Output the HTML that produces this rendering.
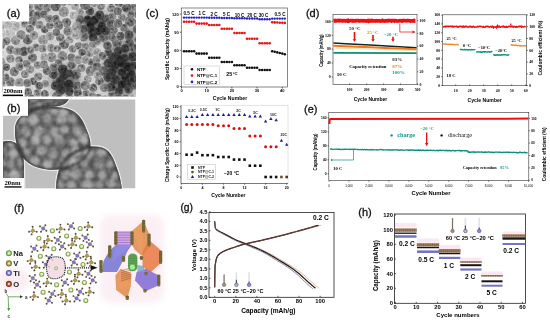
<!DOCTYPE html>
<html><head><meta charset="utf-8"><style>
html,body{margin:0;padding:0;background:#fff;width:550px;height:324px;overflow:hidden}
svg{display:block;will-change:transform}
</style></head><body>
<svg width="550" height="324" viewBox="0 0 550 324">
<defs>
<clipPath id="clipA"><rect x="2.5" y="4" width="133.5" height="92.5"/></clipPath>
<clipPath id="clipB"><rect x="3" y="99.3" width="132.5" height="89.3"/></clipPath>
<clipPath id="clipBp"><path d="M15,127 C17,116 28,109 42,107.5 C54,106.5 64,107 72,110.5 C80,115 84,122 87,131 C90,138 91,143 90,148 C88,156 82,162 72,166 C62,170 50,171 40,168 C32,166 26,162 22,156 C18,149 15,140 15,133 Z M28,98 L69,98 C68,103 62,106 55,106.5 C47,107 40,106.5 33,110 L28,114 Z M56,190 C56,180 58,170 62,163 C68,156 78,149 90,146.5 C98,146 104,147 108,151 C112,155 114,160 116,166 C119,173 121,181 122,190 Z M2,142 C8,140 15,141 19,146 C23,152 24,160 24,170 L24,190 L2,190 Z"/></clipPath>
<filter id="blur05" x="-5%" y="-5%" width="110%" height="110%"><feGaussianBlur stdDeviation="0.5"/></filter>
<filter id="blur4" x="-100%" y="-100%" width="300%" height="300%"><feGaussianBlur stdDeviation="4"/></filter>
<filter id="blur6" x="-100%" y="-100%" width="300%" height="300%"><feGaussianBlur stdDeviation="6"/></filter>
<filter id="noise" x="0" y="0" width="100%" height="100%" color-interpolation-filters="sRGB"><feTurbulence type="fractalNoise" baseFrequency="0.3" numOctaves="2" seed="4" result="n"/><feColorMatrix in="n" type="matrix" values="1 0 0 0 0  1 0 0 0 0  1 0 0 0 0  0 0 0 0 1"/><feComponentTransfer><feFuncR type="linear" slope="3" intercept="-1"/><feFuncG type="linear" slope="3" intercept="-1"/><feFuncB type="linear" slope="3" intercept="-1"/></feComponentTransfer></filter>
<filter id="noiseB" x="0" y="0" width="100%" height="100%" color-interpolation-filters="sRGB"><feTurbulence type="fractalNoise" baseFrequency="0.18" numOctaves="2" seed="9" result="n"/><feColorMatrix in="n" type="matrix" values="1 0 0 0 0  1 0 0 0 0  1 0 0 0 0  0 0 0 0 1"/><feComponentTransfer><feFuncR type="linear" slope="3" intercept="-1"/><feFuncG type="linear" slope="3" intercept="-1"/><feFuncB type="linear" slope="3" intercept="-1"/></feComponentTransfer></filter>
<filter id="blur06" x="-50%" y="-50%" width="200%" height="200%"><feGaussianBlur stdDeviation="0.6"/></filter>
<filter id="blur1" x="-50%" y="-50%" width="200%" height="200%"><feGaussianBlur stdDeviation="1"/></filter>
<filter id="blur15" x="-50%" y="-50%" width="200%" height="200%"><feGaussianBlur stdDeviation="1.5"/></filter>
<filter id="blur3" x="-50%" y="-50%" width="200%" height="200%"><feGaussianBlur stdDeviation="3"/></filter>
</defs>
<rect width="550" height="324" fill="#fff"/>
<g clip-path="url(#clipA)">
<rect x="2.5" y="4" width="133.5" height="92.5" fill="#d0d0d0" stroke="none" stroke-width="0.8" />
<g filter="url(#blur05)">
<circle cx="62.4" cy="56.4" r="5.7" fill="#dcdcdc" opacity="0.55"/>
<circle cx="62.4" cy="56.4" r="5.1" fill="rgb(138,138,138)"/>
<circle cx="63.7" cy="58.8" r="0.78" fill="rgb(91,91,91)" opacity="0.85"/>
<circle cx="61.7" cy="58.0" r="1.2" fill="rgb(99,99,99)" opacity="0.85"/>
<circle cx="63.0" cy="58.6" r="1.3" fill="rgb(93,93,93)" opacity="0.85"/>
<circle cx="60.5" cy="55.7" r="0.7" fill="rgb(168,168,168)" opacity="0.7"/>
<circle cx="64.5" cy="57.7" r="0.63" fill="rgb(179,179,179)" opacity="0.7"/>
<circle cx="24.0" cy="51.5" r="5.2" fill="#dcdcdc" opacity="0.06"/>
<circle cx="24.0" cy="51.5" r="4.6" fill="rgb(111,111,111)"/>
<circle cx="23.1" cy="52.8" r="1.1" fill="rgb(66,66,66)" opacity="0.85"/>
<circle cx="25.9" cy="52.5" r="0.93" fill="rgb(59,59,59)" opacity="0.85"/>
<circle cx="25.1" cy="51.6" r="1.2" fill="rgb(78,78,78)" opacity="0.85"/>
<circle cx="21.8" cy="53.1" r="0.97" fill="rgb(146,146,146)" opacity="0.7"/>
<circle cx="23.3" cy="51.9" r="0.61" fill="rgb(146,146,146)" opacity="0.7"/>
<circle cx="111.3" cy="8.6" r="4.8" fill="#dcdcdc" opacity="0.55"/>
<circle cx="111.3" cy="8.6" r="4.2" fill="rgb(140,140,140)"/>
<circle cx="112.7" cy="6.8" r="1" fill="rgb(89,89,89)" opacity="0.85"/>
<circle cx="110.6" cy="6.5" r="1.2" fill="rgb(80,80,80)" opacity="0.85"/>
<circle cx="112.5" cy="10.2" r="0.72" fill="rgb(88,88,88)" opacity="0.85"/>
<circle cx="111.8" cy="10.1" r="0.74" fill="rgb(107,107,107)" opacity="0.85"/>
<circle cx="109.7" cy="9.4" r="0.91" fill="rgb(184,184,184)" opacity="0.7"/>
<circle cx="10.5" cy="82.0" r="5.3" fill="#dcdcdc" opacity="0.55"/>
<circle cx="10.5" cy="82.0" r="4.7" fill="rgb(127,127,127)"/>
<circle cx="8.0" cy="81.8" r="1.3" fill="rgb(86,86,86)" opacity="0.85"/>
<circle cx="8.4" cy="82.0" r="1.1" fill="rgb(89,89,89)" opacity="0.85"/>
<circle cx="10.3" cy="84.1" r="0.81" fill="rgb(74,74,74)" opacity="0.85"/>
<circle cx="11.8" cy="83.4" r="0.8" fill="rgb(171,171,171)" opacity="0.7"/>
<circle cx="3.5" cy="99.7" r="5.7" fill="#dcdcdc" opacity="0.55"/>
<circle cx="3.5" cy="99.7" r="5.1" fill="rgb(122,122,122)"/>
<circle cx="5.5" cy="99.6" r="1.2" fill="rgb(84,84,84)" opacity="0.85"/>
<circle cx="2.4" cy="97.0" r="1" fill="rgb(65,65,65)" opacity="0.85"/>
<circle cx="3.7" cy="100.0" r="0.91" fill="rgb(85,85,85)" opacity="0.85"/>
<circle cx="5.5" cy="98.8" r="1.2" fill="rgb(64,64,64)" opacity="0.85"/>
<circle cx="2.7" cy="101.1" r="0.72" fill="rgb(72,72,72)" opacity="0.85"/>
<circle cx="6.5" cy="100.2" r="0.96" fill="rgb(156,156,156)" opacity="0.7"/>
<circle cx="4.5" cy="100.6" r="0.89" fill="rgb(166,166,166)" opacity="0.7"/>
<circle cx="91.3" cy="62.1" r="4.5" fill="#dcdcdc" opacity="0.55"/>
<circle cx="91.3" cy="62.1" r="3.9" fill="rgb(123,123,123)"/>
<circle cx="92.9" cy="60.6" r="0.93" fill="rgb(87,87,87)" opacity="0.85"/>
<circle cx="91.9" cy="62.0" r="1.1" fill="rgb(69,69,69)" opacity="0.85"/>
<circle cx="90.9" cy="62.7" r="0.77" fill="rgb(81,81,81)" opacity="0.85"/>
<circle cx="89.7" cy="62.5" r="1.2" fill="rgb(72,72,72)" opacity="0.85"/>
<circle cx="92.9" cy="61.0" r="0.8" fill="rgb(154,154,154)" opacity="0.7"/>
<circle cx="-0.3" cy="53.2" r="4.4" fill="#dcdcdc" opacity="0.55"/>
<circle cx="-0.3" cy="53.2" r="3.8" fill="rgb(163,163,163)"/>
<circle cx="0.3" cy="52.7" r="1.3" fill="rgb(104,104,104)" opacity="0.85"/>
<circle cx="-1.4" cy="54.2" r="0.78" fill="rgb(117,117,117)" opacity="0.85"/>
<circle cx="0.3" cy="51.8" r="0.78" fill="rgb(126,126,126)" opacity="0.85"/>
<circle cx="1.0" cy="53.5" r="0.93" fill="rgb(200,200,200)" opacity="0.7"/>
<circle cx="24.8" cy="23.8" r="4.3" fill="#dcdcdc" opacity="0.55"/>
<circle cx="24.8" cy="23.8" r="3.7" fill="rgb(144,144,144)"/>
<circle cx="24.2" cy="22.4" r="1.3" fill="rgb(106,106,106)" opacity="0.85"/>
<circle cx="26.1" cy="22.6" r="1.2" fill="rgb(85,85,85)" opacity="0.85"/>
<circle cx="22.9" cy="23.2" r="1.2" fill="rgb(89,89,89)" opacity="0.85"/>
<circle cx="24.3" cy="24.3" r="1" fill="rgb(97,97,97)" opacity="0.85"/>
<circle cx="25.4" cy="22.0" r="0.69" fill="rgb(177,177,177)" opacity="0.7"/>
<circle cx="64.1" cy="44.2" r="5.6" fill="#dcdcdc" opacity="0.55"/>
<circle cx="64.1" cy="44.2" r="5" fill="rgb(115,115,115)"/>
<circle cx="61.8" cy="43.7" r="1.1" fill="rgb(63,63,63)" opacity="0.85"/>
<circle cx="63.5" cy="46.2" r="0.97" fill="rgb(63,63,63)" opacity="0.85"/>
<circle cx="63.9" cy="41.6" r="1.1" fill="rgb(81,81,81)" opacity="0.85"/>
<circle cx="65.2" cy="44.8" r="0.89" fill="rgb(149,149,149)" opacity="0.7"/>
<circle cx="72.0" cy="64.6" r="5" fill="#dcdcdc" opacity="0.49"/>
<circle cx="72.0" cy="64.6" r="4.4" fill="rgb(135,135,135)"/>
<circle cx="72.8" cy="63.0" r="0.74" fill="rgb(89,89,89)" opacity="0.85"/>
<circle cx="73.4" cy="66.5" r="1.2" fill="rgb(78,78,78)" opacity="0.85"/>
<circle cx="69.9" cy="66.2" r="0.93" fill="rgb(95,95,95)" opacity="0.85"/>
<circle cx="73.6" cy="63.9" r="0.99" fill="rgb(79,79,79)" opacity="0.85"/>
<circle cx="70.0" cy="64.8" r="0.89" fill="rgb(160,160,160)" opacity="0.7"/>
<circle cx="72.5" cy="62.5" r="0.87" fill="rgb(171,171,171)" opacity="0.7"/>
<circle cx="92.6" cy="45.9" r="4.7" fill="#dcdcdc" opacity="0.54"/>
<circle cx="92.6" cy="45.9" r="4.1" fill="rgb(151,151,151)"/>
<circle cx="93.5" cy="44.5" r="0.9" fill="rgb(94,94,94)" opacity="0.85"/>
<circle cx="94.3" cy="44.9" r="0.84" fill="rgb(97,97,97)" opacity="0.85"/>
<circle cx="90.5" cy="46.1" r="1.1" fill="rgb(111,111,111)" opacity="0.85"/>
<circle cx="91.9" cy="46.3" r="1.2" fill="rgb(117,117,117)" opacity="0.85"/>
<circle cx="94.2" cy="46.0" r="1.1" fill="rgb(105,105,105)" opacity="0.85"/>
<circle cx="91.7" cy="43.6" r="0.61" fill="rgb(190,190,190)" opacity="0.7"/>
<circle cx="140.7" cy="101.1" r="5.6" fill="#dcdcdc" opacity="0.55"/>
<circle cx="140.7" cy="101.1" r="5" fill="rgb(122,122,122)"/>
<circle cx="142.6" cy="103.0" r="1.1" fill="rgb(63,63,63)" opacity="0.85"/>
<circle cx="139.3" cy="101.8" r="0.76" fill="rgb(77,77,77)" opacity="0.85"/>
<circle cx="143.1" cy="102.1" r="1.2" fill="rgb(89,89,89)" opacity="0.85"/>
<circle cx="139.6" cy="99.2" r="1.3" fill="rgb(90,90,90)" opacity="0.85"/>
<circle cx="141.3" cy="101.5" r="0.91" fill="rgb(153,153,153)" opacity="0.7"/>
<circle cx="99.1" cy="31.3" r="4.6" fill="#dcdcdc" opacity="0.04"/>
<circle cx="99.1" cy="31.3" r="4" fill="rgb(91,91,91)"/>
<circle cx="98.8" cy="31.2" r="0.87" fill="rgb(33,33,33)" opacity="0.85"/>
<circle cx="98.7" cy="30.8" r="0.86" fill="rgb(48,48,48)" opacity="0.85"/>
<circle cx="97.6" cy="29.5" r="1.1" fill="rgb(56,56,56)" opacity="0.85"/>
<circle cx="99.5" cy="32.1" r="0.94" fill="rgb(124,124,124)" opacity="0.7"/>
<circle cx="97.9" cy="32.5" r="0.88" fill="rgb(116,116,116)" opacity="0.7"/>
<circle cx="39.0" cy="6.2" r="5.4" fill="#dcdcdc" opacity="0.45"/>
<circle cx="39.0" cy="6.2" r="4.8" fill="rgb(140,140,140)"/>
<circle cx="40.7" cy="5.9" r="0.83" fill="rgb(107,107,107)" opacity="0.85"/>
<circle cx="37.1" cy="7.1" r="1" fill="rgb(84,84,84)" opacity="0.85"/>
<circle cx="38.4" cy="8.0" r="0.92" fill="rgb(90,90,90)" opacity="0.85"/>
<circle cx="39.3" cy="8.8" r="0.85" fill="rgb(105,105,105)" opacity="0.85"/>
<circle cx="38.5" cy="4.5" r="0.93" fill="rgb(173,173,173)" opacity="0.7"/>
<circle cx="41.7" cy="5.6" r="0.8" fill="rgb(175,175,175)" opacity="0.7"/>
<circle cx="55.0" cy="85.8" r="4.9" fill="#dcdcdc" opacity="0.24"/>
<circle cx="55.0" cy="85.8" r="4.3" fill="rgb(108,108,108)"/>
<circle cx="55.1" cy="85.8" r="1.3" fill="rgb(48,48,48)" opacity="0.85"/>
<circle cx="53.8" cy="84.6" r="1.1" fill="rgb(50,50,50)" opacity="0.85"/>
<circle cx="55.3" cy="85.3" r="0.83" fill="rgb(67,67,67)" opacity="0.85"/>
<circle cx="54.7" cy="83.7" r="0.8" fill="rgb(52,52,52)" opacity="0.85"/>
<circle cx="57.0" cy="87.1" r="0.65" fill="rgb(137,137,137)" opacity="0.7"/>
<circle cx="54.6" cy="84.1" r="0.97" fill="rgb(151,151,151)" opacity="0.7"/>
<circle cx="135.0" cy="85.8" r="4.3" fill="#dcdcdc" opacity="0.37"/>
<circle cx="135.0" cy="85.8" r="3.7" fill="rgb(121,121,121)"/>
<circle cx="134.2" cy="86.5" r="0.98" fill="rgb(63,63,63)" opacity="0.85"/>
<circle cx="136.4" cy="87.0" r="1" fill="rgb(68,68,68)" opacity="0.85"/>
<circle cx="133.8" cy="86.0" r="0.95" fill="rgb(71,71,71)" opacity="0.85"/>
<circle cx="134.6" cy="85.4" r="1.2" fill="rgb(88,88,88)" opacity="0.85"/>
<circle cx="134.3" cy="85.3" r="0.8" fill="rgb(157,157,157)" opacity="0.7"/>
<circle cx="133.3" cy="87.2" r="0.73" fill="rgb(160,160,160)" opacity="0.7"/>
<circle cx="27.6" cy="92.3" r="5" fill="#dcdcdc" opacity="0.55"/>
<circle cx="27.6" cy="92.3" r="4.4" fill="rgb(124,124,124)"/>
<circle cx="25.3" cy="93.5" r="0.96" fill="rgb(77,77,77)" opacity="0.85"/>
<circle cx="28.5" cy="93.4" r="0.97" fill="rgb(90,90,90)" opacity="0.85"/>
<circle cx="27.8" cy="90.3" r="0.98" fill="rgb(66,66,66)" opacity="0.85"/>
<circle cx="26.0" cy="91.4" r="0.64" fill="rgb(151,151,151)" opacity="0.7"/>
<circle cx="138.2" cy="39.7" r="4.4" fill="#dcdcdc" opacity="0.42"/>
<circle cx="138.2" cy="39.7" r="3.8" fill="rgb(140,140,140)"/>
<circle cx="139.2" cy="41.0" r="0.86" fill="rgb(106,106,106)" opacity="0.85"/>
<circle cx="137.6" cy="40.5" r="0.86" fill="rgb(100,100,100)" opacity="0.85"/>
<circle cx="136.5" cy="40.0" r="0.77" fill="rgb(107,107,107)" opacity="0.85"/>
<circle cx="138.0" cy="37.8" r="0.73" fill="rgb(100,100,100)" opacity="0.85"/>
<circle cx="137.2" cy="39.6" r="0.68" fill="rgb(168,168,168)" opacity="0.7"/>
<circle cx="87.8" cy="78.8" r="4.7" fill="#dcdcdc" opacity="0.55"/>
<circle cx="87.8" cy="78.8" r="4.1" fill="rgb(155,155,155)"/>
<circle cx="86.0" cy="79.6" r="0.8" fill="rgb(114,114,114)" opacity="0.85"/>
<circle cx="87.4" cy="79.1" r="0.72" fill="rgb(114,114,114)" opacity="0.85"/>
<circle cx="86.3" cy="80.7" r="1" fill="rgb(114,114,114)" opacity="0.85"/>
<circle cx="86.0" cy="78.8" r="1.1" fill="rgb(120,120,120)" opacity="0.85"/>
<circle cx="86.6" cy="78.8" r="0.87" fill="rgb(190,190,190)" opacity="0.7"/>
<circle cx="89.1" cy="79.9" r="0.94" fill="rgb(183,183,183)" opacity="0.7"/>
<circle cx="10.0" cy="33.1" r="5.7" fill="#dcdcdc" opacity="0.55"/>
<circle cx="10.0" cy="33.1" r="5.1" fill="rgb(170,170,170)"/>
<circle cx="7.9" cy="31.6" r="1.1" fill="rgb(129,129,129)" opacity="0.85"/>
<circle cx="7.6" cy="31.6" r="1.3" fill="rgb(138,138,138)" opacity="0.85"/>
<circle cx="8.9" cy="34.0" r="0.8" fill="rgb(116,116,116)" opacity="0.85"/>
<circle cx="9.5" cy="30.2" r="0.6" fill="rgb(207,207,207)" opacity="0.7"/>
<circle cx="12.0" cy="5.1" r="5.5" fill="#dcdcdc" opacity="0.55"/>
<circle cx="12.0" cy="5.1" r="4.9" fill="rgb(146,146,146)"/>
<circle cx="11.4" cy="3.2" r="0.88" fill="rgb(90,90,90)" opacity="0.85"/>
<circle cx="13.3" cy="4.9" r="0.78" fill="rgb(109,109,109)" opacity="0.85"/>
<circle cx="11.2" cy="5.6" r="0.83" fill="rgb(103,103,103)" opacity="0.85"/>
<circle cx="14.2" cy="6.8" r="0.83" fill="rgb(179,179,179)" opacity="0.7"/>
<circle cx="24.9" cy="74.0" r="4.5" fill="#dcdcdc" opacity="0.55"/>
<circle cx="24.9" cy="74.0" r="3.9" fill="rgb(137,137,137)"/>
<circle cx="26.5" cy="73.7" r="0.96" fill="rgb(81,81,81)" opacity="0.85"/>
<circle cx="26.2" cy="72.5" r="0.77" fill="rgb(85,85,85)" opacity="0.85"/>
<circle cx="25.1" cy="74.6" r="0.79" fill="rgb(89,89,89)" opacity="0.85"/>
<circle cx="26.0" cy="72.9" r="1" fill="rgb(93,93,93)" opacity="0.85"/>
<circle cx="26.7" cy="72.8" r="1.2" fill="rgb(101,101,101)" opacity="0.85"/>
<circle cx="23.1" cy="74.6" r="0.94" fill="rgb(168,168,168)" opacity="0.7"/>
<circle cx="89.9" cy="10.9" r="4.9" fill="#dcdcdc" opacity="0.43"/>
<circle cx="89.9" cy="10.9" r="4.3" fill="rgb(113,113,113)"/>
<circle cx="89.7" cy="9.7" r="1.2" fill="rgb(79,79,79)" opacity="0.85"/>
<circle cx="91.1" cy="9.8" r="1.2" fill="rgb(56,56,56)" opacity="0.85"/>
<circle cx="89.2" cy="9.5" r="1.1" fill="rgb(58,58,58)" opacity="0.85"/>
<circle cx="89.3" cy="10.8" r="1.1" fill="rgb(66,66,66)" opacity="0.85"/>
<circle cx="89.9" cy="11.9" r="0.89" fill="rgb(56,56,56)" opacity="0.85"/>
<circle cx="89.2" cy="11.1" r="0.62" fill="rgb(152,152,152)" opacity="0.7"/>
<circle cx="112.8" cy="30.2" r="5.6" fill="#dcdcdc" opacity="0.51"/>
<circle cx="112.8" cy="30.2" r="5" fill="rgb(135,135,135)"/>
<circle cx="115.4" cy="28.8" r="0.87" fill="rgb(89,89,89)" opacity="0.85"/>
<circle cx="112.7" cy="29.2" r="1" fill="rgb(81,81,81)" opacity="0.85"/>
<circle cx="111.5" cy="28.7" r="0.81" fill="rgb(78,78,78)" opacity="0.85"/>
<circle cx="111.7" cy="32.8" r="1.1" fill="rgb(85,85,85)" opacity="0.85"/>
<circle cx="112.1" cy="29.3" r="0.95" fill="rgb(103,103,103)" opacity="0.85"/>
<circle cx="114.2" cy="28.7" r="0.81" fill="rgb(161,161,161)" opacity="0.7"/>
<circle cx="111.1" cy="30.5" r="0.86" fill="rgb(166,166,166)" opacity="0.7"/>
<circle cx="27.7" cy="39.4" r="5.6" fill="#dcdcdc" opacity="0.55"/>
<circle cx="27.7" cy="39.4" r="5" fill="rgb(113,113,113)"/>
<circle cx="28.7" cy="40.8" r="1.2" fill="rgb(71,71,71)" opacity="0.85"/>
<circle cx="27.7" cy="41.1" r="0.88" fill="rgb(70,70,70)" opacity="0.85"/>
<circle cx="28.3" cy="38.9" r="0.91" fill="rgb(65,65,65)" opacity="0.85"/>
<circle cx="26.2" cy="38.7" r="0.68" fill="rgb(144,144,144)" opacity="0.7"/>
<circle cx="26.2" cy="37.4" r="0.64" fill="rgb(155,155,155)" opacity="0.7"/>
<circle cx="44.7" cy="29.4" r="4.4" fill="#dcdcdc" opacity="0.55"/>
<circle cx="44.7" cy="29.4" r="3.8" fill="rgb(123,123,123)"/>
<circle cx="44.8" cy="29.2" r="1.1" fill="rgb(75,75,75)" opacity="0.85"/>
<circle cx="42.8" cy="29.2" r="0.99" fill="rgb(69,69,69)" opacity="0.85"/>
<circle cx="44.2" cy="31.0" r="1" fill="rgb(73,73,73)" opacity="0.85"/>
<circle cx="45.1" cy="27.6" r="1.2" fill="rgb(88,88,88)" opacity="0.85"/>
<circle cx="43.3" cy="31.0" r="0.99" fill="rgb(74,74,74)" opacity="0.85"/>
<circle cx="43.8" cy="29.1" r="0.81" fill="rgb(163,163,163)" opacity="0.7"/>
<circle cx="46.0" cy="28.0" r="0.69" fill="rgb(152,152,152)" opacity="0.7"/>
<circle cx="10.4" cy="58.7" r="4.7" fill="#dcdcdc" opacity="0.55"/>
<circle cx="10.4" cy="58.7" r="4.1" fill="rgb(140,140,140)"/>
<circle cx="10.4" cy="59.2" r="0.99" fill="rgb(104,104,104)" opacity="0.85"/>
<circle cx="9.8" cy="58.0" r="0.88" fill="rgb(97,97,97)" opacity="0.85"/>
<circle cx="8.2" cy="59.2" r="1.1" fill="rgb(99,99,99)" opacity="0.85"/>
<circle cx="12.8" cy="59.1" r="0.78" fill="rgb(83,83,83)" opacity="0.85"/>
<circle cx="9.2" cy="60.4" r="0.94" fill="rgb(174,174,174)" opacity="0.7"/>
<circle cx="83.8" cy="37.1" r="5" fill="#dcdcdc" opacity="0.38"/>
<circle cx="83.8" cy="37.1" r="4.4" fill="rgb(134,134,134)"/>
<circle cx="82.9" cy="36.3" r="1.1" fill="rgb(77,77,77)" opacity="0.85"/>
<circle cx="84.2" cy="35.0" r="0.73" fill="rgb(91,91,91)" opacity="0.85"/>
<circle cx="82.1" cy="37.6" r="1.3" fill="rgb(79,79,79)" opacity="0.85"/>
<circle cx="81.9" cy="38.6" r="0.68" fill="rgb(173,173,173)" opacity="0.7"/>
<circle cx="135.1" cy="48.6" r="5.2" fill="#dcdcdc" opacity="0.47"/>
<circle cx="135.1" cy="48.6" r="4.6" fill="rgb(132,132,132)"/>
<circle cx="133.1" cy="50.2" r="1.3" fill="rgb(84,84,84)" opacity="0.85"/>
<circle cx="137.7" cy="48.8" r="1.1" fill="rgb(79,79,79)" opacity="0.85"/>
<circle cx="135.0" cy="46.2" r="1.1" fill="rgb(86,86,86)" opacity="0.85"/>
<circle cx="136.9" cy="49.8" r="0.77" fill="rgb(92,92,92)" opacity="0.85"/>
<circle cx="135.9" cy="47.4" r="1.1" fill="rgb(94,94,94)" opacity="0.85"/>
<circle cx="133.6" cy="49.7" r="0.65" fill="rgb(160,160,160)" opacity="0.7"/>
<circle cx="133.7" cy="50.3" r="0.74" fill="rgb(175,175,175)" opacity="0.7"/>
<circle cx="121.8" cy="17.7" r="4.5" fill="#dcdcdc" opacity="0.55"/>
<circle cx="121.8" cy="17.7" r="3.9" fill="rgb(146,146,146)"/>
<circle cx="120.7" cy="15.9" r="0.9" fill="rgb(113,113,113)" opacity="0.85"/>
<circle cx="120.5" cy="19.7" r="0.86" fill="rgb(111,111,111)" opacity="0.85"/>
<circle cx="122.0" cy="18.9" r="0.84" fill="rgb(112,112,112)" opacity="0.85"/>
<circle cx="120.7" cy="18.2" r="0.93" fill="rgb(111,111,111)" opacity="0.85"/>
<circle cx="120.1" cy="16.4" r="0.76" fill="rgb(183,183,183)" opacity="0.7"/>
<circle cx="127.9" cy="82.8" r="4.7" fill="#dcdcdc" opacity="0.08"/>
<circle cx="127.9" cy="82.8" r="4.1" fill="rgb(110,110,110)"/>
<circle cx="126.4" cy="83.5" r="1.2" fill="rgb(62,62,62)" opacity="0.85"/>
<circle cx="129.5" cy="84.1" r="1.3" fill="rgb(64,64,64)" opacity="0.85"/>
<circle cx="128.3" cy="80.7" r="1.1" fill="rgb(69,69,69)" opacity="0.85"/>
<circle cx="126.7" cy="84.4" r="0.88" fill="rgb(70,70,70)" opacity="0.85"/>
<circle cx="126.4" cy="83.0" r="0.95" fill="rgb(153,153,153)" opacity="0.7"/>
<circle cx="126.7" cy="83.5" r="0.92" fill="rgb(149,149,149)" opacity="0.7"/>
<circle cx="83.1" cy="29.1" r="4.6" fill="#dcdcdc" opacity="0.16"/>
<circle cx="83.1" cy="29.1" r="4" fill="rgb(112,112,112)"/>
<circle cx="81.0" cy="29.4" r="1" fill="rgb(78,78,78)" opacity="0.85"/>
<circle cx="81.2" cy="28.8" r="0.96" fill="rgb(57,57,57)" opacity="0.85"/>
<circle cx="80.9" cy="28.4" r="1.1" fill="rgb(81,81,81)" opacity="0.85"/>
<circle cx="82.2" cy="31.1" r="1.1" fill="rgb(69,69,69)" opacity="0.85"/>
<circle cx="83.1" cy="28.9" r="0.7" fill="rgb(139,139,139)" opacity="0.7"/>
<circle cx="84.1" cy="31.0" r="0.71" fill="rgb(154,154,154)" opacity="0.7"/>
<circle cx="100.9" cy="6.0" r="4.6" fill="#dcdcdc" opacity="0.55"/>
<circle cx="100.9" cy="6.0" r="4" fill="rgb(143,143,143)"/>
<circle cx="99.4" cy="5.2" r="1" fill="rgb(86,86,86)" opacity="0.85"/>
<circle cx="101.7" cy="8.0" r="1.2" fill="rgb(89,89,89)" opacity="0.85"/>
<circle cx="101.5" cy="3.8" r="0.71" fill="rgb(90,90,90)" opacity="0.85"/>
<circle cx="100.3" cy="8.3" r="1.1" fill="rgb(104,104,104)" opacity="0.85"/>
<circle cx="101.9" cy="4.2" r="1.2" fill="rgb(85,85,85)" opacity="0.85"/>
<circle cx="101.7" cy="7.3" r="0.91" fill="rgb(177,177,177)" opacity="0.7"/>
<circle cx="101.2" cy="5.8" r="0.96" fill="rgb(174,174,174)" opacity="0.7"/>
<circle cx="77.8" cy="86.4" r="5.2" fill="#dcdcdc" opacity="0.41"/>
<circle cx="77.8" cy="86.4" r="4.6" fill="rgb(129,129,129)"/>
<circle cx="76.4" cy="86.7" r="0.89" fill="rgb(94,94,94)" opacity="0.85"/>
<circle cx="79.9" cy="86.7" r="0.94" fill="rgb(92,92,92)" opacity="0.85"/>
<circle cx="75.9" cy="86.8" r="0.97" fill="rgb(84,84,84)" opacity="0.85"/>
<circle cx="80.2" cy="85.9" r="0.81" fill="rgb(157,157,157)" opacity="0.7"/>
<circle cx="78.0" cy="86.4" r="1" fill="rgb(156,156,156)" opacity="0.7"/>
<circle cx="37.7" cy="93.0" r="4.6" fill="#dcdcdc" opacity="0.55"/>
<circle cx="37.7" cy="93.0" r="4" fill="rgb(141,141,141)"/>
<circle cx="36.4" cy="91.4" r="1" fill="rgb(82,82,82)" opacity="0.85"/>
<circle cx="38.9" cy="93.9" r="0.76" fill="rgb(93,93,93)" opacity="0.85"/>
<circle cx="37.1" cy="91.3" r="1.3" fill="rgb(109,109,109)" opacity="0.85"/>
<circle cx="36.8" cy="94.2" r="0.82" fill="rgb(84,84,84)" opacity="0.85"/>
<circle cx="37.6" cy="91.1" r="1.3" fill="rgb(99,99,99)" opacity="0.85"/>
<circle cx="37.0" cy="92.1" r="0.87" fill="rgb(167,167,167)" opacity="0.7"/>
<circle cx="-0.1" cy="26.6" r="5" fill="#dcdcdc" opacity="0.55"/>
<circle cx="-0.1" cy="26.6" r="4.4" fill="rgb(136,136,136)"/>
<circle cx="-2.3" cy="26.6" r="1.1" fill="rgb(90,90,90)" opacity="0.85"/>
<circle cx="0.8" cy="28.5" r="0.73" fill="rgb(104,104,104)" opacity="0.85"/>
<circle cx="-1.1" cy="26.9" r="0.91" fill="rgb(103,103,103)" opacity="0.85"/>
<circle cx="-1.7" cy="25.8" r="1.1" fill="rgb(92,92,92)" opacity="0.85"/>
<circle cx="0.3" cy="28.6" r="0.94" fill="rgb(167,167,167)" opacity="0.7"/>
<circle cx="-1.1" cy="26.7" r="0.65" fill="rgb(164,164,164)" opacity="0.7"/>
<circle cx="6.2" cy="17.1" r="4.9" fill="#dcdcdc" opacity="0.55"/>
<circle cx="6.2" cy="17.1" r="4.3" fill="rgb(149,149,149)"/>
<circle cx="5.9" cy="18.5" r="1.3" fill="rgb(90,90,90)" opacity="0.85"/>
<circle cx="7.6" cy="19.2" r="0.9" fill="rgb(98,98,98)" opacity="0.85"/>
<circle cx="7.7" cy="18.5" r="0.93" fill="rgb(91,91,91)" opacity="0.85"/>
<circle cx="6.6" cy="16.8" r="1.2" fill="rgb(92,92,92)" opacity="0.85"/>
<circle cx="7.2" cy="19.1" r="0.75" fill="rgb(179,179,179)" opacity="0.7"/>
<circle cx="79.6" cy="12.5" r="4.8" fill="#dcdcdc" opacity="0.53"/>
<circle cx="79.6" cy="12.5" r="4.2" fill="rgb(151,151,151)"/>
<circle cx="80.0" cy="12.0" r="1.1" fill="rgb(107,107,107)" opacity="0.85"/>
<circle cx="78.3" cy="13.7" r="0.86" fill="rgb(98,98,98)" opacity="0.85"/>
<circle cx="79.1" cy="13.9" r="0.9" fill="rgb(120,120,120)" opacity="0.85"/>
<circle cx="81.5" cy="12.4" r="0.74" fill="rgb(179,179,179)" opacity="0.7"/>
<circle cx="80.8" cy="12.6" r="0.64" fill="rgb(188,188,188)" opacity="0.7"/>
<circle cx="125.3" cy="99.5" r="5.3" fill="#dcdcdc" opacity="0.46"/>
<circle cx="125.3" cy="99.5" r="4.7" fill="rgb(132,132,132)"/>
<circle cx="126.1" cy="98.2" r="0.73" fill="rgb(91,91,91)" opacity="0.85"/>
<circle cx="123.6" cy="98.7" r="1.1" fill="rgb(84,84,84)" opacity="0.85"/>
<circle cx="127.3" cy="99.5" r="1" fill="rgb(78,78,78)" opacity="0.85"/>
<circle cx="124.8" cy="98.4" r="1.2" fill="rgb(75,75,75)" opacity="0.85"/>
<circle cx="126.2" cy="98.0" r="0.75" fill="rgb(175,175,175)" opacity="0.7"/>
<circle cx="124.7" cy="99.8" r="0.73" fill="rgb(167,167,167)" opacity="0.7"/>
<circle cx="96.7" cy="58.9" r="4.5" fill="#dcdcdc" opacity="0.55"/>
<circle cx="96.7" cy="58.9" r="3.9" fill="rgb(136,136,136)"/>
<circle cx="96.2" cy="60.6" r="0.97" fill="rgb(78,78,78)" opacity="0.85"/>
<circle cx="95.2" cy="58.0" r="0.87" fill="rgb(105,105,105)" opacity="0.85"/>
<circle cx="97.1" cy="56.7" r="0.75" fill="rgb(98,98,98)" opacity="0.85"/>
<circle cx="96.1" cy="59.7" r="0.77" fill="rgb(176,176,176)" opacity="0.7"/>
<circle cx="97.0" cy="57.9" r="0.69" fill="rgb(172,172,172)" opacity="0.7"/>
<circle cx="2.5" cy="0.8" r="5.7" fill="#dcdcdc" opacity="0.55"/>
<circle cx="2.5" cy="0.8" r="5.1" fill="rgb(120,120,120)"/>
<circle cx="3.9" cy="3.1" r="1.2" fill="rgb(64,64,64)" opacity="0.85"/>
<circle cx="2.8" cy="0.1" r="1" fill="rgb(63,63,63)" opacity="0.85"/>
<circle cx="3.6" cy="-1.8" r="1.1" fill="rgb(86,86,86)" opacity="0.85"/>
<circle cx="0.6" cy="0.5" r="0.83" fill="rgb(70,70,70)" opacity="0.85"/>
<circle cx="3.7" cy="-1.6" r="0.63" fill="rgb(160,160,160)" opacity="0.7"/>
<circle cx="98.1" cy="97.7" r="4.3" fill="#dcdcdc" opacity="0.55"/>
<circle cx="98.1" cy="97.7" r="3.7" fill="rgb(120,120,120)"/>
<circle cx="97.9" cy="97.4" r="1.2" fill="rgb(75,75,75)" opacity="0.85"/>
<circle cx="97.4" cy="97.5" r="1.2" fill="rgb(77,77,77)" opacity="0.85"/>
<circle cx="98.4" cy="99.4" r="1.2" fill="rgb(88,88,88)" opacity="0.85"/>
<circle cx="96.1" cy="96.6" r="1.1" fill="rgb(87,87,87)" opacity="0.85"/>
<circle cx="98.8" cy="96.6" r="0.63" fill="rgb(157,157,157)" opacity="0.7"/>
<circle cx="43.3" cy="101.4" r="4.4" fill="#dcdcdc" opacity="0.55"/>
<circle cx="43.3" cy="101.4" r="3.8" fill="rgb(136,136,136)"/>
<circle cx="45.0" cy="100.7" r="1.1" fill="rgb(84,84,84)" opacity="0.85"/>
<circle cx="45.2" cy="101.8" r="0.85" fill="rgb(83,83,83)" opacity="0.85"/>
<circle cx="42.5" cy="100.9" r="1" fill="rgb(95,95,95)" opacity="0.85"/>
<circle cx="44.5" cy="102.6" r="0.74" fill="rgb(82,82,82)" opacity="0.85"/>
<circle cx="44.3" cy="101.3" r="0.82" fill="rgb(93,93,93)" opacity="0.85"/>
<circle cx="45.0" cy="101.7" r="0.71" fill="rgb(175,175,175)" opacity="0.7"/>
<circle cx="43.8" cy="100.9" r="0.75" fill="rgb(164,164,164)" opacity="0.7"/>
<circle cx="75.9" cy="74.5" r="5.7" fill="#dcdcdc" opacity="0.28"/>
<circle cx="75.9" cy="74.5" r="5.1" fill="rgb(139,139,139)"/>
<circle cx="73.7" cy="75.8" r="0.95" fill="rgb(80,80,80)" opacity="0.85"/>
<circle cx="76.0" cy="75.3" r="1.2" fill="rgb(90,90,90)" opacity="0.85"/>
<circle cx="77.4" cy="77.0" r="1.1" fill="rgb(85,85,85)" opacity="0.85"/>
<circle cx="75.9" cy="72.9" r="1" fill="rgb(80,80,80)" opacity="0.85"/>
<circle cx="76.0" cy="75.7" r="0.77" fill="rgb(87,87,87)" opacity="0.85"/>
<circle cx="75.2" cy="76.1" r="0.69" fill="rgb(171,171,171)" opacity="0.7"/>
<circle cx="76.0" cy="75.4" r="0.75" fill="rgb(180,180,180)" opacity="0.7"/>
<circle cx="103.3" cy="71.1" r="5.5" fill="#dcdcdc" opacity="0.38"/>
<circle cx="103.3" cy="71.1" r="4.9" fill="rgb(130,130,130)"/>
<circle cx="104.9" cy="71.9" r="1.2" fill="rgb(91,91,91)" opacity="0.85"/>
<circle cx="101.2" cy="72.9" r="1.2" fill="rgb(98,98,98)" opacity="0.85"/>
<circle cx="104.3" cy="73.7" r="0.7" fill="rgb(79,79,79)" opacity="0.85"/>
<circle cx="105.0" cy="72.2" r="0.96" fill="rgb(162,162,162)" opacity="0.7"/>
<circle cx="102.2" cy="71.8" r="0.97" fill="rgb(162,162,162)" opacity="0.7"/>
<circle cx="128.8" cy="35.1" r="5.3" fill="#dcdcdc" opacity="0.22"/>
<circle cx="128.8" cy="35.1" r="4.7" fill="rgb(121,121,121)"/>
<circle cx="128.4" cy="35.0" r="1.2" fill="rgb(73,73,73)" opacity="0.85"/>
<circle cx="128.0" cy="34.7" r="1.3" fill="rgb(77,77,77)" opacity="0.85"/>
<circle cx="129.1" cy="34.2" r="1" fill="rgb(70,70,70)" opacity="0.85"/>
<circle cx="126.7" cy="35.4" r="0.79" fill="rgb(155,155,155)" opacity="0.7"/>
<circle cx="110.9" cy="87.5" r="5.2" fill="#dcdcdc" opacity="0.26"/>
<circle cx="110.9" cy="87.5" r="4.6" fill="rgb(110,110,110)"/>
<circle cx="109.2" cy="88.1" r="0.78" fill="rgb(58,58,58)" opacity="0.85"/>
<circle cx="109.6" cy="86.9" r="1" fill="rgb(70,70,70)" opacity="0.85"/>
<circle cx="113.6" cy="87.5" r="0.9" fill="rgb(69,69,69)" opacity="0.85"/>
<circle cx="113.7" cy="87.4" r="1.2" fill="rgb(50,50,50)" opacity="0.85"/>
<circle cx="110.3" cy="87.9" r="0.86" fill="rgb(153,153,153)" opacity="0.7"/>
<circle cx="111.6" cy="86.7" r="0.72" fill="rgb(140,140,140)" opacity="0.7"/>
<circle cx="53.2" cy="74.3" r="5.2" fill="#dcdcdc" opacity="0.34"/>
<circle cx="53.2" cy="74.3" r="4.6" fill="rgb(116,116,116)"/>
<circle cx="53.9" cy="75.4" r="1.2" fill="rgb(67,67,67)" opacity="0.85"/>
<circle cx="52.5" cy="75.9" r="1.2" fill="rgb(71,71,71)" opacity="0.85"/>
<circle cx="54.5" cy="73.2" r="1.1" fill="rgb(57,57,57)" opacity="0.85"/>
<circle cx="51.9" cy="73.0" r="1.3" fill="rgb(81,81,81)" opacity="0.85"/>
<circle cx="54.3" cy="75.0" r="0.6" fill="rgb(160,160,160)" opacity="0.7"/>
<circle cx="54.2" cy="76.3" r="0.73" fill="rgb(147,147,147)" opacity="0.7"/>
<circle cx="66.5" cy="22.6" r="5.3" fill="#dcdcdc" opacity="0.55"/>
<circle cx="66.5" cy="22.6" r="4.7" fill="rgb(116,116,116)"/>
<circle cx="67.3" cy="21.4" r="0.82" fill="rgb(76,76,76)" opacity="0.85"/>
<circle cx="67.1" cy="22.6" r="0.87" fill="rgb(68,68,68)" opacity="0.85"/>
<circle cx="66.6" cy="21.3" r="0.89" fill="rgb(70,70,70)" opacity="0.85"/>
<circle cx="65.2" cy="25.1" r="0.92" fill="rgb(141,141,141)" opacity="0.7"/>
<circle cx="34.2" cy="0.2" r="4.8" fill="#dcdcdc" opacity="0.55"/>
<circle cx="34.2" cy="0.2" r="4.2" fill="rgb(135,135,135)"/>
<circle cx="33.8" cy="-0.4" r="1.2" fill="rgb(97,97,97)" opacity="0.85"/>
<circle cx="34.7" cy="2.6" r="1.2" fill="rgb(77,77,77)" opacity="0.85"/>
<circle cx="34.5" cy="1.3" r="1.2" fill="rgb(78,78,78)" opacity="0.85"/>
<circle cx="34.7" cy="1.1" r="0.94" fill="rgb(171,171,171)" opacity="0.7"/>
<circle cx="34.6" cy="0.0" r="0.65" fill="rgb(178,178,178)" opacity="0.7"/>
<circle cx="94.8" cy="19.8" r="4.6" fill="#dcdcdc" opacity="0.02"/>
<circle cx="94.8" cy="19.8" r="4" fill="rgb(91,91,91)"/>
<circle cx="95.5" cy="19.2" r="1.1" fill="rgb(52,52,52)" opacity="0.85"/>
<circle cx="94.7" cy="18.1" r="1.2" fill="rgb(56,56,56)" opacity="0.85"/>
<circle cx="96.2" cy="21.1" r="0.88" fill="rgb(54,54,54)" opacity="0.85"/>
<circle cx="94.3" cy="19.8" r="0.86" fill="rgb(122,122,122)" opacity="0.7"/>
<circle cx="94.2" cy="21.3" r="0.65" fill="rgb(133,133,133)" opacity="0.7"/>
<circle cx="127.5" cy="66.6" r="5" fill="#dcdcdc" opacity="0.01"/>
<circle cx="127.5" cy="66.6" r="4.4" fill="rgb(85,85,85)"/>
<circle cx="125.4" cy="67.6" r="0.95" fill="rgb(32,32,32)" opacity="0.85"/>
<circle cx="129.2" cy="65.8" r="1.3" fill="rgb(53,53,53)" opacity="0.85"/>
<circle cx="127.1" cy="66.0" r="1" fill="rgb(35,35,35)" opacity="0.85"/>
<circle cx="126.8" cy="67.6" r="0.99" fill="rgb(119,119,119)" opacity="0.7"/>
<circle cx="128.7" cy="89.2" r="4.9" fill="#dcdcdc" opacity="0.24"/>
<circle cx="128.7" cy="89.2" r="4.3" fill="rgb(118,118,118)"/>
<circle cx="128.5" cy="91.2" r="0.75" fill="rgb(80,80,80)" opacity="0.85"/>
<circle cx="128.2" cy="90.2" r="0.92" fill="rgb(62,62,62)" opacity="0.85"/>
<circle cx="128.2" cy="89.9" r="1.1" fill="rgb(82,82,82)" opacity="0.85"/>
<circle cx="129.7" cy="89.4" r="0.85" fill="rgb(77,77,77)" opacity="0.85"/>
<circle cx="130.7" cy="89.9" r="0.96" fill="rgb(158,158,158)" opacity="0.7"/>
<circle cx="68.7" cy="84.8" r="5.6" fill="#dcdcdc" opacity="0.02"/>
<circle cx="68.7" cy="84.8" r="5" fill="rgb(99,99,99)"/>
<circle cx="70.5" cy="86.3" r="1" fill="rgb(57,57,57)" opacity="0.85"/>
<circle cx="68.3" cy="85.5" r="0.88" fill="rgb(64,64,64)" opacity="0.85"/>
<circle cx="68.4" cy="83.7" r="0.94" fill="rgb(59,59,59)" opacity="0.85"/>
<circle cx="67.2" cy="85.9" r="0.7" fill="rgb(127,127,127)" opacity="0.7"/>
<circle cx="68.4" cy="31.3" r="5.6" fill="#dcdcdc" opacity="0.55"/>
<circle cx="68.4" cy="31.3" r="5" fill="rgb(140,140,140)"/>
<circle cx="67.4" cy="33.2" r="1.1" fill="rgb(108,108,108)" opacity="0.85"/>
<circle cx="66.6" cy="31.7" r="1.2" fill="rgb(104,104,104)" opacity="0.85"/>
<circle cx="69.4" cy="31.4" r="0.82" fill="rgb(83,83,83)" opacity="0.85"/>
<circle cx="68.9" cy="29.4" r="1.2" fill="rgb(86,86,86)" opacity="0.85"/>
<circle cx="67.1" cy="32.9" r="0.65" fill="rgb(167,167,167)" opacity="0.7"/>
<circle cx="70.7" cy="30.6" r="0.7" fill="rgb(178,178,178)" opacity="0.7"/>
<circle cx="2.0" cy="88.5" r="4.4" fill="#dcdcdc" opacity="0.55"/>
<circle cx="2.0" cy="88.5" r="3.8" fill="rgb(136,136,136)"/>
<circle cx="3.8" cy="89.6" r="1" fill="rgb(78,78,78)" opacity="0.85"/>
<circle cx="3.2" cy="89.8" r="0.76" fill="rgb(81,81,81)" opacity="0.85"/>
<circle cx="1.0" cy="88.9" r="0.94" fill="rgb(80,80,80)" opacity="0.85"/>
<circle cx="3.9" cy="87.5" r="1.1" fill="rgb(88,88,88)" opacity="0.85"/>
<circle cx="1.7" cy="90.2" r="0.84" fill="rgb(163,163,163)" opacity="0.7"/>
<circle cx="0.9" cy="87.0" r="0.9" fill="rgb(169,169,169)" opacity="0.7"/>
<circle cx="111.1" cy="1.0" r="4.5" fill="#dcdcdc" opacity="0.55"/>
<circle cx="111.1" cy="1.0" r="3.9" fill="rgb(113,113,113)"/>
<circle cx="109.5" cy="0.6" r="0.85" fill="rgb(81,81,81)" opacity="0.85"/>
<circle cx="111.6" cy="0.8" r="1.3" fill="rgb(77,77,77)" opacity="0.85"/>
<circle cx="111.3" cy="3.2" r="1.2" fill="rgb(77,77,77)" opacity="0.85"/>
<circle cx="112.2" cy="-0.7" r="0.86" fill="rgb(139,139,139)" opacity="0.7"/>
<circle cx="62.8" cy="1.5" r="5.5" fill="#dcdcdc" opacity="0.55"/>
<circle cx="62.8" cy="1.5" r="4.9" fill="rgb(146,146,146)"/>
<circle cx="61.3" cy="3.0" r="1.2" fill="rgb(100,100,100)" opacity="0.85"/>
<circle cx="63.2" cy="1.6" r="1" fill="rgb(88,88,88)" opacity="0.85"/>
<circle cx="61.4" cy="3.4" r="0.7" fill="rgb(89,89,89)" opacity="0.85"/>
<circle cx="62.3" cy="-1.3" r="0.84" fill="rgb(88,88,88)" opacity="0.85"/>
<circle cx="63.6" cy="1.9" r="0.67" fill="rgb(181,181,181)" opacity="0.7"/>
<circle cx="62.0" cy="2.6" r="0.65" fill="rgb(176,176,176)" opacity="0.7"/>
<circle cx="31.6" cy="13.4" r="4.4" fill="#dcdcdc" opacity="0.48"/>
<circle cx="31.6" cy="13.4" r="3.8" fill="rgb(143,143,143)"/>
<circle cx="30.6" cy="13.3" r="1.3" fill="rgb(104,104,104)" opacity="0.85"/>
<circle cx="31.2" cy="11.2" r="1.2" fill="rgb(100,100,100)" opacity="0.85"/>
<circle cx="30.7" cy="15.2" r="0.98" fill="rgb(87,87,87)" opacity="0.85"/>
<circle cx="33.0" cy="12.6" r="0.71" fill="rgb(174,174,174)" opacity="0.7"/>
<circle cx="29.6" cy="13.6" r="0.63" fill="rgb(181,181,181)" opacity="0.7"/>
<circle cx="23.1" cy="0.1" r="5" fill="#dcdcdc" opacity="0.55"/>
<circle cx="23.1" cy="0.1" r="4.4" fill="rgb(146,146,146)"/>
<circle cx="23.6" cy="0.8" r="0.88" fill="rgb(102,102,102)" opacity="0.85"/>
<circle cx="23.2" cy="-2.2" r="0.87" fill="rgb(91,91,91)" opacity="0.85"/>
<circle cx="21.6" cy="1.3" r="0.99" fill="rgb(87,87,87)" opacity="0.85"/>
<circle cx="23.3" cy="1.2" r="1" fill="rgb(102,102,102)" opacity="0.85"/>
<circle cx="24.0" cy="1.1" r="0.81" fill="rgb(96,96,96)" opacity="0.85"/>
<circle cx="21.5" cy="0.8" r="0.75" fill="rgb(183,183,183)" opacity="0.7"/>
<circle cx="24.8" cy="0.9" r="0.99" fill="rgb(181,181,181)" opacity="0.7"/>
<circle cx="47.1" cy="70.5" r="5.1" fill="#dcdcdc" opacity="0.55"/>
<circle cx="47.1" cy="70.5" r="4.5" fill="rgb(125,125,125)"/>
<circle cx="46.1" cy="68.1" r="0.84" fill="rgb(94,94,94)" opacity="0.85"/>
<circle cx="45.2" cy="72.2" r="0.85" fill="rgb(82,82,82)" opacity="0.85"/>
<circle cx="45.9" cy="71.7" r="1.3" fill="rgb(88,88,88)" opacity="0.85"/>
<circle cx="47.6" cy="69.1" r="1.2" fill="rgb(82,82,82)" opacity="0.85"/>
<circle cx="47.4" cy="72.8" r="0.86" fill="rgb(157,157,157)" opacity="0.7"/>
<circle cx="48.3" cy="72.1" r="0.69" fill="rgb(153,153,153)" opacity="0.7"/>
<circle cx="131.3" cy="73.0" r="4.5" fill="#dcdcdc" opacity="0.07"/>
<circle cx="131.3" cy="73.0" r="3.9" fill="rgb(106,106,106)"/>
<circle cx="132.0" cy="75.3" r="1.2" fill="rgb(68,68,68)" opacity="0.85"/>
<circle cx="129.9" cy="73.3" r="1.1" fill="rgb(48,48,48)" opacity="0.85"/>
<circle cx="131.3" cy="72.1" r="1.2" fill="rgb(48,48,48)" opacity="0.85"/>
<circle cx="130.8" cy="72.4" r="0.71" fill="rgb(139,139,139)" opacity="0.7"/>
<circle cx="51.6" cy="57.3" r="5.6" fill="#dcdcdc" opacity="0.55"/>
<circle cx="51.6" cy="57.3" r="5" fill="rgb(143,143,143)"/>
<circle cx="53.6" cy="56.0" r="0.93" fill="rgb(103,103,103)" opacity="0.85"/>
<circle cx="52.0" cy="55.0" r="1.1" fill="rgb(102,102,102)" opacity="0.85"/>
<circle cx="50.0" cy="57.9" r="0.9" fill="rgb(85,85,85)" opacity="0.85"/>
<circle cx="53.6" cy="55.5" r="0.99" fill="rgb(181,181,181)" opacity="0.7"/>
<circle cx="111.8" cy="95.8" r="5" fill="#dcdcdc" opacity="0.44"/>
<circle cx="111.8" cy="95.8" r="4.4" fill="rgb(146,146,146)"/>
<circle cx="111.5" cy="96.8" r="1.1" fill="rgb(92,92,92)" opacity="0.85"/>
<circle cx="109.7" cy="96.9" r="1.1" fill="rgb(88,88,88)" opacity="0.85"/>
<circle cx="110.3" cy="94.2" r="1.2" fill="rgb(109,109,109)" opacity="0.85"/>
<circle cx="113.8" cy="96.5" r="1.1" fill="rgb(102,102,102)" opacity="0.85"/>
<circle cx="111.9" cy="94.3" r="0.91" fill="rgb(88,88,88)" opacity="0.85"/>
<circle cx="114.0" cy="94.7" r="0.75" fill="rgb(187,187,187)" opacity="0.7"/>
<circle cx="114.9" cy="64.8" r="5.4" fill="#dcdcdc" opacity="0.02"/>
<circle cx="114.9" cy="64.8" r="4.8" fill="rgb(99,99,99)"/>
<circle cx="114.6" cy="63.2" r="0.77" fill="rgb(45,45,45)" opacity="0.85"/>
<circle cx="115.6" cy="62.1" r="0.75" fill="rgb(55,55,55)" opacity="0.85"/>
<circle cx="115.9" cy="62.8" r="1.1" fill="rgb(48,48,48)" opacity="0.85"/>
<circle cx="115.1" cy="64.6" r="0.71" fill="rgb(41,41,41)" opacity="0.85"/>
<circle cx="112.1" cy="65.2" r="0.94" fill="rgb(49,49,49)" opacity="0.85"/>
<circle cx="116.7" cy="62.9" r="0.93" fill="rgb(128,128,128)" opacity="0.7"/>
<circle cx="47.5" cy="7.5" r="5" fill="#dcdcdc" opacity="0.50"/>
<circle cx="47.5" cy="7.5" r="4.4" fill="rgb(146,146,146)"/>
<circle cx="46.3" cy="6.4" r="0.8" fill="rgb(111,111,111)" opacity="0.85"/>
<circle cx="50.0" cy="7.4" r="0.91" fill="rgb(101,101,101)" opacity="0.85"/>
<circle cx="48.8" cy="8.7" r="0.94" fill="rgb(91,91,91)" opacity="0.85"/>
<circle cx="47.0" cy="5.2" r="1.2" fill="rgb(96,96,96)" opacity="0.85"/>
<circle cx="49.8" cy="8.0" r="0.8" fill="rgb(171,171,171)" opacity="0.7"/>
<circle cx="49.4" cy="8.0" r="0.92" fill="rgb(182,182,182)" opacity="0.7"/>
<circle cx="1.6" cy="81.9" r="4.4" fill="#dcdcdc" opacity="0.55"/>
<circle cx="1.6" cy="81.9" r="3.8" fill="rgb(119,119,119)"/>
<circle cx="1.1" cy="79.9" r="0.84" fill="rgb(75,75,75)" opacity="0.85"/>
<circle cx="1.0" cy="84.1" r="0.78" fill="rgb(63,63,63)" opacity="0.85"/>
<circle cx="0.7" cy="82.9" r="1.1" fill="rgb(80,80,80)" opacity="0.85"/>
<circle cx="1.6" cy="82.7" r="0.66" fill="rgb(145,145,145)" opacity="0.7"/>
<circle cx="112.3" cy="16.7" r="4.8" fill="#dcdcdc" opacity="0.54"/>
<circle cx="112.3" cy="16.7" r="4.2" fill="rgb(139,139,139)"/>
<circle cx="112.8" cy="17.0" r="0.78" fill="rgb(86,86,86)" opacity="0.85"/>
<circle cx="112.5" cy="15.3" r="1.2" fill="rgb(89,89,89)" opacity="0.85"/>
<circle cx="111.1" cy="17.6" r="1.2" fill="rgb(98,98,98)" opacity="0.85"/>
<circle cx="113.0" cy="18.2" r="0.81" fill="rgb(88,88,88)" opacity="0.85"/>
<circle cx="112.8" cy="15.2" r="0.65" fill="rgb(169,169,169)" opacity="0.7"/>
<circle cx="133.7" cy="7.8" r="4.6" fill="#dcdcdc" opacity="0.52"/>
<circle cx="133.7" cy="7.8" r="4" fill="rgb(144,144,144)"/>
<circle cx="134.8" cy="6.5" r="1.2" fill="rgb(105,105,105)" opacity="0.85"/>
<circle cx="132.9" cy="7.2" r="0.95" fill="rgb(105,105,105)" opacity="0.85"/>
<circle cx="132.7" cy="7.3" r="1.2" fill="rgb(110,110,110)" opacity="0.85"/>
<circle cx="132.8" cy="6.7" r="1" fill="rgb(85,85,85)" opacity="0.85"/>
<circle cx="134.8" cy="7.4" r="0.83" fill="rgb(188,188,188)" opacity="0.7"/>
<circle cx="89.2" cy="52.6" r="5.6" fill="#dcdcdc" opacity="0.55"/>
<circle cx="89.2" cy="52.6" r="5" fill="rgb(145,145,145)"/>
<circle cx="89.5" cy="55.5" r="0.89" fill="rgb(85,85,85)" opacity="0.85"/>
<circle cx="89.9" cy="54.4" r="1.2" fill="rgb(86,86,86)" opacity="0.85"/>
<circle cx="89.1" cy="52.9" r="1.2" fill="rgb(109,109,109)" opacity="0.85"/>
<circle cx="87.9" cy="55.2" r="0.8" fill="rgb(92,92,92)" opacity="0.85"/>
<circle cx="88.8" cy="49.9" r="0.88" fill="rgb(170,170,170)" opacity="0.7"/>
<circle cx="92.1" cy="52.8" r="0.63" fill="rgb(179,179,179)" opacity="0.7"/>
<circle cx="118.8" cy="91.3" r="4.6" fill="#dcdcdc" opacity="0.21"/>
<circle cx="118.8" cy="91.3" r="4" fill="rgb(119,119,119)"/>
<circle cx="120.4" cy="90.5" r="1.1" fill="rgb(69,69,69)" opacity="0.85"/>
<circle cx="116.9" cy="92.3" r="0.81" fill="rgb(74,74,74)" opacity="0.85"/>
<circle cx="119.5" cy="91.6" r="0.87" fill="rgb(64,64,64)" opacity="0.85"/>
<circle cx="119.6" cy="93.5" r="0.79" fill="rgb(80,80,80)" opacity="0.85"/>
<circle cx="119.8" cy="91.7" r="0.83" fill="rgb(62,62,62)" opacity="0.85"/>
<circle cx="120.3" cy="91.7" r="0.77" fill="rgb(159,159,159)" opacity="0.7"/>
<circle cx="79.7" cy="19.6" r="5.1" fill="#dcdcdc" opacity="0.39"/>
<circle cx="79.7" cy="19.6" r="4.5" fill="rgb(115,115,115)"/>
<circle cx="80.1" cy="21.3" r="0.8" fill="rgb(72,72,72)" opacity="0.85"/>
<circle cx="79.3" cy="19.6" r="1.2" fill="rgb(62,62,62)" opacity="0.85"/>
<circle cx="79.6" cy="20.3" r="0.81" fill="rgb(59,59,59)" opacity="0.85"/>
<circle cx="81.9" cy="18.9" r="0.92" fill="rgb(146,146,146)" opacity="0.7"/>
<circle cx="112.5" cy="56.7" r="5" fill="#dcdcdc" opacity="0.13"/>
<circle cx="112.5" cy="56.7" r="4.4" fill="rgb(126,126,126)"/>
<circle cx="112.1" cy="54.3" r="0.97" fill="rgb(66,66,66)" opacity="0.85"/>
<circle cx="114.0" cy="56.0" r="1.1" fill="rgb(84,84,84)" opacity="0.85"/>
<circle cx="110.3" cy="58.1" r="0.99" fill="rgb(80,80,80)" opacity="0.85"/>
<circle cx="111.4" cy="57.2" r="0.89" fill="rgb(95,95,95)" opacity="0.85"/>
<circle cx="111.3" cy="57.6" r="0.81" fill="rgb(157,157,157)" opacity="0.7"/>
<circle cx="113.1" cy="55.9" r="0.66" fill="rgb(164,164,164)" opacity="0.7"/>
<circle cx="56.9" cy="97.1" r="5.7" fill="#dcdcdc" opacity="0.53"/>
<circle cx="56.9" cy="97.1" r="5.1" fill="rgb(122,122,122)"/>
<circle cx="55.8" cy="97.1" r="1" fill="rgb(75,75,75)" opacity="0.85"/>
<circle cx="59.0" cy="96.9" r="0.97" fill="rgb(71,71,71)" opacity="0.85"/>
<circle cx="58.7" cy="96.0" r="1.3" fill="rgb(73,73,73)" opacity="0.85"/>
<circle cx="55.5" cy="98.0" r="0.63" fill="rgb(149,149,149)" opacity="0.7"/>
<circle cx="55.3" cy="96.8" r="0.8" fill="rgb(152,152,152)" opacity="0.7"/>
<circle cx="36.1" cy="47.5" r="4.5" fill="#dcdcdc" opacity="0.55"/>
<circle cx="36.1" cy="47.5" r="3.9" fill="rgb(146,146,146)"/>
<circle cx="37.8" cy="48.3" r="1" fill="rgb(106,106,106)" opacity="0.85"/>
<circle cx="36.5" cy="45.4" r="1.1" fill="rgb(115,115,115)" opacity="0.85"/>
<circle cx="37.4" cy="45.8" r="1.2" fill="rgb(99,99,99)" opacity="0.85"/>
<circle cx="35.4" cy="47.2" r="1.2" fill="rgb(96,96,96)" opacity="0.85"/>
<circle cx="37.3" cy="45.9" r="0.76" fill="rgb(91,91,91)" opacity="0.85"/>
<circle cx="35.9" cy="48.8" r="0.62" fill="rgb(186,186,186)" opacity="0.7"/>
<circle cx="37.3" cy="48.0" r="0.88" fill="rgb(173,173,173)" opacity="0.7"/>
<circle cx="86.2" cy="93.8" r="4.5" fill="#dcdcdc" opacity="0.55"/>
<circle cx="86.2" cy="93.8" r="3.9" fill="rgb(127,127,127)"/>
<circle cx="86.4" cy="94.4" r="1.1" fill="rgb(68,68,68)" opacity="0.85"/>
<circle cx="86.5" cy="95.5" r="1" fill="rgb(76,76,76)" opacity="0.85"/>
<circle cx="87.1" cy="93.1" r="1.1" fill="rgb(91,91,91)" opacity="0.85"/>
<circle cx="88.0" cy="93.2" r="0.69" fill="rgb(171,171,171)" opacity="0.7"/>
<circle cx="30.1" cy="69.4" r="4.8" fill="#dcdcdc" opacity="0.55"/>
<circle cx="30.1" cy="69.4" r="4.2" fill="rgb(147,147,147)"/>
<circle cx="30.8" cy="68.6" r="0.76" fill="rgb(95,95,95)" opacity="0.85"/>
<circle cx="30.1" cy="68.0" r="0.94" fill="rgb(112,112,112)" opacity="0.85"/>
<circle cx="28.3" cy="68.3" r="0.79" fill="rgb(115,115,115)" opacity="0.85"/>
<circle cx="30.2" cy="68.2" r="0.98" fill="rgb(116,116,116)" opacity="0.85"/>
<circle cx="30.1" cy="71.6" r="0.77" fill="rgb(89,89,89)" opacity="0.85"/>
<circle cx="28.2" cy="68.2" r="1" fill="rgb(188,188,188)" opacity="0.7"/>
<circle cx="60.2" cy="37.5" r="4.9" fill="#dcdcdc" opacity="0.55"/>
<circle cx="60.2" cy="37.5" r="4.3" fill="rgb(131,131,131)"/>
<circle cx="62.6" cy="37.8" r="1" fill="rgb(88,88,88)" opacity="0.85"/>
<circle cx="60.2" cy="39.9" r="0.86" fill="rgb(95,95,95)" opacity="0.85"/>
<circle cx="59.9" cy="39.1" r="1.1" fill="rgb(78,78,78)" opacity="0.85"/>
<circle cx="60.6" cy="39.3" r="1.2" fill="rgb(97,97,97)" opacity="0.85"/>
<circle cx="61.3" cy="38.2" r="0.63" fill="rgb(168,168,168)" opacity="0.7"/>
<circle cx="73.5" cy="15.4" r="4.6" fill="#dcdcdc" opacity="0.55"/>
<circle cx="73.5" cy="15.4" r="4" fill="rgb(169,169,169)"/>
<circle cx="73.8" cy="13.8" r="1.2" fill="rgb(129,129,129)" opacity="0.85"/>
<circle cx="72.7" cy="14.4" r="0.98" fill="rgb(115,115,115)" opacity="0.85"/>
<circle cx="72.8" cy="13.3" r="0.87" fill="rgb(119,119,119)" opacity="0.85"/>
<circle cx="73.2" cy="14.9" r="0.79" fill="rgb(128,128,128)" opacity="0.85"/>
<circle cx="71.4" cy="14.4" r="0.65" fill="rgb(199,199,199)" opacity="0.7"/>
<circle cx="74.3" cy="14.6" r="0.74" fill="rgb(197,197,197)" opacity="0.7"/>
<circle cx="129.9" cy="21.4" r="5.8" fill="#dcdcdc" opacity="0.49"/>
<circle cx="129.9" cy="21.4" r="5.2" fill="rgb(133,133,133)"/>
<circle cx="131.3" cy="21.2" r="1.1" fill="rgb(82,82,82)" opacity="0.85"/>
<circle cx="131.5" cy="21.6" r="1.3" fill="rgb(73,73,73)" opacity="0.85"/>
<circle cx="127.7" cy="23.3" r="1.1" fill="rgb(88,88,88)" opacity="0.85"/>
<circle cx="129.7" cy="19.7" r="1.3" fill="rgb(96,96,96)" opacity="0.85"/>
<circle cx="131.8" cy="23.2" r="1" fill="rgb(100,100,100)" opacity="0.85"/>
<circle cx="131.6" cy="23.6" r="0.87" fill="rgb(163,163,163)" opacity="0.7"/>
<circle cx="101.8" cy="25.6" r="4.4" fill="#dcdcdc" opacity="0.04"/>
<circle cx="101.8" cy="25.6" r="3.8" fill="rgb(102,102,102)"/>
<circle cx="100.9" cy="25.9" r="0.8" fill="rgb(42,42,42)" opacity="0.85"/>
<circle cx="102.4" cy="26.2" r="0.97" fill="rgb(67,67,67)" opacity="0.85"/>
<circle cx="101.6" cy="27.4" r="0.82" fill="rgb(55,55,55)" opacity="0.85"/>
<circle cx="99.7" cy="25.9" r="0.85" fill="rgb(66,66,66)" opacity="0.85"/>
<circle cx="102.3" cy="23.4" r="1.2" fill="rgb(61,61,61)" opacity="0.85"/>
<circle cx="100.9" cy="27.5" r="0.68" fill="rgb(132,132,132)" opacity="0.7"/>
<circle cx="116.9" cy="42.2" r="5.5" fill="#dcdcdc" opacity="0.42"/>
<circle cx="116.9" cy="42.2" r="4.9" fill="rgb(146,146,146)"/>
<circle cx="116.4" cy="44.5" r="1.2" fill="rgb(102,102,102)" opacity="0.85"/>
<circle cx="114.5" cy="43.4" r="0.96" fill="rgb(87,87,87)" opacity="0.85"/>
<circle cx="119.0" cy="44.1" r="1.2" fill="rgb(94,94,94)" opacity="0.85"/>
<circle cx="117.5" cy="42.6" r="0.91" fill="rgb(108,108,108)" opacity="0.85"/>
<circle cx="119.5" cy="43.3" r="0.88" fill="rgb(88,88,88)" opacity="0.85"/>
<circle cx="118.6" cy="44.6" r="0.77" fill="rgb(174,174,174)" opacity="0.7"/>
<circle cx="15.6" cy="40.3" r="5.3" fill="#dcdcdc" opacity="0.55"/>
<circle cx="15.6" cy="40.3" r="4.7" fill="rgb(138,138,138)"/>
<circle cx="17.8" cy="41.4" r="0.72" fill="rgb(81,81,81)" opacity="0.85"/>
<circle cx="14.8" cy="41.6" r="1.1" fill="rgb(103,103,103)" opacity="0.85"/>
<circle cx="15.3" cy="41.8" r="1.2" fill="rgb(107,107,107)" opacity="0.85"/>
<circle cx="17.4" cy="41.5" r="0.64" fill="rgb(181,181,181)" opacity="0.7"/>
<circle cx="16.0" cy="39.7" r="0.87" fill="rgb(171,171,171)" opacity="0.7"/>
<circle cx="71.4" cy="57.3" r="4.5" fill="#dcdcdc" opacity="0.55"/>
<circle cx="71.4" cy="57.3" r="3.9" fill="rgb(121,121,121)"/>
<circle cx="72.2" cy="56.4" r="1.2" fill="rgb(76,76,76)" opacity="0.85"/>
<circle cx="70.2" cy="57.6" r="0.72" fill="rgb(61,61,61)" opacity="0.85"/>
<circle cx="70.3" cy="58.1" r="1.1" fill="rgb(62,62,62)" opacity="0.85"/>
<circle cx="70.0" cy="58.1" r="0.83" fill="rgb(154,154,154)" opacity="0.7"/>
<circle cx="72.2" cy="56.1" r="0.64" fill="rgb(159,159,159)" opacity="0.7"/>
<circle cx="139.6" cy="94.0" r="4.4" fill="#dcdcdc" opacity="0.54"/>
<circle cx="139.6" cy="94.0" r="3.8" fill="rgb(135,135,135)"/>
<circle cx="138.7" cy="93.1" r="1" fill="rgb(103,103,103)" opacity="0.85"/>
<circle cx="139.0" cy="93.4" r="1.1" fill="rgb(104,104,104)" opacity="0.85"/>
<circle cx="140.0" cy="95.7" r="1.2" fill="rgb(91,91,91)" opacity="0.85"/>
<circle cx="140.3" cy="94.2" r="0.82" fill="rgb(99,99,99)" opacity="0.85"/>
<circle cx="138.3" cy="95.1" r="0.82" fill="rgb(82,82,82)" opacity="0.85"/>
<circle cx="139.3" cy="92.2" r="0.94" fill="rgb(166,166,166)" opacity="0.7"/>
<circle cx="137.7" cy="93.8" r="0.87" fill="rgb(173,173,173)" opacity="0.7"/>
<circle cx="-0.6" cy="70.9" r="5.6" fill="#dcdcdc" opacity="0.55"/>
<circle cx="-0.6" cy="70.9" r="5" fill="rgb(114,114,114)"/>
<circle cx="1.5" cy="69.4" r="0.78" fill="rgb(79,79,79)" opacity="0.85"/>
<circle cx="-3.4" cy="70.3" r="1.3" fill="rgb(76,76,76)" opacity="0.85"/>
<circle cx="-1.8" cy="68.8" r="0.85" fill="rgb(60,60,60)" opacity="0.85"/>
<circle cx="1.7" cy="71.6" r="0.96" fill="rgb(148,148,148)" opacity="0.7"/>
<circle cx="-0.1" cy="70.3" r="0.82" fill="rgb(143,143,143)" opacity="0.7"/>
<circle cx="55.7" cy="19.0" r="4.5" fill="#dcdcdc" opacity="0.55"/>
<circle cx="55.7" cy="19.0" r="3.9" fill="rgb(115,115,115)"/>
<circle cx="54.7" cy="19.5" r="0.74" fill="rgb(76,76,76)" opacity="0.85"/>
<circle cx="56.5" cy="18.0" r="1.2" fill="rgb(77,77,77)" opacity="0.85"/>
<circle cx="57.1" cy="17.9" r="1.2" fill="rgb(73,73,73)" opacity="0.85"/>
<circle cx="56.0" cy="17.8" r="0.91" fill="rgb(75,75,75)" opacity="0.85"/>
<circle cx="57.9" cy="19.0" r="0.74" fill="rgb(151,151,151)" opacity="0.7"/>
<circle cx="55.0" cy="17.2" r="0.77" fill="rgb(142,142,142)" opacity="0.7"/>
<circle cx="71.1" cy="0.6" r="5.6" fill="#dcdcdc" opacity="0.55"/>
<circle cx="71.1" cy="0.6" r="5" fill="rgb(141,141,141)"/>
<circle cx="68.8" cy="-0.2" r="0.75" fill="rgb(97,97,97)" opacity="0.85"/>
<circle cx="73.1" cy="-0.9" r="0.8" fill="rgb(103,103,103)" opacity="0.85"/>
<circle cx="70.1" cy="2.2" r="1.1" fill="rgb(92,92,92)" opacity="0.85"/>
<circle cx="72.4" cy="1.1" r="0.99" fill="rgb(93,93,93)" opacity="0.85"/>
<circle cx="72.5" cy="1.8" r="1" fill="rgb(96,96,96)" opacity="0.85"/>
<circle cx="69.7" cy="-1.6" r="0.82" fill="rgb(168,168,168)" opacity="0.7"/>
<circle cx="72.9" cy="-0.9" r="0.68" fill="rgb(169,169,169)" opacity="0.7"/>
<circle cx="69.9" cy="99.7" r="5.5" fill="#dcdcdc" opacity="0.54"/>
<circle cx="69.9" cy="99.7" r="4.9" fill="rgb(117,117,117)"/>
<circle cx="70.1" cy="98.2" r="0.8" fill="rgb(84,84,84)" opacity="0.85"/>
<circle cx="71.1" cy="99.8" r="0.97" fill="rgb(60,60,60)" opacity="0.85"/>
<circle cx="70.3" cy="102.3" r="0.98" fill="rgb(57,57,57)" opacity="0.85"/>
<circle cx="71.0" cy="102.3" r="0.69" fill="rgb(149,149,149)" opacity="0.7"/>
<circle cx="67.8" cy="99.1" r="0.74" fill="rgb(146,146,146)" opacity="0.7"/>
<circle cx="107.6" cy="77.4" r="4.9" fill="#dcdcdc" opacity="0.21"/>
<circle cx="107.6" cy="77.4" r="4.3" fill="rgb(112,112,112)"/>
<circle cx="109.6" cy="78.1" r="0.94" fill="rgb(72,72,72)" opacity="0.85"/>
<circle cx="107.4" cy="75.8" r="0.87" fill="rgb(73,73,73)" opacity="0.85"/>
<circle cx="106.8" cy="77.5" r="1.2" fill="rgb(78,78,78)" opacity="0.85"/>
<circle cx="108.2" cy="77.6" r="0.77" fill="rgb(69,69,69)" opacity="0.85"/>
<circle cx="107.6" cy="76.6" r="1.1" fill="rgb(76,76,76)" opacity="0.85"/>
<circle cx="108.1" cy="76.7" r="0.67" fill="rgb(156,156,156)" opacity="0.7"/>
<circle cx="0.8" cy="62.1" r="5.4" fill="#dcdcdc" opacity="0.55"/>
<circle cx="0.8" cy="62.1" r="4.8" fill="rgb(148,148,148)"/>
<circle cx="-0.8" cy="59.8" r="0.85" fill="rgb(89,89,89)" opacity="0.85"/>
<circle cx="2.3" cy="60.1" r="1.2" fill="rgb(100,100,100)" opacity="0.85"/>
<circle cx="0.4" cy="63.6" r="1.2" fill="rgb(92,92,92)" opacity="0.85"/>
<circle cx="2.3" cy="62.8" r="1.1" fill="rgb(92,92,92)" opacity="0.85"/>
<circle cx="2.7" cy="60.9" r="0.8" fill="rgb(111,111,111)" opacity="0.85"/>
<circle cx="1.6" cy="61.2" r="0.7" fill="rgb(192,192,192)" opacity="0.7"/>
<circle cx="-0.4" cy="60.0" r="0.82" fill="rgb(184,184,184)" opacity="0.7"/>
<circle cx="140.3" cy="64.4" r="5.5" fill="#dcdcdc" opacity="0.46"/>
<circle cx="140.3" cy="64.4" r="4.9" fill="rgb(118,118,118)"/>
<circle cx="143.0" cy="64.1" r="1.3" fill="rgb(74,74,74)" opacity="0.85"/>
<circle cx="139.4" cy="66.2" r="1.2" fill="rgb(64,64,64)" opacity="0.85"/>
<circle cx="141.0" cy="62.6" r="0.82" fill="rgb(73,73,73)" opacity="0.85"/>
<circle cx="140.5" cy="64.5" r="1.2" fill="rgb(70,70,70)" opacity="0.85"/>
<circle cx="142.1" cy="64.8" r="0.94" fill="rgb(152,152,152)" opacity="0.7"/>
<circle cx="85.2" cy="5.0" r="5.7" fill="#dcdcdc" opacity="0.55"/>
<circle cx="85.2" cy="5.0" r="5.1" fill="rgb(117,117,117)"/>
<circle cx="84.6" cy="4.9" r="0.82" fill="rgb(73,73,73)" opacity="0.85"/>
<circle cx="86.1" cy="4.4" r="0.92" fill="rgb(84,84,84)" opacity="0.85"/>
<circle cx="82.7" cy="3.9" r="1.1" fill="rgb(75,75,75)" opacity="0.85"/>
<circle cx="85.6" cy="5.8" r="0.76" fill="rgb(155,155,155)" opacity="0.7"/>
<circle cx="8.0" cy="91.8" r="4.9" fill="#dcdcdc" opacity="0.55"/>
<circle cx="8.0" cy="91.8" r="4.3" fill="rgb(122,122,122)"/>
<circle cx="8.1" cy="93.1" r="0.77" fill="rgb(67,67,67)" opacity="0.85"/>
<circle cx="9.3" cy="91.7" r="0.77" fill="rgb(78,78,78)" opacity="0.85"/>
<circle cx="7.7" cy="93.2" r="1.3" fill="rgb(87,87,87)" opacity="0.85"/>
<circle cx="8.9" cy="90.2" r="0.89" fill="rgb(166,166,166)" opacity="0.7"/>
<circle cx="6.6" cy="92.5" r="0.75" fill="rgb(152,152,152)" opacity="0.7"/>
<circle cx="78.6" cy="59.6" r="5.2" fill="#dcdcdc" opacity="0.55"/>
<circle cx="78.6" cy="59.6" r="4.6" fill="rgb(154,154,154)"/>
<circle cx="77.7" cy="57.8" r="1.3" fill="rgb(94,94,94)" opacity="0.85"/>
<circle cx="80.2" cy="57.7" r="1.1" fill="rgb(107,107,107)" opacity="0.85"/>
<circle cx="79.8" cy="57.8" r="0.74" fill="rgb(120,120,120)" opacity="0.85"/>
<circle cx="78.0" cy="58.2" r="0.7" fill="rgb(180,180,180)" opacity="0.7"/>
<circle cx="80.6" cy="60.5" r="0.72" fill="rgb(191,191,191)" opacity="0.7"/>
<circle cx="105.6" cy="18.5" r="4.7" fill="#dcdcdc" opacity="0.30"/>
<circle cx="105.6" cy="18.5" r="4.1" fill="rgb(116,116,116)"/>
<circle cx="104.7" cy="17.2" r="1.1" fill="rgb(71,71,71)" opacity="0.85"/>
<circle cx="107.1" cy="20.0" r="0.78" fill="rgb(57,57,57)" opacity="0.85"/>
<circle cx="104.4" cy="17.3" r="0.89" fill="rgb(64,64,64)" opacity="0.85"/>
<circle cx="105.0" cy="19.2" r="0.82" fill="rgb(154,154,154)" opacity="0.7"/>
<circle cx="104.4" cy="17.2" r="0.92" fill="rgb(149,149,149)" opacity="0.7"/>
<circle cx="58.5" cy="62.9" r="4.5" fill="#dcdcdc" opacity="0.52"/>
<circle cx="58.5" cy="62.9" r="3.9" fill="rgb(141,141,141)"/>
<circle cx="58.0" cy="63.3" r="1" fill="rgb(106,106,106)" opacity="0.85"/>
<circle cx="59.8" cy="62.3" r="1.2" fill="rgb(105,105,105)" opacity="0.85"/>
<circle cx="59.6" cy="62.6" r="1.3" fill="rgb(108,108,108)" opacity="0.85"/>
<circle cx="59.6" cy="61.4" r="0.72" fill="rgb(94,94,94)" opacity="0.85"/>
<circle cx="57.7" cy="60.8" r="1.2" fill="rgb(93,93,93)" opacity="0.85"/>
<circle cx="57.7" cy="60.9" r="0.63" fill="rgb(170,170,170)" opacity="0.7"/>
<circle cx="75.2" cy="6.4" r="4.4" fill="#dcdcdc" opacity="0.55"/>
<circle cx="75.2" cy="6.4" r="3.8" fill="rgb(155,155,155)"/>
<circle cx="75.8" cy="5.3" r="0.78" fill="rgb(108,108,108)" opacity="0.85"/>
<circle cx="76.3" cy="4.5" r="1.1" fill="rgb(98,98,98)" opacity="0.85"/>
<circle cx="77.0" cy="5.0" r="0.85" fill="rgb(105,105,105)" opacity="0.85"/>
<circle cx="73.2" cy="6.2" r="0.98" fill="rgb(183,183,183)" opacity="0.7"/>
<circle cx="51.1" cy="48.1" r="4.6" fill="#dcdcdc" opacity="0.55"/>
<circle cx="51.1" cy="48.1" r="4" fill="rgb(149,149,149)"/>
<circle cx="50.6" cy="50.3" r="0.99" fill="rgb(116,116,116)" opacity="0.85"/>
<circle cx="50.8" cy="47.9" r="0.76" fill="rgb(95,95,95)" opacity="0.85"/>
<circle cx="52.6" cy="47.1" r="1.2" fill="rgb(117,117,117)" opacity="0.85"/>
<circle cx="49.4" cy="49.5" r="0.71" fill="rgb(175,175,175)" opacity="0.7"/>
<circle cx="58.4" cy="25.5" r="5.5" fill="#dcdcdc" opacity="0.55"/>
<circle cx="58.4" cy="25.5" r="4.9" fill="rgb(130,130,130)"/>
<circle cx="61.3" cy="25.5" r="0.91" fill="rgb(81,81,81)" opacity="0.85"/>
<circle cx="56.9" cy="23.4" r="1.2" fill="rgb(78,78,78)" opacity="0.85"/>
<circle cx="59.3" cy="26.7" r="1.1" fill="rgb(95,95,95)" opacity="0.85"/>
<circle cx="61.2" cy="25.1" r="0.75" fill="rgb(94,94,94)" opacity="0.85"/>
<circle cx="55.9" cy="24.4" r="0.63" fill="rgb(163,163,163)" opacity="0.7"/>
<circle cx="59.0" cy="23.0" r="0.64" fill="rgb(157,157,157)" opacity="0.7"/>
<circle cx="129.6" cy="42.8" r="4.9" fill="#dcdcdc" opacity="0.28"/>
<circle cx="129.6" cy="42.8" r="4.3" fill="rgb(127,127,127)"/>
<circle cx="130.7" cy="44.7" r="0.99" fill="rgb(80,80,80)" opacity="0.85"/>
<circle cx="129.3" cy="40.8" r="0.97" fill="rgb(93,93,93)" opacity="0.85"/>
<circle cx="127.5" cy="41.9" r="1.1" fill="rgb(67,67,67)" opacity="0.85"/>
<circle cx="131.8" cy="42.8" r="0.79" fill="rgb(156,156,156)" opacity="0.7"/>
<circle cx="14.3" cy="71.7" r="5.2" fill="#dcdcdc" opacity="0.55"/>
<circle cx="14.3" cy="71.7" r="4.6" fill="rgb(129,129,129)"/>
<circle cx="15.3" cy="71.3" r="1.2" fill="rgb(91,91,91)" opacity="0.85"/>
<circle cx="14.2" cy="69.2" r="1" fill="rgb(81,81,81)" opacity="0.85"/>
<circle cx="16.0" cy="71.9" r="1" fill="rgb(88,88,88)" opacity="0.85"/>
<circle cx="15.0" cy="69.4" r="1.3" fill="rgb(85,85,85)" opacity="0.85"/>
<circle cx="13.9" cy="71.7" r="0.97" fill="rgb(98,98,98)" opacity="0.85"/>
<circle cx="13.2" cy="69.3" r="0.98" fill="rgb(170,170,170)" opacity="0.7"/>
<circle cx="14.7" cy="73.0" r="0.96" fill="rgb(161,161,161)" opacity="0.7"/>
<circle cx="60.4" cy="81.3" r="4.8" fill="#dcdcdc" opacity="0.01"/>
<circle cx="60.4" cy="81.3" r="4.2" fill="rgb(119,119,119)"/>
<circle cx="60.1" cy="79.5" r="1.2" fill="rgb(84,84,84)" opacity="0.85"/>
<circle cx="58.6" cy="82.5" r="0.88" fill="rgb(78,78,78)" opacity="0.85"/>
<circle cx="59.3" cy="81.2" r="0.91" fill="rgb(65,65,65)" opacity="0.85"/>
<circle cx="61.2" cy="83.6" r="0.81" fill="rgb(157,157,157)" opacity="0.7"/>
<circle cx="60.8" cy="79.0" r="0.67" fill="rgb(160,160,160)" opacity="0.7"/>
<circle cx="43.1" cy="40.0" r="5.7" fill="#dcdcdc" opacity="0.55"/>
<circle cx="43.1" cy="40.0" r="5.1" fill="rgb(154,154,154)"/>
<circle cx="41.4" cy="41.2" r="0.78" fill="rgb(107,107,107)" opacity="0.85"/>
<circle cx="43.9" cy="38.0" r="0.7" fill="rgb(110,110,110)" opacity="0.85"/>
<circle cx="44.1" cy="41.6" r="1.1" fill="rgb(123,123,123)" opacity="0.85"/>
<circle cx="41.7" cy="40.8" r="0.69" fill="rgb(191,191,191)" opacity="0.7"/>
<circle cx="50.0" cy="36.2" r="4.9" fill="#dcdcdc" opacity="0.55"/>
<circle cx="50.0" cy="36.2" r="4.3" fill="rgb(154,154,154)"/>
<circle cx="49.2" cy="35.9" r="0.91" fill="rgb(114,114,114)" opacity="0.85"/>
<circle cx="50.3" cy="35.4" r="1.1" fill="rgb(104,104,104)" opacity="0.85"/>
<circle cx="49.4" cy="34.9" r="1.3" fill="rgb(119,119,119)" opacity="0.85"/>
<circle cx="50.6" cy="34.7" r="1" fill="rgb(98,98,98)" opacity="0.85"/>
<circle cx="50.2" cy="38.5" r="1.2" fill="rgb(119,119,119)" opacity="0.85"/>
<circle cx="51.9" cy="35.0" r="0.73" fill="rgb(194,194,194)" opacity="0.7"/>
<circle cx="50.0" cy="36.2" r="0.64" fill="rgb(181,181,181)" opacity="0.7"/>
<circle cx="123.9" cy="27.8" r="4.3" fill="#dcdcdc" opacity="0.46"/>
<circle cx="123.9" cy="27.8" r="3.7" fill="rgb(133,133,133)"/>
<circle cx="123.9" cy="25.6" r="1.2" fill="rgb(82,82,82)" opacity="0.85"/>
<circle cx="124.2" cy="28.7" r="0.97" fill="rgb(99,99,99)" opacity="0.85"/>
<circle cx="124.0" cy="27.2" r="0.82" fill="rgb(93,93,93)" opacity="0.85"/>
<circle cx="123.7" cy="27.2" r="0.86" fill="rgb(161,161,161)" opacity="0.7"/>
<circle cx="124.9" cy="29.1" r="0.84" fill="rgb(176,176,176)" opacity="0.7"/>
<circle cx="126.5" cy="7.7" r="5.3" fill="#dcdcdc" opacity="0.39"/>
<circle cx="126.5" cy="7.7" r="4.7" fill="rgb(105,105,105)"/>
<circle cx="127.3" cy="8.5" r="0.88" fill="rgb(50,50,50)" opacity="0.85"/>
<circle cx="124.8" cy="9.4" r="1.1" fill="rgb(58,58,58)" opacity="0.85"/>
<circle cx="125.3" cy="9.8" r="1.2" fill="rgb(61,61,61)" opacity="0.85"/>
<circle cx="125.9" cy="7.3" r="0.86" fill="rgb(139,139,139)" opacity="0.7"/>
<circle cx="127.5" cy="5.4" r="0.77" fill="rgb(148,148,148)" opacity="0.7"/>
<circle cx="32.7" cy="21.6" r="5.4" fill="#dcdcdc" opacity="0.55"/>
<circle cx="32.7" cy="21.6" r="4.8" fill="rgb(132,132,132)"/>
<circle cx="33.6" cy="22.5" r="1.2" fill="rgb(81,81,81)" opacity="0.85"/>
<circle cx="32.1" cy="19.4" r="1" fill="rgb(87,87,87)" opacity="0.85"/>
<circle cx="32.8" cy="24.0" r="1" fill="rgb(98,98,98)" opacity="0.85"/>
<circle cx="32.3" cy="19.0" r="0.93" fill="rgb(176,176,176)" opacity="0.7"/>
<circle cx="99.4" cy="81.2" r="4.9" fill="#dcdcdc" opacity="0.53"/>
<circle cx="99.4" cy="81.2" r="4.3" fill="rgb(124,124,124)"/>
<circle cx="98.8" cy="81.3" r="0.72" fill="rgb(76,76,76)" opacity="0.85"/>
<circle cx="99.1" cy="82.4" r="0.7" fill="rgb(90,90,90)" opacity="0.85"/>
<circle cx="99.9" cy="81.5" r="1" fill="rgb(66,66,66)" opacity="0.85"/>
<circle cx="99.3" cy="83.6" r="0.87" fill="rgb(74,74,74)" opacity="0.85"/>
<circle cx="99.4" cy="79.3" r="0.81" fill="rgb(165,165,165)" opacity="0.7"/>
<circle cx="13.1" cy="17.9" r="4.6" fill="#dcdcdc" opacity="0.55"/>
<circle cx="13.1" cy="17.9" r="4" fill="rgb(116,116,116)"/>
<circle cx="13.5" cy="16.6" r="0.77" fill="rgb(82,82,82)" opacity="0.85"/>
<circle cx="14.6" cy="16.8" r="1" fill="rgb(77,77,77)" opacity="0.85"/>
<circle cx="13.4" cy="15.6" r="1.2" fill="rgb(77,77,77)" opacity="0.85"/>
<circle cx="13.9" cy="18.2" r="0.73" fill="rgb(70,70,70)" opacity="0.85"/>
<circle cx="12.3" cy="19.9" r="0.93" fill="rgb(63,63,63)" opacity="0.85"/>
<circle cx="11.3" cy="18.8" r="0.73" fill="rgb(152,152,152)" opacity="0.7"/>
<circle cx="12.0" cy="19.0" r="0.8" fill="rgb(153,153,153)" opacity="0.7"/>
<circle cx="111.8" cy="72.1" r="5.2" fill="#dcdcdc" opacity="0.05"/>
<circle cx="111.8" cy="72.1" r="4.6" fill="rgb(118,118,118)"/>
<circle cx="112.9" cy="69.9" r="0.8" fill="rgb(62,62,62)" opacity="0.85"/>
<circle cx="112.3" cy="70.4" r="1.2" fill="rgb(75,75,75)" opacity="0.85"/>
<circle cx="111.5" cy="72.8" r="0.7" fill="rgb(80,80,80)" opacity="0.85"/>
<circle cx="111.7" cy="71.7" r="0.86" fill="rgb(147,147,147)" opacity="0.7"/>
<circle cx="20.1" cy="15.1" r="4.8" fill="#dcdcdc" opacity="0.55"/>
<circle cx="20.1" cy="15.1" r="4.2" fill="rgb(119,119,119)"/>
<circle cx="21.4" cy="14.6" r="1.2" fill="rgb(75,75,75)" opacity="0.85"/>
<circle cx="20.4" cy="15.6" r="1.2" fill="rgb(84,84,84)" opacity="0.85"/>
<circle cx="21.4" cy="14.7" r="1.2" fill="rgb(66,66,66)" opacity="0.85"/>
<circle cx="20.4" cy="16.7" r="0.98" fill="rgb(156,156,156)" opacity="0.7"/>
<circle cx="17.8" cy="15.4" r="0.93" fill="rgb(158,158,158)" opacity="0.7"/>
<circle cx="88.9" cy="100.8" r="4.7" fill="#dcdcdc" opacity="0.55"/>
<circle cx="88.9" cy="100.8" r="4.1" fill="rgb(128,128,128)"/>
<circle cx="88.7" cy="98.9" r="0.71" fill="rgb(73,73,73)" opacity="0.85"/>
<circle cx="88.6" cy="99.1" r="0.97" fill="rgb(70,70,70)" opacity="0.85"/>
<circle cx="88.8" cy="101.9" r="0.95" fill="rgb(77,77,77)" opacity="0.85"/>
<circle cx="89.0" cy="101.1" r="0.89" fill="rgb(95,95,95)" opacity="0.85"/>
<circle cx="90.6" cy="99.5" r="0.97" fill="rgb(91,91,91)" opacity="0.85"/>
<circle cx="89.0" cy="102.8" r="0.76" fill="rgb(171,171,171)" opacity="0.7"/>
<circle cx="88.1" cy="101.3" r="0.99" fill="rgb(170,170,170)" opacity="0.7"/>
<circle cx="78.5" cy="46.0" r="4.3" fill="#dcdcdc" opacity="0.55"/>
<circle cx="78.5" cy="46.0" r="3.7" fill="rgb(121,121,121)"/>
<circle cx="77.9" cy="47.9" r="1.2" fill="rgb(73,73,73)" opacity="0.85"/>
<circle cx="78.9" cy="47.5" r="0.78" fill="rgb(66,66,66)" opacity="0.85"/>
<circle cx="77.9" cy="47.0" r="1.2" fill="rgb(75,75,75)" opacity="0.85"/>
<circle cx="77.5" cy="47.3" r="0.96" fill="rgb(152,152,152)" opacity="0.7"/>
<circle cx="78.8" cy="46.4" r="0.85" fill="rgb(154,154,154)" opacity="0.7"/>
<circle cx="139.8" cy="80.9" r="4.6" fill="#dcdcdc" opacity="0.47"/>
<circle cx="139.8" cy="80.9" r="4" fill="rgb(114,114,114)"/>
<circle cx="141.7" cy="79.9" r="1" fill="rgb(74,74,74)" opacity="0.85"/>
<circle cx="140.4" cy="79.3" r="1.2" fill="rgb(62,62,62)" opacity="0.85"/>
<circle cx="140.5" cy="79.0" r="1.1" fill="rgb(60,60,60)" opacity="0.85"/>
<circle cx="139.8" cy="80.5" r="1.3" fill="rgb(56,56,56)" opacity="0.85"/>
<circle cx="140.5" cy="79.4" r="0.97" fill="rgb(67,67,67)" opacity="0.85"/>
<circle cx="141.0" cy="80.8" r="0.84" fill="rgb(154,154,154)" opacity="0.7"/>
<circle cx="141.4" cy="80.6" r="0.67" fill="rgb(146,146,146)" opacity="0.7"/>
<circle cx="53.8" cy="67.3" r="4.7" fill="#dcdcdc" opacity="0.50"/>
<circle cx="53.8" cy="67.3" r="4.1" fill="rgb(127,127,127)"/>
<circle cx="52.9" cy="65.8" r="1.1" fill="rgb(88,88,88)" opacity="0.85"/>
<circle cx="54.7" cy="67.1" r="1.2" fill="rgb(71,71,71)" opacity="0.85"/>
<circle cx="54.7" cy="66.3" r="0.93" fill="rgb(79,79,79)" opacity="0.85"/>
<circle cx="54.4" cy="67.5" r="0.69" fill="rgb(153,153,153)" opacity="0.7"/>
<circle cx="133.1" cy="56.7" r="5.4" fill="#dcdcdc" opacity="0.25"/>
<circle cx="133.1" cy="56.7" r="4.8" fill="rgb(106,106,106)"/>
<circle cx="132.6" cy="57.2" r="1.1" fill="rgb(48,48,48)" opacity="0.85"/>
<circle cx="131.3" cy="55.3" r="0.79" fill="rgb(62,62,62)" opacity="0.85"/>
<circle cx="134.5" cy="55.4" r="1.1" fill="rgb(72,72,72)" opacity="0.85"/>
<circle cx="133.6" cy="58.3" r="0.87" fill="rgb(148,148,148)" opacity="0.7"/>
<circle cx="134.1" cy="55.0" r="0.85" fill="rgb(143,143,143)" opacity="0.7"/>
<circle cx="45.1" cy="83.8" r="4.4" fill="#dcdcdc" opacity="0.55"/>
<circle cx="45.1" cy="83.8" r="3.8" fill="rgb(154,154,154)"/>
<circle cx="44.8" cy="83.3" r="1.2" fill="rgb(116,116,116)" opacity="0.85"/>
<circle cx="45.4" cy="83.1" r="0.76" fill="rgb(112,112,112)" opacity="0.85"/>
<circle cx="43.4" cy="82.3" r="0.89" fill="rgb(98,98,98)" opacity="0.85"/>
<circle cx="46.4" cy="82.2" r="1.2" fill="rgb(123,123,123)" opacity="0.85"/>
<circle cx="43.0" cy="83.2" r="0.97" fill="rgb(191,191,191)" opacity="0.7"/>
<circle cx="55.9" cy="6.4" r="5.7" fill="#dcdcdc" opacity="0.55"/>
<circle cx="55.9" cy="6.4" r="5.1" fill="rgb(114,114,114)"/>
<circle cx="56.3" cy="7.8" r="1.3" fill="rgb(76,76,76)" opacity="0.85"/>
<circle cx="56.8" cy="4.9" r="1.3" fill="rgb(80,80,80)" opacity="0.85"/>
<circle cx="55.8" cy="3.6" r="1.1" fill="rgb(81,81,81)" opacity="0.85"/>
<circle cx="56.6" cy="8.8" r="1.2" fill="rgb(71,71,71)" opacity="0.85"/>
<circle cx="58.0" cy="8.0" r="0.92" fill="rgb(70,70,70)" opacity="0.85"/>
<circle cx="56.4" cy="8.5" r="0.74" fill="rgb(145,145,145)" opacity="0.7"/>
<circle cx="55.6" cy="7.9" r="0.82" fill="rgb(141,141,141)" opacity="0.7"/>
<circle cx="87.5" cy="19.3" r="4.4" fill="#dcdcdc" opacity="0.09"/>
<circle cx="87.5" cy="19.3" r="3.8" fill="rgb(103,103,103)"/>
<circle cx="88.7" cy="17.9" r="1.2" fill="rgb(45,45,45)" opacity="0.85"/>
<circle cx="85.9" cy="17.7" r="1.1" fill="rgb(70,70,70)" opacity="0.85"/>
<circle cx="87.3" cy="18.2" r="1.1" fill="rgb(63,63,63)" opacity="0.85"/>
<circle cx="87.1" cy="18.9" r="0.79" fill="rgb(72,72,72)" opacity="0.85"/>
<circle cx="88.8" cy="20.7" r="0.97" fill="rgb(146,146,146)" opacity="0.7"/>
<circle cx="85.7" cy="19.7" r="0.73" fill="rgb(134,134,134)" opacity="0.7"/>
<circle cx="32.6" cy="58.1" r="5.3" fill="#dcdcdc" opacity="0.55"/>
<circle cx="32.6" cy="58.1" r="4.7" fill="rgb(129,129,129)"/>
<circle cx="31.6" cy="56.2" r="1" fill="rgb(95,95,95)" opacity="0.85"/>
<circle cx="33.5" cy="59.4" r="0.97" fill="rgb(74,74,74)" opacity="0.85"/>
<circle cx="31.9" cy="56.0" r="1.2" fill="rgb(80,80,80)" opacity="0.85"/>
<circle cx="29.9" cy="58.5" r="0.98" fill="rgb(72,72,72)" opacity="0.85"/>
<circle cx="32.7" cy="58.9" r="0.87" fill="rgb(154,154,154)" opacity="0.7"/>
<circle cx="44.7" cy="94.2" r="4.8" fill="#dcdcdc" opacity="0.55"/>
<circle cx="44.7" cy="94.2" r="4.2" fill="rgb(126,126,126)"/>
<circle cx="42.5" cy="93.8" r="1.2" fill="rgb(72,72,72)" opacity="0.85"/>
<circle cx="46.6" cy="92.5" r="1.2" fill="rgb(75,75,75)" opacity="0.85"/>
<circle cx="46.7" cy="94.8" r="0.95" fill="rgb(78,78,78)" opacity="0.85"/>
<circle cx="44.0" cy="93.2" r="0.83" fill="rgb(85,85,85)" opacity="0.85"/>
<circle cx="43.0" cy="92.6" r="0.86" fill="rgb(66,66,66)" opacity="0.85"/>
<circle cx="43.8" cy="92.9" r="0.99" fill="rgb(169,169,169)" opacity="0.7"/>
<circle cx="63.9" cy="11.7" r="5.8" fill="#dcdcdc" opacity="0.55"/>
<circle cx="63.9" cy="11.7" r="5.2" fill="rgb(148,148,148)"/>
<circle cx="63.3" cy="10.1" r="0.98" fill="rgb(108,108,108)" opacity="0.85"/>
<circle cx="66.2" cy="13.2" r="0.94" fill="rgb(91,91,91)" opacity="0.85"/>
<circle cx="63.9" cy="13.6" r="1" fill="rgb(109,109,109)" opacity="0.85"/>
<circle cx="61.1" cy="11.4" r="0.92" fill="rgb(111,111,111)" opacity="0.85"/>
<circle cx="61.0" cy="12.3" r="0.74" fill="rgb(187,187,187)" opacity="0.7"/>
<circle cx="17.0" cy="91.7" r="5.1" fill="#dcdcdc" opacity="0.55"/>
<circle cx="17.0" cy="91.7" r="4.5" fill="rgb(138,138,138)"/>
<circle cx="17.7" cy="93.9" r="0.88" fill="rgb(107,107,107)" opacity="0.85"/>
<circle cx="15.9" cy="90.3" r="0.77" fill="rgb(106,106,106)" opacity="0.85"/>
<circle cx="14.6" cy="92.9" r="0.98" fill="rgb(78,78,78)" opacity="0.85"/>
<circle cx="16.8" cy="89.5" r="0.99" fill="rgb(97,97,97)" opacity="0.85"/>
<circle cx="14.7" cy="91.9" r="0.98" fill="rgb(163,163,163)" opacity="0.7"/>
<circle cx="17.2" cy="93.2" r="0.64" fill="rgb(166,166,166)" opacity="0.7"/>
<circle cx="23.3" cy="100.2" r="5.7" fill="#dcdcdc" opacity="0.55"/>
<circle cx="23.3" cy="100.2" r="5.1" fill="rgb(125,125,125)"/>
<circle cx="25.1" cy="102.0" r="0.85" fill="rgb(88,88,88)" opacity="0.85"/>
<circle cx="25.7" cy="99.6" r="0.77" fill="rgb(88,88,88)" opacity="0.85"/>
<circle cx="23.5" cy="102.8" r="0.73" fill="rgb(78,78,78)" opacity="0.85"/>
<circle cx="22.3" cy="99.9" r="1" fill="rgb(88,88,88)" opacity="0.85"/>
<circle cx="22.8" cy="99.9" r="0.84" fill="rgb(169,169,169)" opacity="0.7"/>
<circle cx="25.1" cy="102.3" r="0.65" fill="rgb(163,163,163)" opacity="0.7"/>
<circle cx="92.0" cy="30.5" r="5.3" fill="#dcdcdc" opacity="0.01"/>
<circle cx="92.0" cy="30.5" r="4.7" fill="rgb(112,112,112)"/>
<circle cx="91.6" cy="29.8" r="1.2" fill="rgb(65,65,65)" opacity="0.85"/>
<circle cx="93.2" cy="30.2" r="1.1" fill="rgb(65,65,65)" opacity="0.85"/>
<circle cx="90.7" cy="30.9" r="1.2" fill="rgb(81,81,81)" opacity="0.85"/>
<circle cx="90.6" cy="32.2" r="1.1" fill="rgb(62,62,62)" opacity="0.85"/>
<circle cx="92.8" cy="29.1" r="0.7" fill="rgb(63,63,63)" opacity="0.85"/>
<circle cx="92.7" cy="32.9" r="0.96" fill="rgb(156,156,156)" opacity="0.7"/>
<circle cx="103.4" cy="38.1" r="5.2" fill="#dcdcdc" opacity="0.40"/>
<circle cx="103.4" cy="38.1" r="4.6" fill="rgb(145,145,145)"/>
<circle cx="102.5" cy="36.7" r="1.2" fill="rgb(111,111,111)" opacity="0.85"/>
<circle cx="103.5" cy="39.8" r="1.1" fill="rgb(93,93,93)" opacity="0.85"/>
<circle cx="104.1" cy="39.1" r="0.74" fill="rgb(88,88,88)" opacity="0.85"/>
<circle cx="105.0" cy="37.3" r="0.61" fill="rgb(179,179,179)" opacity="0.7"/>
<circle cx="69.6" cy="39.7" r="4.4" fill="#dcdcdc" opacity="0.55"/>
<circle cx="69.6" cy="39.7" r="3.8" fill="rgb(157,157,157)"/>
<circle cx="68.6" cy="37.8" r="1.1" fill="rgb(125,125,125)" opacity="0.85"/>
<circle cx="70.1" cy="38.9" r="1.1" fill="rgb(116,116,116)" opacity="0.85"/>
<circle cx="71.3" cy="39.2" r="0.72" fill="rgb(98,98,98)" opacity="0.85"/>
<circle cx="68.6" cy="37.7" r="0.76" fill="rgb(100,100,100)" opacity="0.85"/>
<circle cx="69.2" cy="41.8" r="0.83" fill="rgb(187,187,187)" opacity="0.7"/>
<circle cx="93.0" cy="87.8" r="4.9" fill="#dcdcdc" opacity="0.55"/>
<circle cx="93.0" cy="87.8" r="4.3" fill="rgb(120,120,120)"/>
<circle cx="93.2" cy="85.5" r="0.89" fill="rgb(89,89,89)" opacity="0.85"/>
<circle cx="94.1" cy="89.1" r="1.2" fill="rgb(75,75,75)" opacity="0.85"/>
<circle cx="93.4" cy="88.6" r="0.87" fill="rgb(80,80,80)" opacity="0.85"/>
<circle cx="94.3" cy="85.9" r="1.3" fill="rgb(67,67,67)" opacity="0.85"/>
<circle cx="91.8" cy="87.6" r="1.2" fill="rgb(72,72,72)" opacity="0.85"/>
<circle cx="93.7" cy="87.1" r="0.94" fill="rgb(164,164,164)" opacity="0.7"/>
<circle cx="95.1" cy="88.8" r="0.97" fill="rgb(160,160,160)" opacity="0.7"/>
<circle cx="134.0" cy="-0.9" r="4.7" fill="#dcdcdc" opacity="0.55"/>
<circle cx="134.0" cy="-0.9" r="4.1" fill="rgb(131,131,131)"/>
<circle cx="135.3" cy="-2.6" r="1.1" fill="rgb(87,87,87)" opacity="0.85"/>
<circle cx="133.3" cy="-1.2" r="0.78" fill="rgb(79,79,79)" opacity="0.85"/>
<circle cx="132.9" cy="0.2" r="0.81" fill="rgb(98,98,98)" opacity="0.85"/>
<circle cx="134.2" cy="-2.5" r="0.61" fill="rgb(166,166,166)" opacity="0.7"/>
<circle cx="26.5" cy="63.8" r="4.6" fill="#dcdcdc" opacity="0.55"/>
<circle cx="26.5" cy="63.8" r="4" fill="rgb(136,136,136)"/>
<circle cx="27.4" cy="61.6" r="0.73" fill="rgb(91,91,91)" opacity="0.85"/>
<circle cx="28.8" cy="63.2" r="1.3" fill="rgb(101,101,101)" opacity="0.85"/>
<circle cx="27.2" cy="62.0" r="0.83" fill="rgb(104,104,104)" opacity="0.85"/>
<circle cx="25.1" cy="65.3" r="1" fill="rgb(78,78,78)" opacity="0.85"/>
<circle cx="25.5" cy="64.7" r="0.98" fill="rgb(90,90,90)" opacity="0.85"/>
<circle cx="25.2" cy="64.4" r="0.74" fill="rgb(163,163,163)" opacity="0.7"/>
<circle cx="122.3" cy="72.1" r="4.5" fill="#dcdcdc" opacity="0.00"/>
<circle cx="122.3" cy="72.1" r="3.9" fill="rgb(96,96,96)"/>
<circle cx="121.7" cy="70.4" r="1.1" fill="rgb(48,48,48)" opacity="0.85"/>
<circle cx="123.0" cy="74.2" r="1.1" fill="rgb(57,57,57)" opacity="0.85"/>
<circle cx="124.5" cy="71.7" r="1.1" fill="rgb(46,46,46)" opacity="0.85"/>
<circle cx="121.1" cy="72.8" r="0.84" fill="rgb(133,133,133)" opacity="0.7"/>
<circle cx="33.5" cy="81.3" r="4.4" fill="#dcdcdc" opacity="0.55"/>
<circle cx="33.5" cy="81.3" r="3.8" fill="rgb(114,114,114)"/>
<circle cx="32.4" cy="83.1" r="0.76" fill="rgb(55,55,55)" opacity="0.85"/>
<circle cx="31.3" cy="81.3" r="1.2" fill="rgb(64,64,64)" opacity="0.85"/>
<circle cx="31.8" cy="81.9" r="0.94" fill="rgb(60,60,60)" opacity="0.85"/>
<circle cx="35.3" cy="82.0" r="1.1" fill="rgb(62,62,62)" opacity="0.85"/>
<circle cx="34.2" cy="80.3" r="0.61" fill="rgb(156,156,156)" opacity="0.7"/>
<circle cx="34.6" cy="81.5" r="0.65" fill="rgb(140,140,140)" opacity="0.7"/>
<circle cx="38.4" cy="76.5" r="4.7" fill="#dcdcdc" opacity="0.55"/>
<circle cx="38.4" cy="76.5" r="4.1" fill="rgb(141,141,141)"/>
<circle cx="38.8" cy="77.4" r="1.3" fill="rgb(86,86,86)" opacity="0.85"/>
<circle cx="40.1" cy="75.1" r="0.97" fill="rgb(106,106,106)" opacity="0.85"/>
<circle cx="37.1" cy="75.2" r="1.2" fill="rgb(97,97,97)" opacity="0.85"/>
<circle cx="40.0" cy="78.1" r="1.2" fill="rgb(106,106,106)" opacity="0.85"/>
<circle cx="38.4" cy="76.9" r="1.2" fill="rgb(107,107,107)" opacity="0.85"/>
<circle cx="40.2" cy="75.1" r="0.89" fill="rgb(168,168,168)" opacity="0.7"/>
<circle cx="39.6" cy="76.5" r="0.87" fill="rgb(183,183,183)" opacity="0.7"/>
<circle cx="63.7" cy="75.9" r="4.9" fill="#dcdcdc" opacity="0.00"/>
<circle cx="63.7" cy="75.9" r="4.3" fill="rgb(125,125,125)"/>
<circle cx="63.3" cy="75.7" r="1.1" fill="rgb(81,81,81)" opacity="0.85"/>
<circle cx="63.9" cy="77.8" r="0.77" fill="rgb(93,93,93)" opacity="0.85"/>
<circle cx="64.5" cy="74.3" r="1.1" fill="rgb(68,68,68)" opacity="0.85"/>
<circle cx="63.6" cy="75.7" r="0.86" fill="rgb(79,79,79)" opacity="0.85"/>
<circle cx="63.3" cy="77.6" r="1.1" fill="rgb(67,67,67)" opacity="0.85"/>
<circle cx="62.5" cy="77.4" r="0.99" fill="rgb(151,151,151)" opacity="0.7"/>
<circle cx="65.8" cy="76.1" r="0.62" fill="rgb(160,160,160)" opacity="0.7"/>
<circle cx="111.1" cy="23.4" r="4.5" fill="#dcdcdc" opacity="0.46"/>
<circle cx="111.1" cy="23.4" r="3.9" fill="rgb(115,115,115)"/>
<circle cx="113.2" cy="22.7" r="0.97" fill="rgb(72,72,72)" opacity="0.85"/>
<circle cx="110.2" cy="23.0" r="1.2" fill="rgb(62,62,62)" opacity="0.85"/>
<circle cx="111.9" cy="22.6" r="0.86" fill="rgb(73,73,73)" opacity="0.85"/>
<circle cx="110.8" cy="22.9" r="0.72" fill="rgb(145,145,145)" opacity="0.7"/>
<circle cx="6.3" cy="41.1" r="4.8" fill="#dcdcdc" opacity="0.55"/>
<circle cx="6.3" cy="41.1" r="4.2" fill="rgb(124,124,124)"/>
<circle cx="6.2" cy="42.4" r="0.97" fill="rgb(81,81,81)" opacity="0.85"/>
<circle cx="5.0" cy="40.1" r="1.2" fill="rgb(75,75,75)" opacity="0.85"/>
<circle cx="6.5" cy="42.2" r="0.94" fill="rgb(64,64,64)" opacity="0.85"/>
<circle cx="4.9" cy="41.3" r="0.77" fill="rgb(91,91,91)" opacity="0.85"/>
<circle cx="8.3" cy="42.4" r="0.89" fill="rgb(74,74,74)" opacity="0.85"/>
<circle cx="6.5" cy="39.5" r="0.71" fill="rgb(160,160,160)" opacity="0.7"/>
<circle cx="108.1" cy="52.2" r="4.4" fill="#dcdcdc" opacity="0.36"/>
<circle cx="108.1" cy="52.2" r="3.8" fill="rgb(115,115,115)"/>
<circle cx="109.5" cy="51.3" r="0.9" fill="rgb(62,62,62)" opacity="0.85"/>
<circle cx="106.9" cy="51.9" r="1" fill="rgb(62,62,62)" opacity="0.85"/>
<circle cx="109.2" cy="52.5" r="1.3" fill="rgb(82,82,82)" opacity="0.85"/>
<circle cx="109.7" cy="52.0" r="0.95" fill="rgb(81,81,81)" opacity="0.85"/>
<circle cx="110.0" cy="53.1" r="0.9" fill="rgb(142,142,142)" opacity="0.7"/>
<circle cx="109.7" cy="50.8" r="0.85" fill="rgb(146,146,146)" opacity="0.7"/>
<circle cx="19.1" cy="60.0" r="4.3" fill="#dcdcdc" opacity="0.55"/>
<circle cx="19.1" cy="60.0" r="3.7" fill="rgb(141,141,141)"/>
<circle cx="18.6" cy="58.8" r="1.3" fill="rgb(104,104,104)" opacity="0.85"/>
<circle cx="18.7" cy="60.1" r="0.83" fill="rgb(99,99,99)" opacity="0.85"/>
<circle cx="21.2" cy="60.2" r="1.2" fill="rgb(87,87,87)" opacity="0.85"/>
<circle cx="21.2" cy="60.6" r="0.7" fill="rgb(83,83,83)" opacity="0.85"/>
<circle cx="18.6" cy="59.5" r="0.89" fill="rgb(185,185,185)" opacity="0.7"/>
<circle cx="19.0" cy="58.3" r="0.69" fill="rgb(175,175,175)" opacity="0.7"/>
<circle cx="29.9" cy="28.9" r="4.8" fill="#dcdcdc" opacity="0.55"/>
<circle cx="29.9" cy="28.9" r="4.2" fill="rgb(128,128,128)"/>
<circle cx="28.0" cy="30.5" r="1" fill="rgb(94,94,94)" opacity="0.85"/>
<circle cx="31.0" cy="26.9" r="1.3" fill="rgb(95,95,95)" opacity="0.85"/>
<circle cx="28.3" cy="29.5" r="0.74" fill="rgb(93,93,93)" opacity="0.85"/>
<circle cx="29.5" cy="26.5" r="0.95" fill="rgb(88,88,88)" opacity="0.85"/>
<circle cx="29.5" cy="28.3" r="0.82" fill="rgb(97,97,97)" opacity="0.85"/>
<circle cx="29.8" cy="27.8" r="0.64" fill="rgb(163,163,163)" opacity="0.7"/>
<circle cx="27.8" cy="28.3" r="0.97" fill="rgb(164,164,164)" opacity="0.7"/>
<circle cx="137.5" cy="29.6" r="5.3" fill="#dcdcdc" opacity="0.39"/>
<circle cx="137.5" cy="29.6" r="4.7" fill="rgb(146,146,146)"/>
<circle cx="138.5" cy="30.8" r="0.78" fill="rgb(100,100,100)" opacity="0.85"/>
<circle cx="135.2" cy="28.5" r="0.99" fill="rgb(88,88,88)" opacity="0.85"/>
<circle cx="137.0" cy="29.1" r="0.94" fill="rgb(95,95,95)" opacity="0.85"/>
<circle cx="138.9" cy="32.0" r="1.2" fill="rgb(111,111,111)" opacity="0.85"/>
<circle cx="138.1" cy="27.6" r="0.93" fill="rgb(105,105,105)" opacity="0.85"/>
<circle cx="137.8" cy="26.9" r="0.62" fill="rgb(175,175,175)" opacity="0.7"/>
<circle cx="37.7" cy="15.3" r="4.9" fill="#dcdcdc" opacity="0.40"/>
<circle cx="37.7" cy="15.3" r="4.3" fill="rgb(141,141,141)"/>
<circle cx="39.3" cy="16.2" r="0.84" fill="rgb(88,88,88)" opacity="0.85"/>
<circle cx="36.5" cy="14.7" r="0.82" fill="rgb(84,84,84)" opacity="0.85"/>
<circle cx="36.0" cy="13.3" r="1.3" fill="rgb(86,86,86)" opacity="0.85"/>
<circle cx="39.0" cy="14.8" r="1.3" fill="rgb(85,85,85)" opacity="0.85"/>
<circle cx="40.0" cy="15.1" r="0.74" fill="rgb(168,168,168)" opacity="0.7"/>
<circle cx="108.2" cy="63.3" r="5.2" fill="#dcdcdc" opacity="0.18"/>
<circle cx="108.2" cy="63.3" r="4.6" fill="rgb(114,114,114)"/>
<circle cx="109.7" cy="62.5" r="1.2" fill="rgb(62,62,62)" opacity="0.85"/>
<circle cx="108.9" cy="65.6" r="1.2" fill="rgb(74,74,74)" opacity="0.85"/>
<circle cx="105.8" cy="62.8" r="1.2" fill="rgb(75,75,75)" opacity="0.85"/>
<circle cx="110.1" cy="62.0" r="0.82" fill="rgb(153,153,153)" opacity="0.7"/>
<circle cx="106.4" cy="63.5" r="0.95" fill="rgb(153,153,153)" opacity="0.7"/>
<circle cx="137.7" cy="14.4" r="4.6" fill="#dcdcdc" opacity="0.55"/>
<circle cx="137.7" cy="14.4" r="4" fill="rgb(122,122,122)"/>
<circle cx="139.3" cy="14.6" r="0.94" fill="rgb(74,74,74)" opacity="0.85"/>
<circle cx="136.2" cy="13.5" r="1.2" fill="rgb(71,71,71)" opacity="0.85"/>
<circle cx="139.3" cy="12.7" r="0.87" fill="rgb(72,72,72)" opacity="0.85"/>
<circle cx="138.7" cy="15.7" r="0.97" fill="rgb(159,159,159)" opacity="0.7"/>
<circle cx="137.1" cy="14.3" r="0.93" fill="rgb(165,165,165)" opacity="0.7"/>
<circle cx="50.0" cy="25.6" r="4.4" fill="#dcdcdc" opacity="0.55"/>
<circle cx="50.0" cy="25.6" r="3.8" fill="rgb(130,130,130)"/>
<circle cx="50.9" cy="25.0" r="1.1" fill="rgb(79,79,79)" opacity="0.85"/>
<circle cx="50.7" cy="25.3" r="0.96" fill="rgb(73,73,73)" opacity="0.85"/>
<circle cx="51.4" cy="27.4" r="0.74" fill="rgb(87,87,87)" opacity="0.85"/>
<circle cx="52.2" cy="25.2" r="0.96" fill="rgb(76,76,76)" opacity="0.85"/>
<circle cx="50.6" cy="26.6" r="0.98" fill="rgb(156,156,156)" opacity="0.7"/>
<circle cx="105.6" cy="30.8" r="5.1" fill="#dcdcdc" opacity="0.22"/>
<circle cx="105.6" cy="30.8" r="4.5" fill="rgb(102,102,102)"/>
<circle cx="104.5" cy="29.8" r="0.94" fill="rgb(46,46,46)" opacity="0.85"/>
<circle cx="103.8" cy="29.9" r="0.89" fill="rgb(58,58,58)" opacity="0.85"/>
<circle cx="103.9" cy="29.3" r="1.1" fill="rgb(52,52,52)" opacity="0.85"/>
<circle cx="103.6" cy="31.4" r="1.3" fill="rgb(59,59,59)" opacity="0.85"/>
<circle cx="104.3" cy="32.8" r="0.84" fill="rgb(131,131,131)" opacity="0.7"/>
<circle cx="103.0" cy="30.5" r="0.65" fill="rgb(135,135,135)" opacity="0.7"/>
<circle cx="13.0" cy="100.2" r="4.9" fill="#dcdcdc" opacity="0.55"/>
<circle cx="13.0" cy="100.2" r="4.3" fill="rgb(117,117,117)"/>
<circle cx="13.1" cy="98.4" r="1.2" fill="rgb(71,71,71)" opacity="0.85"/>
<circle cx="12.5" cy="102.2" r="0.94" fill="rgb(73,73,73)" opacity="0.85"/>
<circle cx="14.9" cy="100.7" r="0.94" fill="rgb(70,70,70)" opacity="0.85"/>
<circle cx="13.3" cy="102.0" r="1.3" fill="rgb(58,58,58)" opacity="0.85"/>
<circle cx="11.3" cy="101.6" r="0.67" fill="rgb(159,159,159)" opacity="0.7"/>
<circle cx="140.0" cy="74.6" r="4.8" fill="#dcdcdc" opacity="0.44"/>
<circle cx="140.0" cy="74.6" r="4.2" fill="rgb(116,116,116)"/>
<circle cx="138.7" cy="74.2" r="1" fill="rgb(73,73,73)" opacity="0.85"/>
<circle cx="140.9" cy="76.8" r="1.3" fill="rgb(69,69,69)" opacity="0.85"/>
<circle cx="139.8" cy="72.2" r="1.3" fill="rgb(69,69,69)" opacity="0.85"/>
<circle cx="137.9" cy="74.0" r="0.82" fill="rgb(67,67,67)" opacity="0.85"/>
<circle cx="140.0" cy="77.1" r="0.99" fill="rgb(158,158,158)" opacity="0.7"/>
<circle cx="37.6" cy="65.0" r="4.4" fill="#dcdcdc" opacity="0.55"/>
<circle cx="37.6" cy="65.0" r="3.8" fill="rgb(149,149,149)"/>
<circle cx="39.0" cy="65.8" r="1.2" fill="rgb(99,99,99)" opacity="0.85"/>
<circle cx="37.7" cy="66.1" r="1.2" fill="rgb(92,92,92)" opacity="0.85"/>
<circle cx="37.0" cy="65.1" r="0.95" fill="rgb(94,94,94)" opacity="0.85"/>
<circle cx="37.5" cy="62.8" r="1.2" fill="rgb(116,116,116)" opacity="0.85"/>
<circle cx="36.4" cy="64.8" r="0.82" fill="rgb(189,189,189)" opacity="0.7"/>
<circle cx="38.3" cy="66.7" r="0.86" fill="rgb(181,181,181)" opacity="0.7"/>
<circle cx="121.6" cy="84.5" r="4.5" fill="#dcdcdc" opacity="0.05"/>
<circle cx="121.6" cy="84.5" r="3.9" fill="rgb(95,95,95)"/>
<circle cx="123.0" cy="85.4" r="0.95" fill="rgb(38,38,38)" opacity="0.85"/>
<circle cx="121.8" cy="83.9" r="1.1" fill="rgb(38,38,38)" opacity="0.85"/>
<circle cx="121.9" cy="83.9" r="0.86" fill="rgb(59,59,59)" opacity="0.85"/>
<circle cx="122.0" cy="82.9" r="1.2" fill="rgb(53,53,53)" opacity="0.85"/>
<circle cx="122.5" cy="84.4" r="0.92" fill="rgb(46,46,46)" opacity="0.85"/>
<circle cx="120.8" cy="85.2" r="0.65" fill="rgb(133,133,133)" opacity="0.7"/>
<circle cx="90.8" cy="70.9" r="5.8" fill="#dcdcdc" opacity="0.55"/>
<circle cx="90.8" cy="70.9" r="5.2" fill="rgb(125,125,125)"/>
<circle cx="88.8" cy="70.3" r="1.2" fill="rgb(85,85,85)" opacity="0.85"/>
<circle cx="89.1" cy="69.3" r="0.73" fill="rgb(88,88,88)" opacity="0.85"/>
<circle cx="93.7" cy="70.0" r="0.72" fill="rgb(73,73,73)" opacity="0.85"/>
<circle cx="90.5" cy="69.6" r="0.87" fill="rgb(168,168,168)" opacity="0.7"/>
<circle cx="19.6" cy="82.9" r="5.4" fill="#dcdcdc" opacity="0.55"/>
<circle cx="19.6" cy="82.9" r="4.8" fill="rgb(149,149,149)"/>
<circle cx="20.8" cy="82.9" r="0.9" fill="rgb(112,112,112)" opacity="0.85"/>
<circle cx="18.8" cy="82.7" r="1" fill="rgb(91,91,91)" opacity="0.85"/>
<circle cx="20.2" cy="83.4" r="1.1" fill="rgb(106,106,106)" opacity="0.85"/>
<circle cx="19.9" cy="82.7" r="1.2" fill="rgb(114,114,114)" opacity="0.85"/>
<circle cx="18.6" cy="82.7" r="0.72" fill="rgb(89,89,89)" opacity="0.85"/>
<circle cx="21.2" cy="81.6" r="0.68" fill="rgb(174,174,174)" opacity="0.7"/>
<circle cx="99.8" cy="15.0" r="5.1" fill="#dcdcdc" opacity="0.24"/>
<circle cx="99.8" cy="15.0" r="4.5" fill="rgb(104,104,104)"/>
<circle cx="99.8" cy="15.2" r="1.2" fill="rgb(47,47,47)" opacity="0.85"/>
<circle cx="97.6" cy="15.1" r="1" fill="rgb(59,59,59)" opacity="0.85"/>
<circle cx="100.1" cy="15.2" r="0.83" fill="rgb(49,49,49)" opacity="0.85"/>
<circle cx="100.0" cy="17.2" r="0.81" fill="rgb(61,61,61)" opacity="0.85"/>
<circle cx="97.8" cy="13.6" r="1.2" fill="rgb(73,73,73)" opacity="0.85"/>
<circle cx="100.0" cy="17.1" r="0.6" fill="rgb(137,137,137)" opacity="0.7"/>
<circle cx="1.6" cy="10.3" r="4.8" fill="#dcdcdc" opacity="0.55"/>
<circle cx="1.6" cy="10.3" r="4.2" fill="rgb(151,151,151)"/>
<circle cx="0.7" cy="9.9" r="0.77" fill="rgb(109,109,109)" opacity="0.85"/>
<circle cx="3.1" cy="10.7" r="0.83" fill="rgb(113,113,113)" opacity="0.85"/>
<circle cx="-0.0" cy="9.4" r="1.2" fill="rgb(110,110,110)" opacity="0.85"/>
<circle cx="2.8" cy="8.7" r="1.2" fill="rgb(101,101,101)" opacity="0.85"/>
<circle cx="2.9" cy="11.2" r="0.99" fill="rgb(182,182,182)" opacity="0.7"/>
<circle cx="69.4" cy="91.6" r="4.9" fill="#dcdcdc" opacity="0.26"/>
<circle cx="69.4" cy="91.6" r="4.3" fill="rgb(105,105,105)"/>
<circle cx="71.7" cy="91.9" r="0.83" fill="rgb(47,47,47)" opacity="0.85"/>
<circle cx="71.6" cy="90.8" r="0.74" fill="rgb(50,50,50)" opacity="0.85"/>
<circle cx="68.9" cy="90.3" r="0.83" fill="rgb(63,63,63)" opacity="0.85"/>
<circle cx="71.6" cy="91.7" r="1.1" fill="rgb(59,59,59)" opacity="0.85"/>
<circle cx="70.3" cy="89.7" r="0.74" fill="rgb(59,59,59)" opacity="0.85"/>
<circle cx="71.1" cy="93.0" r="0.91" fill="rgb(139,139,139)" opacity="0.7"/>
<circle cx="70.2" cy="89.9" r="0.89" fill="rgb(144,144,144)" opacity="0.7"/>
<circle cx="42.6" cy="48.6" r="4.6" fill="#dcdcdc" opacity="0.55"/>
<circle cx="42.6" cy="48.6" r="4" fill="rgb(153,153,153)"/>
<circle cx="44.6" cy="49.6" r="1" fill="rgb(111,111,111)" opacity="0.85"/>
<circle cx="43.6" cy="47.0" r="0.93" fill="rgb(102,102,102)" opacity="0.85"/>
<circle cx="41.7" cy="48.1" r="1.1" fill="rgb(100,100,100)" opacity="0.85"/>
<circle cx="42.9" cy="50.9" r="0.77" fill="rgb(98,98,98)" opacity="0.85"/>
<circle cx="43.8" cy="49.0" r="1.2" fill="rgb(99,99,99)" opacity="0.85"/>
<circle cx="42.1" cy="47.9" r="0.7" fill="rgb(187,187,187)" opacity="0.7"/>
<circle cx="41.8" cy="48.9" r="0.61" fill="rgb(180,180,180)" opacity="0.7"/>
<circle cx="115.1" cy="79.8" r="5.3" fill="#dcdcdc" opacity="0.04"/>
<circle cx="115.1" cy="79.8" r="4.7" fill="rgb(127,127,127)"/>
<circle cx="113.0" cy="78.4" r="1.1" fill="rgb(72,72,72)" opacity="0.85"/>
<circle cx="114.0" cy="82.3" r="0.98" fill="rgb(80,80,80)" opacity="0.85"/>
<circle cx="114.7" cy="80.2" r="1.1" fill="rgb(93,93,93)" opacity="0.85"/>
<circle cx="113.4" cy="79.8" r="0.87" fill="rgb(160,160,160)" opacity="0.7"/>
<circle cx="115.3" cy="77.7" r="0.85" fill="rgb(171,171,171)" opacity="0.7"/>
<circle cx="5.6" cy="77.3" r="4.4" fill="#dcdcdc" opacity="0.55"/>
<circle cx="5.6" cy="77.3" r="3.8" fill="rgb(125,125,125)"/>
<circle cx="6.1" cy="76.0" r="0.96" fill="rgb(71,71,71)" opacity="0.85"/>
<circle cx="6.4" cy="78.0" r="1.1" fill="rgb(81,81,81)" opacity="0.85"/>
<circle cx="5.7" cy="77.5" r="0.8" fill="rgb(89,89,89)" opacity="0.85"/>
<circle cx="6.2" cy="77.2" r="0.65" fill="rgb(160,160,160)" opacity="0.7"/>
<circle cx="4.6" cy="76.4" r="0.87" fill="rgb(156,156,156)" opacity="0.7"/>
<circle cx="77.9" cy="93.5" r="4.6" fill="#dcdcdc" opacity="0.54"/>
<circle cx="77.9" cy="93.5" r="4" fill="rgb(112,112,112)"/>
<circle cx="77.3" cy="95.8" r="0.75" fill="rgb(58,58,58)" opacity="0.85"/>
<circle cx="76.7" cy="92.3" r="1.1" fill="rgb(68,68,68)" opacity="0.85"/>
<circle cx="77.7" cy="93.2" r="1.1" fill="rgb(76,76,76)" opacity="0.85"/>
<circle cx="79.5" cy="93.5" r="1.3" fill="rgb(66,66,66)" opacity="0.85"/>
<circle cx="77.9" cy="95.6" r="0.64" fill="rgb(151,151,151)" opacity="0.7"/>
<circle cx="78.3" cy="93.6" r="0.82" fill="rgb(147,147,147)" opacity="0.7"/>
<circle cx="21.0" cy="34.8" r="5.2" fill="#dcdcdc" opacity="0.55"/>
<circle cx="21.0" cy="34.8" r="4.6" fill="rgb(134,134,134)"/>
<circle cx="21.2" cy="37.5" r="0.99" fill="rgb(94,94,94)" opacity="0.85"/>
<circle cx="19.8" cy="36.8" r="1" fill="rgb(94,94,94)" opacity="0.85"/>
<circle cx="18.9" cy="36.2" r="1.1" fill="rgb(91,91,91)" opacity="0.85"/>
<circle cx="18.3" cy="34.4" r="0.72" fill="rgb(169,169,169)" opacity="0.7"/>
<circle cx="119.1" cy="2.6" r="5.3" fill="#dcdcdc" opacity="0.55"/>
<circle cx="119.1" cy="2.6" r="4.7" fill="rgb(127,127,127)"/>
<circle cx="121.1" cy="4.1" r="1" fill="rgb(85,85,85)" opacity="0.85"/>
<circle cx="120.5" cy="4.2" r="0.84" fill="rgb(79,79,79)" opacity="0.85"/>
<circle cx="119.0" cy="3.3" r="1" fill="rgb(80,80,80)" opacity="0.85"/>
<circle cx="118.5" cy="0.3" r="0.91" fill="rgb(170,170,170)" opacity="0.7"/>
<circle cx="39.6" cy="24.9" r="4.5" fill="#dcdcdc" opacity="0.55"/>
<circle cx="39.6" cy="24.9" r="3.9" fill="rgb(146,146,146)"/>
<circle cx="38.4" cy="23.0" r="1.1" fill="rgb(104,104,104)" opacity="0.85"/>
<circle cx="38.7" cy="26.4" r="1.3" fill="rgb(109,109,109)" opacity="0.85"/>
<circle cx="39.9" cy="27.0" r="0.7" fill="rgb(90,90,90)" opacity="0.85"/>
<circle cx="39.9" cy="26.4" r="1.1" fill="rgb(107,107,107)" opacity="0.85"/>
<circle cx="38.2" cy="23.4" r="0.72" fill="rgb(172,172,172)" opacity="0.7"/>
<circle cx="6.3" cy="67.3" r="4.4" fill="#dcdcdc" opacity="0.55"/>
<circle cx="6.3" cy="67.3" r="3.8" fill="rgb(114,114,114)"/>
<circle cx="7.1" cy="67.0" r="1.1" fill="rgb(63,63,63)" opacity="0.85"/>
<circle cx="6.9" cy="68.0" r="0.78" fill="rgb(55,55,55)" opacity="0.85"/>
<circle cx="4.7" cy="67.8" r="0.87" fill="rgb(79,79,79)" opacity="0.85"/>
<circle cx="5.0" cy="68.7" r="0.85" fill="rgb(69,69,69)" opacity="0.85"/>
<circle cx="6.6" cy="65.8" r="0.75" fill="rgb(149,149,149)" opacity="0.7"/>
<circle cx="7.2" cy="69.1" r="0.84" fill="rgb(155,155,155)" opacity="0.7"/>
<circle cx="57.4" cy="48.8" r="4.4" fill="#dcdcdc" opacity="0.55"/>
<circle cx="57.4" cy="48.8" r="3.8" fill="rgb(150,150,150)"/>
<circle cx="58.5" cy="47.3" r="0.84" fill="rgb(115,115,115)" opacity="0.85"/>
<circle cx="59.6" cy="48.4" r="0.79" fill="rgb(94,94,94)" opacity="0.85"/>
<circle cx="58.9" cy="49.9" r="0.75" fill="rgb(107,107,107)" opacity="0.85"/>
<circle cx="55.3" cy="48.2" r="1.2" fill="rgb(90,90,90)" opacity="0.85"/>
<circle cx="57.3" cy="48.7" r="0.77" fill="rgb(186,186,186)" opacity="0.7"/>
<circle cx="55.9" cy="50.1" r="0.63" fill="rgb(180,180,180)" opacity="0.7"/>
<circle cx="133.0" cy="99.2" r="4.3" fill="#dcdcdc" opacity="0.53"/>
<circle cx="133.0" cy="99.2" r="3.7" fill="rgb(118,118,118)"/>
<circle cx="132.0" cy="97.9" r="0.87" fill="rgb(60,60,60)" opacity="0.85"/>
<circle cx="132.1" cy="99.5" r="0.72" fill="rgb(60,60,60)" opacity="0.85"/>
<circle cx="131.8" cy="98.9" r="1.1" fill="rgb(73,73,73)" opacity="0.85"/>
<circle cx="131.6" cy="100.3" r="1.2" fill="rgb(67,67,67)" opacity="0.85"/>
<circle cx="132.0" cy="98.0" r="0.66" fill="rgb(147,147,147)" opacity="0.7"/>
<circle cx="124.3" cy="58.5" r="4.9" fill="#dcdcdc" opacity="0.03"/>
<circle cx="124.3" cy="58.5" r="4.3" fill="rgb(113,113,113)"/>
<circle cx="123.6" cy="60.5" r="0.81" fill="rgb(77,77,77)" opacity="0.85"/>
<circle cx="124.4" cy="60.5" r="0.92" fill="rgb(54,54,54)" opacity="0.85"/>
<circle cx="124.8" cy="56.5" r="0.9" fill="rgb(74,74,74)" opacity="0.85"/>
<circle cx="122.2" cy="58.4" r="1.1" fill="rgb(71,71,71)" opacity="0.85"/>
<circle cx="126.6" cy="59.5" r="1" fill="rgb(150,150,150)" opacity="0.7"/>
<circle cx="123.9" cy="57.4" r="0.78" fill="rgb(154,154,154)" opacity="0.7"/>
<circle cx="10.4" cy="50.0" r="5" fill="#dcdcdc" opacity="0.55"/>
<circle cx="10.4" cy="50.0" r="4.4" fill="rgb(127,127,127)"/>
<circle cx="10.9" cy="48.8" r="0.81" fill="rgb(80,80,80)" opacity="0.85"/>
<circle cx="8.6" cy="49.7" r="0.88" fill="rgb(74,74,74)" opacity="0.85"/>
<circle cx="10.9" cy="50.7" r="1.2" fill="rgb(68,68,68)" opacity="0.85"/>
<circle cx="9.2" cy="51.8" r="0.71" fill="rgb(95,95,95)" opacity="0.85"/>
<circle cx="12.6" cy="50.2" r="0.86" fill="rgb(171,171,171)" opacity="0.7"/>
<circle cx="118.2" cy="50.6" r="4.8" fill="#dcdcdc" opacity="0.16"/>
<circle cx="118.2" cy="50.6" r="4.2" fill="rgb(117,117,117)"/>
<circle cx="120.3" cy="51.6" r="1" fill="rgb(72,72,72)" opacity="0.85"/>
<circle cx="117.6" cy="48.6" r="1.3" fill="rgb(76,76,76)" opacity="0.85"/>
<circle cx="119.8" cy="52.3" r="0.93" fill="rgb(58,58,58)" opacity="0.85"/>
<circle cx="119.9" cy="51.9" r="1.2" fill="rgb(84,84,84)" opacity="0.85"/>
<circle cx="118.2" cy="48.0" r="0.61" fill="rgb(157,157,157)" opacity="0.7"/>
<circle cx="115.8" cy="50.9" r="0.93" fill="rgb(155,155,155)" opacity="0.7"/>
<circle cx="97.2" cy="51.9" r="4.8" fill="#dcdcdc" opacity="0.55"/>
<circle cx="97.2" cy="51.9" r="4.2" fill="rgb(157,157,157)"/>
<circle cx="97.2" cy="51.8" r="0.74" fill="rgb(117,117,117)" opacity="0.85"/>
<circle cx="98.1" cy="50.9" r="0.91" fill="rgb(104,104,104)" opacity="0.85"/>
<circle cx="95.1" cy="51.3" r="1" fill="rgb(111,111,111)" opacity="0.85"/>
<circle cx="95.3" cy="53.1" r="1.2" fill="rgb(103,103,103)" opacity="0.85"/>
<circle cx="97.2" cy="52.6" r="0.89" fill="rgb(111,111,111)" opacity="0.85"/>
<circle cx="97.0" cy="50.6" r="0.83" fill="rgb(200,200,200)" opacity="0.7"/>
<circle cx="72.5" cy="49.0" r="4.4" fill="#dcdcdc" opacity="0.55"/>
<circle cx="72.5" cy="49.0" r="3.8" fill="rgb(142,142,142)"/>
<circle cx="73.6" cy="49.8" r="0.74" fill="rgb(99,99,99)" opacity="0.85"/>
<circle cx="72.7" cy="50.5" r="1.1" fill="rgb(95,95,95)" opacity="0.85"/>
<circle cx="72.5" cy="49.2" r="1.1" fill="rgb(84,84,84)" opacity="0.85"/>
<circle cx="73.1" cy="48.0" r="0.81" fill="rgb(110,110,110)" opacity="0.85"/>
<circle cx="73.4" cy="49.6" r="0.88" fill="rgb(173,173,173)" opacity="0.7"/>
<circle cx="140.6" cy="53.1" r="4.6" fill="#dcdcdc" opacity="0.52"/>
<circle cx="140.6" cy="53.1" r="4" fill="rgb(129,129,129)"/>
<circle cx="141.8" cy="54.8" r="1.1" fill="rgb(74,74,74)" opacity="0.85"/>
<circle cx="138.4" cy="52.8" r="0.88" fill="rgb(92,92,92)" opacity="0.85"/>
<circle cx="142.6" cy="54.4" r="0.76" fill="rgb(79,79,79)" opacity="0.85"/>
<circle cx="140.9" cy="51.2" r="0.76" fill="rgb(73,73,73)" opacity="0.85"/>
<circle cx="141.9" cy="54.5" r="0.88" fill="rgb(88,88,88)" opacity="0.85"/>
<circle cx="140.4" cy="54.4" r="0.67" fill="rgb(173,173,173)" opacity="0.7"/>
<circle cx="140.1" cy="54.8" r="0.67" fill="rgb(164,164,164)" opacity="0.7"/>
<circle cx="76.6" cy="26.9" r="5.4" fill="#dcdcdc" opacity="0.46"/>
<circle cx="76.6" cy="26.9" r="4.8" fill="rgb(161,161,161)"/>
<circle cx="75.5" cy="28.9" r="1" fill="rgb(120,120,120)" opacity="0.85"/>
<circle cx="78.3" cy="26.7" r="0.88" fill="rgb(118,118,118)" opacity="0.85"/>
<circle cx="75.3" cy="29.4" r="1.2" fill="rgb(109,109,109)" opacity="0.85"/>
<circle cx="77.1" cy="26.9" r="1.2" fill="rgb(105,105,105)" opacity="0.85"/>
<circle cx="76.9" cy="25.6" r="0.63" fill="rgb(191,191,191)" opacity="0.7"/>
<circle cx="76.3" cy="25.7" r="0.94" fill="rgb(189,189,189)" opacity="0.7"/>
<circle cx="139.1" cy="21.9" r="4.6" fill="#dcdcdc" opacity="0.55"/>
<circle cx="139.1" cy="21.9" r="4" fill="rgb(128,128,128)"/>
<circle cx="138.2" cy="20.9" r="1.2" fill="rgb(71,71,71)" opacity="0.85"/>
<circle cx="138.9" cy="21.0" r="0.71" fill="rgb(83,83,83)" opacity="0.85"/>
<circle cx="140.9" cy="21.0" r="0.83" fill="rgb(87,87,87)" opacity="0.85"/>
<circle cx="140.8" cy="22.5" r="0.86" fill="rgb(166,166,166)" opacity="0.7"/>
<circle cx="140.3" cy="22.2" r="0.82" fill="rgb(171,171,171)" opacity="0.7"/>
<circle cx="28.3" cy="6.5" r="5.4" fill="#dcdcdc" opacity="0.55"/>
<circle cx="28.3" cy="6.5" r="4.8" fill="rgb(148,148,148)"/>
<circle cx="27.6" cy="5.2" r="1.1" fill="rgb(100,100,100)" opacity="0.85"/>
<circle cx="25.8" cy="8.0" r="0.88" fill="rgb(113,113,113)" opacity="0.85"/>
<circle cx="30.5" cy="6.8" r="1.2" fill="rgb(107,107,107)" opacity="0.85"/>
<circle cx="26.7" cy="7.2" r="1" fill="rgb(109,109,109)" opacity="0.85"/>
<circle cx="28.2" cy="8.3" r="0.87" fill="rgb(94,94,94)" opacity="0.85"/>
<circle cx="25.4" cy="5.9" r="0.7" fill="rgb(178,178,178)" opacity="0.7"/>
<circle cx="27.5" cy="6.5" r="0.67" fill="rgb(177,177,177)" opacity="0.7"/>
<circle cx="103.8" cy="87.8" r="4.8" fill="#dcdcdc" opacity="0.49"/>
<circle cx="103.8" cy="87.8" r="4.2" fill="rgb(142,142,142)"/>
<circle cx="106.0" cy="88.2" r="1.1" fill="rgb(91,91,91)" opacity="0.85"/>
<circle cx="102.1" cy="88.8" r="0.84" fill="rgb(104,104,104)" opacity="0.85"/>
<circle cx="101.6" cy="87.0" r="0.74" fill="rgb(100,100,100)" opacity="0.85"/>
<circle cx="105.0" cy="87.6" r="0.96" fill="rgb(99,99,99)" opacity="0.85"/>
<circle cx="103.5" cy="89.0" r="0.66" fill="rgb(175,175,175)" opacity="0.7"/>
<circle cx="46.2" cy="-0.9" r="4.3" fill="#dcdcdc" opacity="0.55"/>
<circle cx="46.2" cy="-0.9" r="3.7" fill="rgb(153,153,153)"/>
<circle cx="46.9" cy="-1.5" r="0.98" fill="rgb(118,118,118)" opacity="0.85"/>
<circle cx="45.1" cy="-2.7" r="1.3" fill="rgb(101,101,101)" opacity="0.85"/>
<circle cx="47.0" cy="-1.0" r="0.87" fill="rgb(120,120,120)" opacity="0.85"/>
<circle cx="46.2" cy="-1.8" r="1.2" fill="rgb(105,105,105)" opacity="0.85"/>
<circle cx="46.0" cy="-1.9" r="1.2" fill="rgb(121,121,121)" opacity="0.85"/>
<circle cx="46.4" cy="-1.2" r="0.94" fill="rgb(193,193,193)" opacity="0.7"/>
<circle cx="44.1" cy="-0.9" r="0.7" fill="rgb(197,197,197)" opacity="0.7"/>
<circle cx="62.8" cy="69.2" r="5.4" fill="#dcdcdc" opacity="0.18"/>
<circle cx="62.8" cy="69.2" r="4.8" fill="rgb(94,94,94)"/>
<circle cx="65.4" cy="69.0" r="1.2" fill="rgb(50,50,50)" opacity="0.85"/>
<circle cx="62.0" cy="69.3" r="1.1" fill="rgb(45,45,45)" opacity="0.85"/>
<circle cx="65.1" cy="70.6" r="1.1" fill="rgb(45,45,45)" opacity="0.85"/>
<circle cx="64.6" cy="69.8" r="0.64" fill="rgb(134,134,134)" opacity="0.7"/>
<circle cx="44.3" cy="57.1" r="4.5" fill="#dcdcdc" opacity="0.55"/>
<circle cx="44.3" cy="57.1" r="3.9" fill="rgb(161,161,161)"/>
<circle cx="42.7" cy="57.1" r="0.73" fill="rgb(111,111,111)" opacity="0.85"/>
<circle cx="45.6" cy="55.4" r="0.8" fill="rgb(125,125,125)" opacity="0.85"/>
<circle cx="42.5" cy="58.1" r="1" fill="rgb(125,125,125)" opacity="0.85"/>
<circle cx="44.6" cy="55.3" r="0.96" fill="rgb(187,187,187)" opacity="0.7"/>
<circle cx="44.0" cy="64.5" r="4.5" fill="#dcdcdc" opacity="0.55"/>
<circle cx="44.0" cy="64.5" r="3.9" fill="rgb(133,133,133)"/>
<circle cx="44.2" cy="64.1" r="1.2" fill="rgb(92,92,92)" opacity="0.85"/>
<circle cx="44.5" cy="62.2" r="0.96" fill="rgb(74,74,74)" opacity="0.85"/>
<circle cx="43.7" cy="62.4" r="0.82" fill="rgb(102,102,102)" opacity="0.85"/>
<circle cx="44.5" cy="62.7" r="0.87" fill="rgb(92,92,92)" opacity="0.85"/>
<circle cx="43.4" cy="63.0" r="0.76" fill="rgb(167,167,167)" opacity="0.7"/>
<circle cx="44.3" cy="66.5" r="0.81" fill="rgb(164,164,164)" opacity="0.7"/>
<circle cx="-2.0" cy="39.8" r="4.7" fill="#dcdcdc" opacity="0.55"/>
<circle cx="-2.0" cy="39.8" r="4.1" fill="rgb(154,154,154)"/>
<circle cx="-2.7" cy="39.6" r="0.73" fill="rgb(107,107,107)" opacity="0.85"/>
<circle cx="-2.3" cy="41.2" r="1.2" fill="rgb(123,123,123)" opacity="0.85"/>
<circle cx="-0.9" cy="41.3" r="0.76" fill="rgb(119,119,119)" opacity="0.85"/>
<circle cx="-1.4" cy="41.7" r="0.93" fill="rgb(95,95,95)" opacity="0.85"/>
<circle cx="-2.9" cy="37.9" r="0.9" fill="rgb(103,103,103)" opacity="0.85"/>
<circle cx="-0.4" cy="40.5" r="0.83" fill="rgb(194,194,194)" opacity="0.7"/>
<circle cx="-3.1" cy="37.6" r="0.91" fill="rgb(182,182,182)" opacity="0.7"/>
<circle cx="97.1" cy="41.7" r="4.4" fill="#dcdcdc" opacity="0.45"/>
<circle cx="97.1" cy="41.7" r="3.8" fill="rgb(146,146,146)"/>
<circle cx="97.8" cy="39.6" r="1.2" fill="rgb(115,115,115)" opacity="0.85"/>
<circle cx="98.2" cy="41.2" r="1" fill="rgb(86,86,86)" opacity="0.85"/>
<circle cx="97.2" cy="40.5" r="0.72" fill="rgb(105,105,105)" opacity="0.85"/>
<circle cx="96.5" cy="42.6" r="1.2" fill="rgb(102,102,102)" opacity="0.85"/>
<circle cx="96.6" cy="39.7" r="0.73" fill="rgb(92,92,92)" opacity="0.85"/>
<circle cx="98.4" cy="40.1" r="0.95" fill="rgb(184,184,184)" opacity="0.7"/>
<circle cx="60.6" cy="89.9" r="5.7" fill="#dcdcdc" opacity="0.17"/>
<circle cx="60.6" cy="89.9" r="5.1" fill="rgb(99,99,99)"/>
<circle cx="62.3" cy="88.0" r="1.1" fill="rgb(51,51,51)" opacity="0.85"/>
<circle cx="60.3" cy="87.9" r="0.95" fill="rgb(64,64,64)" opacity="0.85"/>
<circle cx="59.7" cy="90.4" r="1.2" fill="rgb(62,62,62)" opacity="0.85"/>
<circle cx="63.0" cy="91.4" r="0.9" fill="rgb(138,138,138)" opacity="0.7"/>
<circle cx="31.5" cy="99.1" r="5.1" fill="#dcdcdc" opacity="0.55"/>
<circle cx="31.5" cy="99.1" r="4.5" fill="rgb(117,117,117)"/>
<circle cx="31.8" cy="99.4" r="0.78" fill="rgb(58,58,58)" opacity="0.85"/>
<circle cx="30.6" cy="101.6" r="0.74" fill="rgb(68,68,68)" opacity="0.85"/>
<circle cx="32.8" cy="100.4" r="0.81" fill="rgb(63,63,63)" opacity="0.85"/>
<circle cx="30.3" cy="97.8" r="1" fill="rgb(80,80,80)" opacity="0.85"/>
<circle cx="30.4" cy="99.4" r="0.97" fill="rgb(159,159,159)" opacity="0.7"/>
<circle cx="53.8" cy="-0.8" r="4.4" fill="#dcdcdc" opacity="0.55"/>
<circle cx="53.8" cy="-0.8" r="3.8" fill="rgb(148,148,148)"/>
<circle cx="53.9" cy="-1.3" r="1.2" fill="rgb(91,91,91)" opacity="0.85"/>
<circle cx="54.7" cy="-0.0" r="1" fill="rgb(101,101,101)" opacity="0.85"/>
<circle cx="52.4" cy="0.5" r="1.2" fill="rgb(91,91,91)" opacity="0.85"/>
<circle cx="53.1" cy="0.9" r="0.74" fill="rgb(178,178,178)" opacity="0.7"/>
<circle cx="53.9" cy="0.3" r="0.65" fill="rgb(180,180,180)" opacity="0.7"/>
<circle cx="81.5" cy="68.1" r="4.7" fill="#dcdcdc" opacity="0.55"/>
<circle cx="81.5" cy="68.1" r="4.1" fill="rgb(146,146,146)"/>
<circle cx="81.3" cy="66.4" r="1.2" fill="rgb(100,100,100)" opacity="0.85"/>
<circle cx="81.6" cy="66.3" r="1.3" fill="rgb(99,99,99)" opacity="0.85"/>
<circle cx="80.4" cy="66.1" r="1.2" fill="rgb(107,107,107)" opacity="0.85"/>
<circle cx="82.9" cy="66.1" r="1.1" fill="rgb(94,94,94)" opacity="0.85"/>
<circle cx="79.9" cy="67.6" r="0.82" fill="rgb(179,179,179)" opacity="0.7"/>
<circle cx="140.7" cy="6.3" r="4.6" fill="#dcdcdc" opacity="0.55"/>
<circle cx="140.7" cy="6.3" r="4" fill="rgb(146,146,146)"/>
<circle cx="139.2" cy="5.6" r="0.96" fill="rgb(91,91,91)" opacity="0.85"/>
<circle cx="140.8" cy="4.6" r="0.77" fill="rgb(92,92,92)" opacity="0.85"/>
<circle cx="142.2" cy="5.9" r="0.76" fill="rgb(108,108,108)" opacity="0.85"/>
<circle cx="141.0" cy="5.8" r="0.9" fill="rgb(177,177,177)" opacity="0.7"/>
<circle cx="43.8" cy="14.2" r="4.4" fill="#dcdcdc" opacity="0.40"/>
<circle cx="43.8" cy="14.2" r="3.8" fill="rgb(126,126,126)"/>
<circle cx="42.8" cy="14.2" r="1.1" fill="rgb(77,77,77)" opacity="0.85"/>
<circle cx="43.4" cy="14.7" r="1.1" fill="rgb(82,82,82)" opacity="0.85"/>
<circle cx="44.5" cy="15.5" r="0.78" fill="rgb(81,81,81)" opacity="0.85"/>
<circle cx="45.2" cy="14.3" r="0.91" fill="rgb(91,91,91)" opacity="0.85"/>
<circle cx="42.7" cy="13.9" r="0.87" fill="rgb(151,151,151)" opacity="0.7"/>
<circle cx="44.2" cy="15.8" r="0.97" fill="rgb(167,167,167)" opacity="0.7"/>
<circle cx="15.6" cy="26.5" r="5.1" fill="#dcdcdc" opacity="0.55"/>
<circle cx="15.6" cy="26.5" r="4.5" fill="rgb(171,171,171)"/>
<circle cx="15.8" cy="26.9" r="0.78" fill="rgb(119,119,119)" opacity="0.85"/>
<circle cx="17.5" cy="25.5" r="1.3" fill="rgb(121,121,121)" opacity="0.85"/>
<circle cx="14.9" cy="28.8" r="0.75" fill="rgb(136,136,136)" opacity="0.85"/>
<circle cx="17.5" cy="27.3" r="1.1" fill="rgb(114,114,114)" opacity="0.85"/>
<circle cx="15.1" cy="24.8" r="0.74" fill="rgb(118,118,118)" opacity="0.85"/>
<circle cx="17.4" cy="25.1" r="0.76" fill="rgb(214,214,214)" opacity="0.7"/>
<circle cx="16.0" cy="27.3" r="0.72" fill="rgb(199,199,199)" opacity="0.7"/>
<circle cx="1.4" cy="33.5" r="4.9" fill="#dcdcdc" opacity="0.55"/>
<circle cx="1.4" cy="33.5" r="4.3" fill="rgb(162,162,162)"/>
<circle cx="1.3" cy="31.5" r="0.73" fill="rgb(129,129,129)" opacity="0.85"/>
<circle cx="2.3" cy="34.1" r="0.81" fill="rgb(124,124,124)" opacity="0.85"/>
<circle cx="-0.7" cy="32.8" r="0.89" fill="rgb(115,115,115)" opacity="0.85"/>
<circle cx="2.9" cy="32.5" r="0.94" fill="rgb(190,190,190)" opacity="0.7"/>
<circle cx="3.2" cy="32.1" r="0.91" fill="rgb(201,201,201)" opacity="0.7"/>
<circle cx="85.2" cy="46.5" r="4.4" fill="#dcdcdc" opacity="0.55"/>
<circle cx="85.2" cy="46.5" r="3.8" fill="rgb(143,143,143)"/>
<circle cx="84.8" cy="44.6" r="1.2" fill="rgb(104,104,104)" opacity="0.85"/>
<circle cx="84.2" cy="47.1" r="1.2" fill="rgb(109,109,109)" opacity="0.85"/>
<circle cx="86.1" cy="48.2" r="1.2" fill="rgb(98,98,98)" opacity="0.85"/>
<circle cx="86.6" cy="45.2" r="0.68" fill="rgb(170,170,170)" opacity="0.7"/>
<circle cx="125.3" cy="48.2" r="4.9" fill="#dcdcdc" opacity="0.24"/>
<circle cx="125.3" cy="48.2" r="4.3" fill="rgb(106,106,106)"/>
<circle cx="126.0" cy="46.1" r="0.98" fill="rgb(74,74,74)" opacity="0.85"/>
<circle cx="124.9" cy="47.0" r="1.1" fill="rgb(48,48,48)" opacity="0.85"/>
<circle cx="127.4" cy="47.3" r="0.76" fill="rgb(57,57,57)" opacity="0.85"/>
<circle cx="127.0" cy="47.2" r="1" fill="rgb(47,47,47)" opacity="0.85"/>
<circle cx="126.0" cy="47.6" r="0.71" fill="rgb(138,138,138)" opacity="0.7"/>
<circle cx="126.7" cy="48.0" r="0.82" fill="rgb(148,148,148)" opacity="0.7"/>
<circle cx="96.7" cy="66.3" r="4.7" fill="#dcdcdc" opacity="0.54"/>
<circle cx="96.7" cy="66.3" r="4.1" fill="rgb(114,114,114)"/>
<circle cx="94.9" cy="64.7" r="0.74" fill="rgb(55,55,55)" opacity="0.85"/>
<circle cx="96.0" cy="64.8" r="1.2" fill="rgb(66,66,66)" opacity="0.85"/>
<circle cx="98.0" cy="64.5" r="0.72" fill="rgb(83,83,83)" opacity="0.85"/>
<circle cx="97.2" cy="64.3" r="0.77" fill="rgb(157,157,157)" opacity="0.7"/>
<circle cx="97.6" cy="68.0" r="0.66" fill="rgb(143,143,143)" opacity="0.7"/>
<circle cx="94.4" cy="2.0" r="5.7" fill="#dcdcdc" opacity="0.55"/>
<circle cx="94.4" cy="2.0" r="5.1" fill="rgb(148,148,148)"/>
<circle cx="95.0" cy="2.9" r="1.3" fill="rgb(102,102,102)" opacity="0.85"/>
<circle cx="95.2" cy="-0.5" r="1.1" fill="rgb(91,91,91)" opacity="0.85"/>
<circle cx="94.7" cy="3.1" r="0.89" fill="rgb(92,92,92)" opacity="0.85"/>
<circle cx="92.0" cy="1.8" r="1.2" fill="rgb(113,113,113)" opacity="0.85"/>
<circle cx="96.6" cy="3.6" r="0.82" fill="rgb(184,184,184)" opacity="0.7"/>
<circle cx="16.4" cy="-0.6" r="4.8" fill="#dcdcdc" opacity="0.55"/>
<circle cx="16.4" cy="-0.6" r="4.2" fill="rgb(138,138,138)"/>
<circle cx="16.3" cy="1.3" r="1.3" fill="rgb(95,95,95)" opacity="0.85"/>
<circle cx="14.2" cy="0.1" r="1" fill="rgb(85,85,85)" opacity="0.85"/>
<circle cx="16.5" cy="-1.0" r="0.98" fill="rgb(91,91,91)" opacity="0.85"/>
<circle cx="15.6" cy="-1.8" r="0.9" fill="rgb(182,182,182)" opacity="0.7"/>
<circle cx="34.0" cy="35.4" r="5" fill="#dcdcdc" opacity="0.55"/>
<circle cx="34.0" cy="35.4" r="4.4" fill="rgb(153,153,153)"/>
<circle cx="33.6" cy="34.3" r="1.2" fill="rgb(93,93,93)" opacity="0.85"/>
<circle cx="33.5" cy="34.2" r="0.99" fill="rgb(100,100,100)" opacity="0.85"/>
<circle cx="32.5" cy="36.2" r="0.73" fill="rgb(100,100,100)" opacity="0.85"/>
<circle cx="33.9" cy="37.7" r="0.84" fill="rgb(186,186,186)" opacity="0.7"/>
<circle cx="107.5" cy="45.7" r="4.9" fill="#dcdcdc" opacity="0.49"/>
<circle cx="107.5" cy="45.7" r="4.3" fill="rgb(112,112,112)"/>
<circle cx="107.9" cy="48.1" r="1" fill="rgb(64,64,64)" opacity="0.85"/>
<circle cx="107.6" cy="43.8" r="0.88" fill="rgb(73,73,73)" opacity="0.85"/>
<circle cx="108.1" cy="46.1" r="1" fill="rgb(81,81,81)" opacity="0.85"/>
<circle cx="108.0" cy="44.2" r="1.2" fill="rgb(59,59,59)" opacity="0.85"/>
<circle cx="106.7" cy="47.1" r="1" fill="rgb(148,148,148)" opacity="0.7"/>
<circle cx="108.5" cy="46.2" r="0.72" fill="rgb(156,156,156)" opacity="0.7"/>
<circle cx="27.3" cy="82.9" r="4.5" fill="#dcdcdc" opacity="0.55"/>
<circle cx="27.3" cy="82.9" r="3.9" fill="rgb(120,120,120)"/>
<circle cx="26.5" cy="83.1" r="1.1" fill="rgb(65,65,65)" opacity="0.85"/>
<circle cx="28.2" cy="82.6" r="0.99" fill="rgb(84,84,84)" opacity="0.85"/>
<circle cx="28.4" cy="85.0" r="0.71" fill="rgb(65,65,65)" opacity="0.85"/>
<circle cx="26.0" cy="83.1" r="0.76" fill="rgb(154,154,154)" opacity="0.7"/>
<circle cx="39.2" cy="85.9" r="4.4" fill="#dcdcdc" opacity="0.55"/>
<circle cx="39.2" cy="85.9" r="3.8" fill="rgb(112,112,112)"/>
<circle cx="37.5" cy="87.0" r="0.72" fill="rgb(52,52,52)" opacity="0.85"/>
<circle cx="39.0" cy="85.2" r="1" fill="rgb(61,61,61)" opacity="0.85"/>
<circle cx="37.8" cy="84.4" r="1.1" fill="rgb(59,59,59)" opacity="0.85"/>
<circle cx="38.5" cy="85.1" r="0.78" fill="rgb(144,144,144)" opacity="0.7"/>
<circle cx="117.8" cy="11.2" r="4.7" fill="#dcdcdc" opacity="0.55"/>
<circle cx="117.8" cy="11.2" r="4.1" fill="rgb(121,121,121)"/>
<circle cx="118.0" cy="12.1" r="0.89" fill="rgb(74,74,74)" opacity="0.85"/>
<circle cx="118.1" cy="11.2" r="0.9" fill="rgb(89,89,89)" opacity="0.85"/>
<circle cx="118.9" cy="9.1" r="0.89" fill="rgb(62,62,62)" opacity="0.85"/>
<circle cx="116.0" cy="11.7" r="0.87" fill="rgb(151,151,151)" opacity="0.7"/>
<circle cx="120.4" cy="36.0" r="4.8" fill="#dcdcdc" opacity="0.52"/>
<circle cx="120.4" cy="36.0" r="4.2" fill="rgb(111,111,111)"/>
<circle cx="122.5" cy="36.9" r="1.1" fill="rgb(77,77,77)" opacity="0.85"/>
<circle cx="121.2" cy="33.9" r="0.92" fill="rgb(66,66,66)" opacity="0.85"/>
<circle cx="118.8" cy="36.6" r="0.97" fill="rgb(54,54,54)" opacity="0.85"/>
<circle cx="118.9" cy="35.6" r="0.72" fill="rgb(143,143,143)" opacity="0.7"/>
<circle cx="140.6" cy="-0.2" r="4.7" fill="#dcdcdc" opacity="0.55"/>
<circle cx="140.6" cy="-0.2" r="4.1" fill="rgb(138,138,138)"/>
<circle cx="142.3" cy="1.0" r="1.1" fill="rgb(102,102,102)" opacity="0.85"/>
<circle cx="141.8" cy="1.8" r="0.92" fill="rgb(78,78,78)" opacity="0.85"/>
<circle cx="142.5" cy="-1.7" r="0.94" fill="rgb(105,105,105)" opacity="0.85"/>
<circle cx="138.7" cy="1.3" r="0.8" fill="rgb(95,95,95)" opacity="0.85"/>
<circle cx="142.3" cy="1.2" r="1" fill="rgb(82,82,82)" opacity="0.85"/>
<circle cx="141.5" cy="1.8" r="0.82" fill="rgb(169,169,169)" opacity="0.7"/>
<circle cx="142.3" cy="1.2" r="0.64" fill="rgb(165,165,165)" opacity="0.7"/>
<circle cx="81.5" cy="99.9" r="4.8" fill="#dcdcdc" opacity="0.55"/>
<circle cx="81.5" cy="99.9" r="4.2" fill="rgb(138,138,138)"/>
<circle cx="80.7" cy="99.0" r="1.2" fill="rgb(86,86,86)" opacity="0.85"/>
<circle cx="81.4" cy="100.0" r="0.98" fill="rgb(103,103,103)" opacity="0.85"/>
<circle cx="82.3" cy="100.9" r="1.1" fill="rgb(106,106,106)" opacity="0.85"/>
<circle cx="81.0" cy="100.7" r="1.1" fill="rgb(101,101,101)" opacity="0.85"/>
<circle cx="81.5" cy="99.1" r="0.62" fill="rgb(174,174,174)" opacity="0.7"/>
<circle cx="117.9" cy="23.4" r="4.9" fill="#dcdcdc" opacity="0.55"/>
<circle cx="117.9" cy="23.4" r="4.3" fill="rgb(116,116,116)"/>
<circle cx="118.6" cy="24.0" r="1" fill="rgb(79,79,79)" opacity="0.85"/>
<circle cx="118.0" cy="23.4" r="0.71" fill="rgb(69,69,69)" opacity="0.85"/>
<circle cx="118.6" cy="21.3" r="0.82" fill="rgb(72,72,72)" opacity="0.85"/>
<circle cx="117.9" cy="24.6" r="0.66" fill="rgb(156,156,156)" opacity="0.7"/>
<circle cx="117.5" cy="23.7" r="0.83" fill="rgb(149,149,149)" opacity="0.7"/>
<circle cx="82.1" cy="52.2" r="4.4" fill="#dcdcdc" opacity="0.55"/>
<circle cx="82.1" cy="52.2" r="3.8" fill="rgb(120,120,120)"/>
<circle cx="81.4" cy="53.5" r="0.75" fill="rgb(60,60,60)" opacity="0.85"/>
<circle cx="83.1" cy="53.9" r="1.2" fill="rgb(65,65,65)" opacity="0.85"/>
<circle cx="81.9" cy="52.3" r="0.89" fill="rgb(77,77,77)" opacity="0.85"/>
<circle cx="80.0" cy="52.8" r="0.69" fill="rgb(164,164,164)" opacity="0.7"/>
<circle cx="80.3" cy="52.7" r="0.72" fill="rgb(145,145,145)" opacity="0.7"/>
<circle cx="0.3" cy="19.5" r="4.3" fill="#dcdcdc" opacity="0.55"/>
<circle cx="0.3" cy="19.5" r="3.7" fill="rgb(128,128,128)"/>
<circle cx="1.2" cy="20.8" r="1" fill="rgb(68,68,68)" opacity="0.85"/>
<circle cx="2.5" cy="19.4" r="0.81" fill="rgb(77,77,77)" opacity="0.85"/>
<circle cx="0.5" cy="19.5" r="0.92" fill="rgb(94,94,94)" opacity="0.85"/>
<circle cx="-1.1" cy="18.7" r="0.88" fill="rgb(91,91,91)" opacity="0.85"/>
<circle cx="0.5" cy="19.4" r="1.1" fill="rgb(76,76,76)" opacity="0.85"/>
<circle cx="-0.6" cy="20.1" r="0.71" fill="rgb(157,157,157)" opacity="0.7"/>
<circle cx="0.0" cy="20.4" r="0.78" fill="rgb(157,157,157)" opacity="0.7"/>
<circle cx="76.4" cy="34.9" r="5.5" fill="#dcdcdc" opacity="0.53"/>
<circle cx="76.4" cy="34.9" r="4.9" fill="rgb(165,165,165)"/>
<circle cx="76.4" cy="33.7" r="0.72" fill="rgb(123,123,123)" opacity="0.85"/>
<circle cx="76.2" cy="35.7" r="1.2" fill="rgb(106,106,106)" opacity="0.85"/>
<circle cx="74.1" cy="35.2" r="1.2" fill="rgb(109,109,109)" opacity="0.85"/>
<circle cx="76.8" cy="36.7" r="0.63" fill="rgb(204,204,204)" opacity="0.7"/>
<circle cx="75.8" cy="33.9" r="0.63" fill="rgb(208,208,208)" opacity="0.7"/>
<circle cx="125.3" cy="77.0" r="4.7" fill="#dcdcdc" opacity="0.01"/>
<circle cx="125.3" cy="77.0" r="4.1" fill="rgb(101,101,101)"/>
<circle cx="125.6" cy="78.4" r="1.2" fill="rgb(50,50,50)" opacity="0.85"/>
<circle cx="127.5" cy="77.4" r="1.1" fill="rgb(51,51,51)" opacity="0.85"/>
<circle cx="123.2" cy="77.7" r="0.94" fill="rgb(42,42,42)" opacity="0.85"/>
<circle cx="124.6" cy="76.1" r="0.61" fill="rgb(135,135,135)" opacity="0.7"/>
<circle cx="133.9" cy="65.8" r="4.4" fill="#dcdcdc" opacity="0.17"/>
<circle cx="133.9" cy="65.8" r="3.8" fill="rgb(109,109,109)"/>
<circle cx="132.2" cy="64.7" r="0.95" fill="rgb(60,60,60)" opacity="0.85"/>
<circle cx="135.1" cy="65.6" r="0.72" fill="rgb(75,75,75)" opacity="0.85"/>
<circle cx="132.8" cy="64.7" r="0.95" fill="rgb(59,59,59)" opacity="0.85"/>
<circle cx="135.3" cy="66.2" r="1.3" fill="rgb(68,68,68)" opacity="0.85"/>
<circle cx="132.6" cy="65.6" r="0.97" fill="rgb(134,134,134)" opacity="0.7"/>
<circle cx="133.9" cy="65.7" r="0.65" fill="rgb(140,140,140)" opacity="0.7"/>
<circle cx="92.9" cy="37.2" r="4.9" fill="#dcdcdc" opacity="0.19"/>
<circle cx="92.9" cy="37.2" r="4.3" fill="rgb(101,101,101)"/>
<circle cx="91.4" cy="35.2" r="1.2" fill="rgb(56,56,56)" opacity="0.85"/>
<circle cx="91.1" cy="36.2" r="0.98" fill="rgb(46,46,46)" opacity="0.85"/>
<circle cx="94.8" cy="37.9" r="0.79" fill="rgb(62,62,62)" opacity="0.85"/>
<circle cx="94.3" cy="37.5" r="0.75" fill="rgb(141,141,141)" opacity="0.7"/>
<circle cx="95.3" cy="36.2" r="0.65" fill="rgb(145,145,145)" opacity="0.7"/>
<circle cx="97.4" cy="75.1" r="4.3" fill="#dcdcdc" opacity="0.54"/>
<circle cx="97.4" cy="75.1" r="3.7" fill="rgb(152,152,152)"/>
<circle cx="97.4" cy="74.9" r="1.2" fill="rgb(99,99,99)" opacity="0.85"/>
<circle cx="99.0" cy="74.2" r="1.1" fill="rgb(98,98,98)" opacity="0.85"/>
<circle cx="96.8" cy="74.0" r="0.86" fill="rgb(104,104,104)" opacity="0.85"/>
<circle cx="95.8" cy="74.1" r="0.7" fill="rgb(93,93,93)" opacity="0.85"/>
<circle cx="96.8" cy="74.9" r="0.75" fill="rgb(99,99,99)" opacity="0.85"/>
<circle cx="95.5" cy="75.0" r="1" fill="rgb(185,185,185)" opacity="0.7"/>
<circle cx="99.4" cy="76.0" r="0.76" fill="rgb(186,186,186)" opacity="0.7"/>
<circle cx="1.4" cy="45.2" r="4.3" fill="#dcdcdc" opacity="0.55"/>
<circle cx="1.4" cy="45.2" r="3.7" fill="rgb(118,118,118)"/>
<circle cx="0.1" cy="43.7" r="0.79" fill="rgb(75,75,75)" opacity="0.85"/>
<circle cx="2.3" cy="46.3" r="0.97" fill="rgb(84,84,84)" opacity="0.85"/>
<circle cx="0.5" cy="46.8" r="0.8" fill="rgb(64,64,64)" opacity="0.85"/>
<circle cx="0.6" cy="44.2" r="0.76" fill="rgb(60,60,60)" opacity="0.85"/>
<circle cx="0.2" cy="45.9" r="1.2" fill="rgb(78,78,78)" opacity="0.85"/>
<circle cx="2.2" cy="44.0" r="0.65" fill="rgb(150,150,150)" opacity="0.7"/>
<circle cx="131.1" cy="14.0" r="4.4" fill="#dcdcdc" opacity="0.36"/>
<circle cx="131.1" cy="14.0" r="3.8" fill="rgb(140,140,140)"/>
<circle cx="129.7" cy="12.8" r="1" fill="rgb(81,81,81)" opacity="0.85"/>
<circle cx="131.6" cy="13.6" r="1.2" fill="rgb(103,103,103)" opacity="0.85"/>
<circle cx="132.8" cy="15.0" r="1.1" fill="rgb(92,92,92)" opacity="0.85"/>
<circle cx="132.6" cy="13.9" r="0.75" fill="rgb(87,87,87)" opacity="0.85"/>
<circle cx="132.8" cy="12.8" r="0.89" fill="rgb(106,106,106)" opacity="0.85"/>
<circle cx="132.0" cy="15.7" r="0.88" fill="rgb(180,180,180)" opacity="0.7"/>
<circle cx="49.2" cy="18.7" r="4.5" fill="#dcdcdc" opacity="0.55"/>
<circle cx="49.2" cy="18.7" r="3.9" fill="rgb(145,145,145)"/>
<circle cx="50.6" cy="19.0" r="0.74" fill="rgb(111,111,111)" opacity="0.85"/>
<circle cx="49.4" cy="20.2" r="1.1" fill="rgb(93,93,93)" opacity="0.85"/>
<circle cx="49.2" cy="18.5" r="1.2" fill="rgb(105,105,105)" opacity="0.85"/>
<circle cx="49.8" cy="20.7" r="1.3" fill="rgb(101,101,101)" opacity="0.85"/>
<circle cx="48.1" cy="19.6" r="0.66" fill="rgb(172,172,172)" opacity="0.7"/>
<circle cx="50.2" cy="20.6" r="0.65" fill="rgb(187,187,187)" opacity="0.7"/>
<circle cx="17.0" cy="51.6" r="4.6" fill="#dcdcdc" opacity="0.55"/>
<circle cx="17.0" cy="51.6" r="4" fill="rgb(145,145,145)"/>
<circle cx="17.4" cy="50.6" r="1.2" fill="rgb(86,86,86)" opacity="0.85"/>
<circle cx="19.1" cy="51.7" r="0.73" fill="rgb(101,101,101)" opacity="0.85"/>
<circle cx="17.5" cy="49.9" r="0.71" fill="rgb(108,108,108)" opacity="0.85"/>
<circle cx="17.3" cy="52.7" r="0.93" fill="rgb(103,103,103)" opacity="0.85"/>
<circle cx="16.2" cy="51.8" r="0.6" fill="rgb(180,180,180)" opacity="0.7"/>
<circle cx="85.4" cy="59.8" r="4.5" fill="#dcdcdc" opacity="0.55"/>
<circle cx="85.4" cy="59.8" r="3.9" fill="rgb(155,155,155)"/>
<circle cx="85.9" cy="60.2" r="0.84" fill="rgb(101,101,101)" opacity="0.85"/>
<circle cx="84.0" cy="58.9" r="0.85" fill="rgb(101,101,101)" opacity="0.85"/>
<circle cx="87.2" cy="58.9" r="1.1" fill="rgb(100,100,100)" opacity="0.85"/>
<circle cx="84.1" cy="59.4" r="0.87" fill="rgb(198,198,198)" opacity="0.7"/>
<circle cx="102.3" cy="55.9" r="4.4" fill="#dcdcdc" opacity="0.49"/>
<circle cx="102.3" cy="55.9" r="3.8" fill="rgb(121,121,121)"/>
<circle cx="100.4" cy="55.1" r="1.3" fill="rgb(89,89,89)" opacity="0.85"/>
<circle cx="100.6" cy="55.6" r="0.74" fill="rgb(74,74,74)" opacity="0.85"/>
<circle cx="104.0" cy="56.0" r="1.1" fill="rgb(66,66,66)" opacity="0.85"/>
<circle cx="103.6" cy="55.1" r="0.81" fill="rgb(164,164,164)" opacity="0.7"/>
<circle cx="101.9" cy="58.1" r="0.94" fill="rgb(146,146,146)" opacity="0.7"/>
<circle cx="133.4" cy="78.8" r="4.6" fill="#dcdcdc" opacity="0.19"/>
<circle cx="133.4" cy="78.8" r="4" fill="rgb(105,105,105)"/>
<circle cx="133.5" cy="79.0" r="0.76" fill="rgb(57,57,57)" opacity="0.85"/>
<circle cx="133.7" cy="80.7" r="1.3" fill="rgb(66,66,66)" opacity="0.85"/>
<circle cx="131.9" cy="79.4" r="0.92" fill="rgb(50,50,50)" opacity="0.85"/>
<circle cx="131.5" cy="78.4" r="0.78" fill="rgb(57,57,57)" opacity="0.85"/>
<circle cx="132.7" cy="78.1" r="0.74" fill="rgb(67,67,67)" opacity="0.85"/>
<circle cx="134.2" cy="80.7" r="0.89" fill="rgb(143,143,143)" opacity="0.7"/>
<circle cx="134.7" cy="79.2" r="0.89" fill="rgb(145,145,145)" opacity="0.7"/>
<circle cx="8.1" cy="25.0" r="4.8" fill="#dcdcdc" opacity="0.55"/>
<circle cx="8.1" cy="25.0" r="4.2" fill="rgb(174,174,174)"/>
<circle cx="7.8" cy="23.4" r="1.2" fill="rgb(127,127,127)" opacity="0.85"/>
<circle cx="7.6" cy="25.5" r="0.97" fill="rgb(131,131,131)" opacity="0.85"/>
<circle cx="8.9" cy="25.7" r="1.3" fill="rgb(126,126,126)" opacity="0.85"/>
<circle cx="8.9" cy="25.5" r="0.85" fill="rgb(216,216,216)" opacity="0.7"/>
<circle cx="118.4" cy="98.2" r="4.6" fill="#dcdcdc" opacity="0.42"/>
<circle cx="118.4" cy="98.2" r="4" fill="rgb(121,121,121)"/>
<circle cx="120.3" cy="97.0" r="0.72" fill="rgb(85,85,85)" opacity="0.85"/>
<circle cx="119.6" cy="100.3" r="0.93" fill="rgb(90,90,90)" opacity="0.85"/>
<circle cx="117.1" cy="97.7" r="0.79" fill="rgb(65,65,65)" opacity="0.85"/>
<circle cx="119.7" cy="97.8" r="0.71" fill="rgb(152,152,152)" opacity="0.7"/>
<circle cx="120.0" cy="96.7" r="0.78" fill="rgb(150,150,150)" opacity="0.7"/>
<circle cx="92.4" cy="95.6" r="4.3" fill="#dcdcdc" opacity="0.55"/>
<circle cx="92.4" cy="95.6" r="3.7" fill="rgb(152,152,152)"/>
<circle cx="91.3" cy="96.2" r="1.3" fill="rgb(117,117,117)" opacity="0.85"/>
<circle cx="90.4" cy="94.8" r="0.91" fill="rgb(108,108,108)" opacity="0.85"/>
<circle cx="93.1" cy="94.3" r="0.79" fill="rgb(100,100,100)" opacity="0.85"/>
<circle cx="91.3" cy="96.4" r="1" fill="rgb(112,112,112)" opacity="0.85"/>
<circle cx="91.3" cy="94.0" r="0.9" fill="rgb(98,98,98)" opacity="0.85"/>
<circle cx="93.5" cy="95.6" r="0.68" fill="rgb(187,187,187)" opacity="0.7"/>
<circle cx="-2.2" cy="93.8" r="5" fill="#dcdcdc" opacity="0.55"/>
<circle cx="-2.2" cy="93.8" r="4.4" fill="rgb(122,122,122)"/>
<circle cx="0.4" cy="93.6" r="1.1" fill="rgb(73,73,73)" opacity="0.85"/>
<circle cx="-0.9" cy="95.3" r="0.85" fill="rgb(84,84,84)" opacity="0.85"/>
<circle cx="-2.3" cy="93.3" r="1.2" fill="rgb(75,75,75)" opacity="0.85"/>
<circle cx="-2.1" cy="93.4" r="0.99" fill="rgb(150,150,150)" opacity="0.7"/>
<circle cx="-2.7" cy="92.6" r="0.7" fill="rgb(150,150,150)" opacity="0.7"/>
<circle cx="104.5" cy="100.2" r="5.4" fill="#dcdcdc" opacity="0.55"/>
<circle cx="104.5" cy="100.2" r="4.8" fill="rgb(122,122,122)"/>
<circle cx="102.6" cy="100.8" r="1.2" fill="rgb(83,83,83)" opacity="0.85"/>
<circle cx="104.2" cy="101.1" r="0.78" fill="rgb(86,86,86)" opacity="0.85"/>
<circle cx="103.6" cy="99.5" r="0.78" fill="rgb(89,89,89)" opacity="0.85"/>
<circle cx="105.0" cy="102.6" r="0.95" fill="rgb(162,162,162)" opacity="0.7"/>
<circle cx="104.5" cy="98.8" r="0.7" fill="rgb(166,166,166)" opacity="0.7"/>
<circle cx="69.3" cy="73.2" r="4.4" fill="#dcdcdc" opacity="0.06"/>
<circle cx="69.3" cy="73.2" r="3.8" fill="rgb(129,129,129)"/>
<circle cx="70.6" cy="75.1" r="0.72" fill="rgb(82,82,82)" opacity="0.85"/>
<circle cx="71.6" cy="72.9" r="0.9" fill="rgb(80,80,80)" opacity="0.85"/>
<circle cx="70.3" cy="71.5" r="0.91" fill="rgb(87,87,87)" opacity="0.85"/>
<circle cx="69.3" cy="71.1" r="0.76" fill="rgb(154,154,154)" opacity="0.7"/>
<circle cx="68.5" cy="73.2" r="0.95" fill="rgb(169,169,169)" opacity="0.7"/>
<circle cx="112.1" cy="37.1" r="4.4" fill="#dcdcdc" opacity="0.38"/>
<circle cx="112.1" cy="37.1" r="3.8" fill="rgb(142,142,142)"/>
<circle cx="114.2" cy="36.5" r="0.86" fill="rgb(101,101,101)" opacity="0.85"/>
<circle cx="112.9" cy="38.2" r="1.1" fill="rgb(90,90,90)" opacity="0.85"/>
<circle cx="113.1" cy="35.6" r="1" fill="rgb(93,93,93)" opacity="0.85"/>
<circle cx="112.5" cy="35.1" r="0.84" fill="rgb(107,107,107)" opacity="0.85"/>
<circle cx="113.6" cy="35.9" r="0.91" fill="rgb(106,106,106)" opacity="0.85"/>
<circle cx="111.9" cy="35.5" r="0.72" fill="rgb(178,178,178)" opacity="0.7"/>
<circle cx="19.4" cy="66.7" r="4.6" fill="#dcdcdc" opacity="0.55"/>
<circle cx="19.4" cy="66.7" r="4" fill="rgb(133,133,133)"/>
<circle cx="21.5" cy="66.8" r="1.2" fill="rgb(89,89,89)" opacity="0.85"/>
<circle cx="18.1" cy="67.8" r="1.2" fill="rgb(95,95,95)" opacity="0.85"/>
<circle cx="20.3" cy="66.5" r="1.3" fill="rgb(81,81,81)" opacity="0.85"/>
<circle cx="21.7" cy="66.4" r="0.89" fill="rgb(73,73,73)" opacity="0.85"/>
<circle cx="19.3" cy="65.2" r="1" fill="rgb(82,82,82)" opacity="0.85"/>
<circle cx="17.8" cy="65.5" r="0.72" fill="rgb(174,174,174)" opacity="0.7"/>
<circle cx="17.1" cy="67.4" r="0.91" fill="rgb(163,163,163)" opacity="0.7"/>
<circle cx="126.2" cy="1.0" r="4.4" fill="#dcdcdc" opacity="0.55"/>
<circle cx="126.2" cy="1.0" r="3.8" fill="rgb(128,128,128)"/>
<circle cx="124.1" cy="1.8" r="1.3" fill="rgb(91,91,91)" opacity="0.85"/>
<circle cx="124.9" cy="1.1" r="0.78" fill="rgb(83,83,83)" opacity="0.85"/>
<circle cx="125.1" cy="-0.5" r="0.96" fill="rgb(90,90,90)" opacity="0.85"/>
<circle cx="127.4" cy="0.8" r="0.97" fill="rgb(95,95,95)" opacity="0.85"/>
<circle cx="124.2" cy="2.0" r="0.99" fill="rgb(95,95,95)" opacity="0.85"/>
<circle cx="125.9" cy="-1.0" r="0.6" fill="rgb(172,172,172)" opacity="0.7"/>
<circle cx="85.2" cy="85.4" r="5.3" fill="#dcdcdc" opacity="0.55"/>
<circle cx="85.2" cy="85.4" r="4.7" fill="rgb(135,135,135)"/>
<circle cx="82.5" cy="84.8" r="1.3" fill="rgb(93,93,93)" opacity="0.85"/>
<circle cx="86.3" cy="83.2" r="0.79" fill="rgb(95,95,95)" opacity="0.85"/>
<circle cx="83.5" cy="83.7" r="1.1" fill="rgb(103,103,103)" opacity="0.85"/>
<circle cx="84.4" cy="84.5" r="1.3" fill="rgb(91,91,91)" opacity="0.85"/>
<circle cx="85.9" cy="86.3" r="0.67" fill="rgb(178,178,178)" opacity="0.7"/>
<circle cx="87.0" cy="84.3" r="0.92" fill="rgb(173,173,173)" opacity="0.7"/>
<circle cx="102.6" cy="-0.3" r="4.8" fill="#dcdcdc" opacity="0.55"/>
<circle cx="102.6" cy="-0.3" r="4.2" fill="rgb(117,117,117)"/>
<circle cx="103.9" cy="-0.3" r="0.79" fill="rgb(70,70,70)" opacity="0.85"/>
<circle cx="101.9" cy="0.5" r="0.93" fill="rgb(69,69,69)" opacity="0.85"/>
<circle cx="103.5" cy="-1.8" r="1.1" fill="rgb(73,73,73)" opacity="0.85"/>
<circle cx="102.7" cy="-2.4" r="0.85" fill="rgb(80,80,80)" opacity="0.85"/>
<circle cx="101.6" cy="1.3" r="0.88" fill="rgb(152,152,152)" opacity="0.7"/>
<circle cx="118.5" cy="58.0" r="4.3" fill="#dcdcdc" opacity="0.03"/>
<circle cx="118.5" cy="58.0" r="3.7" fill="rgb(107,107,107)"/>
<circle cx="119.6" cy="59.1" r="0.89" fill="rgb(47,47,47)" opacity="0.85"/>
<circle cx="118.1" cy="57.6" r="0.87" fill="rgb(59,59,59)" opacity="0.85"/>
<circle cx="119.8" cy="57.3" r="1.3" fill="rgb(74,74,74)" opacity="0.85"/>
<circle cx="118.3" cy="56.6" r="1.2" fill="rgb(70,70,70)" opacity="0.85"/>
<circle cx="117.6" cy="56.8" r="0.85" fill="rgb(74,74,74)" opacity="0.85"/>
<circle cx="119.6" cy="59.0" r="0.8" fill="rgb(150,150,150)" opacity="0.7"/>
<circle cx="116.9" cy="56.6" r="0.76" fill="rgb(145,145,145)" opacity="0.7"/>
<circle cx="19.7" cy="8.0" r="4.7" fill="#dcdcdc" opacity="0.55"/>
<circle cx="19.7" cy="8.0" r="4.1" fill="rgb(147,147,147)"/>
<circle cx="20.8" cy="8.4" r="0.75" fill="rgb(98,98,98)" opacity="0.85"/>
<circle cx="20.2" cy="6.9" r="1.1" fill="rgb(100,100,100)" opacity="0.85"/>
<circle cx="19.8" cy="7.4" r="1.1" fill="rgb(95,95,95)" opacity="0.85"/>
<circle cx="19.4" cy="6.6" r="0.62" fill="rgb(179,179,179)" opacity="0.7"/>
<circle cx="121.4" cy="63.7" r="4.4" fill="#dcdcdc" opacity="0.00"/>
<circle cx="121.4" cy="63.7" r="3.8" fill="rgb(96,96,96)"/>
<circle cx="119.4" cy="64.2" r="1.2" fill="rgb(61,61,61)" opacity="0.85"/>
<circle cx="121.8" cy="62.7" r="1.1" fill="rgb(38,38,38)" opacity="0.85"/>
<circle cx="121.3" cy="64.0" r="1.3" fill="rgb(62,62,62)" opacity="0.85"/>
<circle cx="121.0" cy="63.9" r="1" fill="rgb(61,61,61)" opacity="0.85"/>
<circle cx="120.8" cy="62.7" r="0.73" fill="rgb(123,123,123)" opacity="0.7"/>
<circle cx="80.2" cy="-0.9" r="4.7" fill="#dcdcdc" opacity="0.55"/>
<circle cx="80.2" cy="-0.9" r="4.1" fill="rgb(115,115,115)"/>
<circle cx="81.3" cy="-0.4" r="0.88" fill="rgb(66,66,66)" opacity="0.85"/>
<circle cx="78.4" cy="0.1" r="0.8" fill="rgb(74,74,74)" opacity="0.85"/>
<circle cx="78.6" cy="0.9" r="1.2" fill="rgb(68,68,68)" opacity="0.85"/>
<circle cx="79.2" cy="0.1" r="0.78" fill="rgb(75,75,75)" opacity="0.85"/>
<circle cx="80.6" cy="-3.1" r="0.86" fill="rgb(83,83,83)" opacity="0.85"/>
<circle cx="80.5" cy="-1.4" r="0.61" fill="rgb(140,140,140)" opacity="0.7"/>
<circle cx="81.1" cy="-2.6" r="0.67" fill="rgb(152,152,152)" opacity="0.7"/>
<circle cx="90.5" cy="24.3" r="4.6" fill="#dcdcdc" opacity="0.00"/>
<circle cx="90.5" cy="24.3" r="4" fill="rgb(97,97,97)"/>
<circle cx="88.2" cy="24.8" r="1.2" fill="rgb(40,40,40)" opacity="0.85"/>
<circle cx="90.7" cy="26.1" r="1.2" fill="rgb(59,59,59)" opacity="0.85"/>
<circle cx="91.3" cy="24.5" r="1.1" fill="rgb(58,58,58)" opacity="0.85"/>
<circle cx="89.5" cy="22.6" r="0.94" fill="rgb(37,37,37)" opacity="0.85"/>
<circle cx="89.3" cy="24.3" r="1" fill="rgb(52,52,52)" opacity="0.85"/>
<circle cx="91.2" cy="25.8" r="0.96" fill="rgb(126,126,126)" opacity="0.7"/>
<circle cx="56.4" cy="32.2" r="4.3" fill="#dcdcdc" opacity="0.55"/>
<circle cx="56.4" cy="32.2" r="3.7" fill="rgb(116,116,116)"/>
<circle cx="58.4" cy="31.7" r="1.1" fill="rgb(79,79,79)" opacity="0.85"/>
<circle cx="56.7" cy="34.4" r="1" fill="rgb(82,82,82)" opacity="0.85"/>
<circle cx="58.2" cy="32.1" r="0.79" fill="rgb(80,80,80)" opacity="0.85"/>
<circle cx="57.8" cy="32.2" r="0.88" fill="rgb(159,159,159)" opacity="0.7"/>
<circle cx="14.3" cy="11.8" r="4.4" fill="#dcdcdc" opacity="0.55"/>
<circle cx="14.3" cy="11.8" r="3.8" fill="rgb(131,131,131)"/>
<circle cx="13.1" cy="12.2" r="1.2" fill="rgb(90,90,90)" opacity="0.85"/>
<circle cx="14.4" cy="12.3" r="0.94" fill="rgb(81,81,81)" opacity="0.85"/>
<circle cx="14.4" cy="11.1" r="1.3" fill="rgb(85,85,85)" opacity="0.85"/>
<circle cx="13.4" cy="10.7" r="1.1" fill="rgb(100,100,100)" opacity="0.85"/>
<circle cx="13.4" cy="13.5" r="0.98" fill="rgb(164,164,164)" opacity="0.7"/>
<circle cx="30.6" cy="50.0" r="4.4" fill="#dcdcdc" opacity="0.55"/>
<circle cx="30.6" cy="50.0" r="3.8" fill="rgb(141,141,141)"/>
<circle cx="28.5" cy="49.5" r="0.88" fill="rgb(107,107,107)" opacity="0.85"/>
<circle cx="28.6" cy="50.9" r="0.79" fill="rgb(97,97,97)" opacity="0.85"/>
<circle cx="31.6" cy="50.7" r="0.89" fill="rgb(81,81,81)" opacity="0.85"/>
<circle cx="29.2" cy="48.8" r="0.82" fill="rgb(89,89,89)" opacity="0.85"/>
<circle cx="32.3" cy="49.6" r="0.82" fill="rgb(109,109,109)" opacity="0.85"/>
<circle cx="30.5" cy="49.2" r="0.93" fill="rgb(185,185,185)" opacity="0.7"/>
</g>
<ellipse cx="94" cy="26" rx="15" ry="14" fill="#000" opacity="0.52" filter="url(#blur4)"/>
<ellipse cx="121" cy="70" rx="17" ry="26" fill="#000" opacity="0.52" filter="url(#blur4)"/>
<ellipse cx="65" cy="80" rx="13" ry="14" fill="#000" opacity="0.52" filter="url(#blur4)"/>
<ellipse cx="24" cy="51" rx="4" ry="4" fill="#000" opacity="0.47" filter="url(#blur4)"/>
<ellipse cx="131" cy="35" rx="8" ry="12" fill="#000" opacity="0.31" filter="url(#blur4)"/>
<ellipse cx="108" cy="38" rx="6" ry="6" fill="#000" opacity="0.21" filter="url(#blur4)"/>
<ellipse cx="40" cy="12" rx="9" ry="7" fill="#000" opacity="0.16" filter="url(#blur4)"/>
<ellipse cx="128" cy="12" rx="6" ry="6" fill="#000" opacity="0.21" filter="url(#blur4)"/>
<circle cx="74.0" cy="14.0" r="7" fill="#fff" opacity="0.28" filter="url(#blur4)"/>
<circle cx="78.0" cy="32.0" r="7" fill="#fff" opacity="0.28" filter="url(#blur4)"/>
<circle cx="97.0" cy="50.0" r="7" fill="#fff" opacity="0.24" filter="url(#blur4)"/>
<circle cx="10.0" cy="32.0" r="9" fill="#fff" opacity="0.32" filter="url(#blur4)"/>
<circle cx="6.0" cy="55.0" r="6" fill="#fff" opacity="0.28" filter="url(#blur4)"/>
<circle cx="45.0" cy="60.0" r="6" fill="#fff" opacity="0.10" filter="url(#blur4)"/>
<circle cx="20.0" cy="80.0" r="6" fill="#fff" opacity="0.10" filter="url(#blur4)"/>
<circle cx="92.0" cy="75.0" r="6" fill="#fff" opacity="0.14" filter="url(#blur4)"/>
<circle cx="40.0" cy="35.0" r="5" fill="#fff" opacity="0.14" filter="url(#blur4)"/>
<rect x="2.5" y="4" width="133.5" height="92.5" filter="url(#noise)" opacity="0.14" style="mix-blend-mode:overlay"/>
</g>
<rect x="0" y="0" width="29" height="21.5" fill="#fff" stroke="none" stroke-width="0.8" />
<text x="6.8" y="17.3" font-size="11" fill="#111" stroke="#111" stroke-width="0.3" font-family='"Liberation Sans", sans-serif'>(a)</text>
<rect x="2.7" y="86.4" width="22" height="10.4" fill="#fff" stroke="none" stroke-width="0.8" />
<text x="3.5" y="92.6" font-size="7" font-weight="bold" fill="#000" text-anchor="start" font-family='"Liberation Serif", serif' textLength="19" lengthAdjust="spacingAndGlyphs">200nm</text>
<rect x="3" y="94.6" width="20" height="1.5" fill="#000" stroke="none" stroke-width="0.8" />
<g clip-path="url(#clipB)">
<rect x="3" y="99.3" width="132.5" height="89.3" fill="#bfbfbf" stroke="none" stroke-width="0.8" />
<path d="M15,127 C17,116 28,109 42,107.5 C54,106.5 64,107 72,110.5 C80,115 84,122 87,131 C90,138 91,143 90,148 C88,156 82,162 72,166 C62,170 50,171 40,168 C32,166 26,162 22,156 C18,149 15,140 15,133 Z" fill="#ececec" stroke="#e8e8e8" stroke-width="2.6" filter="url(#blur05)"/>
<path d="M28,98 L69,98 C68,103 62,106 55,106.5 C47,107 40,106.5 33,110 L28,114 Z" fill="#ececec" stroke="#e8e8e8" stroke-width="2.6" filter="url(#blur05)"/>
<path d="M56,190 C56,180 58,170 62,163 C68,156 78,149 90,146.5 C98,146 104,147 108,151 C112,155 114,160 116,166 C119,173 121,181 122,190 Z" fill="#ececec" stroke="#e8e8e8" stroke-width="2.6" filter="url(#blur05)"/>
<path d="M2,142 C8,140 15,141 19,146 C23,152 24,160 24,170 L24,190 L2,190 Z" fill="#ececec" stroke="#e8e8e8" stroke-width="2.6" filter="url(#blur05)"/>
<path d="M15,127 C17,116 28,109 42,107.5 C54,106.5 64,107 72,110.5 C80,115 84,122 87,131 C90,138 91,143 90,148 C88,156 82,162 72,166 C62,170 50,171 40,168 C32,166 26,162 22,156 C18,149 15,140 15,133 Z" fill="#5c5c5c" stroke="none" stroke-width="0.8" filter="url(#blur05)"/>
<path d="M28,98 L69,98 C68,103 62,106 55,106.5 C47,107 40,106.5 33,110 L28,114 Z" fill="#5c5c5c" stroke="none" stroke-width="0.8" filter="url(#blur05)"/>
<path d="M56,190 C56,180 58,170 62,163 C68,156 78,149 90,146.5 C98,146 104,147 108,151 C112,155 114,160 116,166 C119,173 121,181 122,190 Z" fill="#5c5c5c" stroke="none" stroke-width="0.8" filter="url(#blur05)"/>
<path d="M2,142 C8,140 15,141 19,146 C23,152 24,160 24,170 L24,190 L2,190 Z" fill="#5c5c5c" stroke="none" stroke-width="0.8" filter="url(#blur05)"/>
<g clip-path="url(#clipBp)">
<g filter="url(#blur15)">
<circle cx="-1.5" cy="98.0" r="4.6" fill="rgb(166,166,166)"/>
<circle cx="11.7" cy="98.8" r="5.1" fill="rgb(157,157,157)"/>
<circle cx="24.0" cy="98.7" r="4.4" fill="rgb(141,141,141)"/>
<circle cx="33.6" cy="96.9" r="4.9" fill="rgb(168,168,168)"/>
<circle cx="49.8" cy="97.6" r="4.5" fill="rgb(151,151,151)"/>
<circle cx="62.1" cy="95.5" r="5" fill="rgb(151,151,151)"/>
<circle cx="72.9" cy="96.0" r="5.4" fill="rgb(142,142,142)"/>
<circle cx="85.7" cy="97.3" r="4.4" fill="rgb(154,154,154)"/>
<circle cx="96.1" cy="95.9" r="4.3" fill="rgb(148,148,148)"/>
<circle cx="109.6" cy="98.7" r="4.8" fill="rgb(151,151,151)"/>
<circle cx="124.1" cy="95.6" r="4.7" fill="rgb(142,142,142)"/>
<circle cx="3.7" cy="106.6" r="4.7" fill="rgb(162,162,162)"/>
<circle cx="15.5" cy="106.5" r="4.9" fill="rgb(144,144,144)"/>
<circle cx="25.5" cy="109.5" r="5.1" fill="rgb(155,155,155)"/>
<circle cx="38.8" cy="106.9" r="4.2" fill="rgb(163,163,163)"/>
<circle cx="54.4" cy="109.5" r="5.3" fill="rgb(165,165,165)"/>
<circle cx="64.2" cy="109.8" r="5.2" fill="rgb(166,166,166)"/>
<circle cx="77.7" cy="108.7" r="5.4" fill="rgb(163,163,163)"/>
<circle cx="88.8" cy="109.8" r="4.3" fill="rgb(159,159,159)"/>
<circle cx="103.3" cy="109.9" r="4.6" fill="rgb(172,172,172)"/>
<circle cx="116.6" cy="107.2" r="5.3" fill="rgb(158,158,158)"/>
<circle cx="-2.6" cy="117.7" r="4.7" fill="rgb(148,148,148)"/>
<circle cx="9.1" cy="117.3" r="4.8" fill="rgb(163,163,163)"/>
<circle cx="22.2" cy="119.4" r="4.9" fill="rgb(150,150,150)"/>
<circle cx="33.5" cy="119.7" r="5.3" fill="rgb(170,170,170)"/>
<circle cx="47.4" cy="118.2" r="4.9" fill="rgb(148,148,148)"/>
<circle cx="61.8" cy="118.9" r="5.2" fill="rgb(162,162,162)"/>
<circle cx="72.3" cy="118.9" r="4.7" fill="rgb(140,140,140)"/>
<circle cx="86.3" cy="117.2" r="4.9" fill="rgb(160,160,160)"/>
<circle cx="99.9" cy="117.1" r="4.6" fill="rgb(149,149,149)"/>
<circle cx="111.5" cy="120.4" r="4.7" fill="rgb(164,164,164)"/>
<circle cx="121.1" cy="120.2" r="4.8" fill="rgb(154,154,154)"/>
<circle cx="2.0" cy="130.3" r="5.4" fill="rgb(170,170,170)"/>
<circle cx="13.0" cy="128.2" r="4.7" fill="rgb(164,164,164)"/>
<circle cx="26.2" cy="131.8" r="4.9" fill="rgb(150,150,150)"/>
<circle cx="38.8" cy="131.0" r="5.1" fill="rgb(156,156,156)"/>
<circle cx="54.2" cy="131.8" r="4.8" fill="rgb(159,159,159)"/>
<circle cx="64.4" cy="129.4" r="4.2" fill="rgb(166,166,166)"/>
<circle cx="77.6" cy="131.1" r="4.8" fill="rgb(159,159,159)"/>
<circle cx="88.4" cy="131.0" r="4.4" fill="rgb(158,158,158)"/>
<circle cx="103.7" cy="131.4" r="4.3" fill="rgb(141,141,141)"/>
<circle cx="113.1" cy="131.8" r="4.5" fill="rgb(168,168,168)"/>
<circle cx="-3.6" cy="140.4" r="5.1" fill="rgb(142,142,142)"/>
<circle cx="10.9" cy="142.7" r="4.2" fill="rgb(165,165,165)"/>
<circle cx="22.4" cy="142.7" r="4.5" fill="rgb(157,157,157)"/>
<circle cx="35.7" cy="140.2" r="5.1" fill="rgb(170,170,170)"/>
<circle cx="47.3" cy="139.7" r="4.8" fill="rgb(155,155,155)"/>
<circle cx="58.8" cy="139.6" r="5.1" fill="rgb(149,149,149)"/>
<circle cx="73.8" cy="143.0" r="4.6" fill="rgb(158,158,158)"/>
<circle cx="84.1" cy="139.2" r="4.8" fill="rgb(170,170,170)"/>
<circle cx="99.9" cy="141.1" r="4.2" fill="rgb(147,147,147)"/>
<circle cx="110.1" cy="139.9" r="4.6" fill="rgb(148,148,148)"/>
<circle cx="123.4" cy="142.3" r="4.9" fill="rgb(161,161,161)"/>
<circle cx="2.3" cy="151.7" r="4.8" fill="rgb(141,141,141)"/>
<circle cx="13.2" cy="153.7" r="5" fill="rgb(163,163,163)"/>
<circle cx="25.6" cy="152.0" r="4.2" fill="rgb(148,148,148)"/>
<circle cx="41.4" cy="150.5" r="4.9" fill="rgb(156,156,156)"/>
<circle cx="53.4" cy="153.8" r="5.3" fill="rgb(146,146,146)"/>
<circle cx="65.5" cy="153.2" r="4.2" fill="rgb(152,152,152)"/>
<circle cx="75.9" cy="151.7" r="4.9" fill="rgb(167,167,167)"/>
<circle cx="88.6" cy="153.4" r="5.2" fill="rgb(170,170,170)"/>
<circle cx="101.7" cy="151.8" r="4.8" fill="rgb(164,164,164)"/>
<circle cx="117.0" cy="153.4" r="5.3" fill="rgb(152,152,152)"/>
<circle cx="-0.1" cy="162.8" r="5.2" fill="rgb(169,169,169)"/>
<circle cx="10.5" cy="163.9" r="4.6" fill="rgb(144,144,144)"/>
<circle cx="22.9" cy="162.2" r="5" fill="rgb(140,140,140)"/>
<circle cx="35.1" cy="161.6" r="4.9" fill="rgb(167,167,167)"/>
<circle cx="47.5" cy="165.0" r="5.3" fill="rgb(170,170,170)"/>
<circle cx="62.3" cy="163.5" r="4.4" fill="rgb(149,149,149)"/>
<circle cx="73.0" cy="162.4" r="5.4" fill="rgb(171,171,171)"/>
<circle cx="83.9" cy="162.1" r="4.7" fill="rgb(149,149,149)"/>
<circle cx="99.1" cy="164.5" r="4.3" fill="rgb(143,143,143)"/>
<circle cx="109.9" cy="164.1" r="4.5" fill="rgb(154,154,154)"/>
<circle cx="124.1" cy="163.8" r="5.2" fill="rgb(145,145,145)"/>
<circle cx="3.2" cy="175.0" r="4.6" fill="rgb(141,141,141)"/>
<circle cx="14.5" cy="174.8" r="5.4" fill="rgb(167,167,167)"/>
<circle cx="26.6" cy="173.9" r="5" fill="rgb(165,165,165)"/>
<circle cx="41.1" cy="174.8" r="4.3" fill="rgb(143,143,143)"/>
<circle cx="51.7" cy="175.8" r="4.5" fill="rgb(147,147,147)"/>
<circle cx="65.6" cy="174.3" r="5.1" fill="rgb(147,147,147)"/>
<circle cx="75.5" cy="174.2" r="5.4" fill="rgb(148,148,148)"/>
<circle cx="89.0" cy="174.7" r="4.4" fill="rgb(168,168,168)"/>
<circle cx="102.4" cy="175.3" r="4.7" fill="rgb(151,151,151)"/>
<circle cx="115.6" cy="175.2" r="4.3" fill="rgb(150,150,150)"/>
<circle cx="-2.6" cy="185.6" r="4.3" fill="rgb(153,153,153)"/>
<circle cx="11.5" cy="186.3" r="5" fill="rgb(146,146,146)"/>
<circle cx="22.4" cy="186.4" r="4.5" fill="rgb(144,144,144)"/>
<circle cx="37.0" cy="185.8" r="5.1" fill="rgb(147,147,147)"/>
<circle cx="49.9" cy="186.8" r="4.2" fill="rgb(148,148,148)"/>
<circle cx="60.6" cy="185.1" r="4.6" fill="rgb(145,145,145)"/>
<circle cx="71.7" cy="186.3" r="4.8" fill="rgb(171,171,171)"/>
<circle cx="87.2" cy="184.9" r="5.3" fill="rgb(163,163,163)"/>
<circle cx="98.8" cy="185.9" r="5" fill="rgb(148,148,148)"/>
<circle cx="111.4" cy="183.7" r="4.9" fill="rgb(149,149,149)"/>
<circle cx="124.1" cy="185.3" r="4.5" fill="rgb(172,172,172)"/>
</g>
<path d="M15,127 C17,116 28,109 42,107.5 C54,106.5 64,107 72,110.5 C80,115 84,122 87,131 C90,138 91,143 90,148 C88,156 82,162 72,166 C62,170 50,171 40,168 C32,166 26,162 22,156 C18,149 15,140 15,133 Z" fill="none" stroke="#3a3a3a" stroke-width="3" filter="url(#blur1)" opacity="0.8"/>
<path d="M28,98 L69,98 C68,103 62,106 55,106.5 C47,107 40,106.5 33,110 L28,114 Z" fill="none" stroke="#3a3a3a" stroke-width="3" filter="url(#blur1)" opacity="0.8"/>
<path d="M56,190 C56,180 58,170 62,163 C68,156 78,149 90,146.5 C98,146 104,147 108,151 C112,155 114,160 116,166 C119,173 121,181 122,190 Z" fill="none" stroke="#3a3a3a" stroke-width="3" filter="url(#blur1)" opacity="0.8"/>
<path d="M2,142 C8,140 15,141 19,146 C23,152 24,160 24,170 L24,190 L2,190 Z" fill="none" stroke="#3a3a3a" stroke-width="3" filter="url(#blur1)" opacity="0.8"/>
<rect x="3" y="99" width="133" height="90" filter="url(#noiseB)" opacity="0.1" style="mix-blend-mode:overlay"/>
</g>
</g>
<rect x="0" y="98" width="28" height="17.8" fill="#fff" stroke="none" stroke-width="0.8" />
<text x="6.9" y="112" font-size="11" fill="#111" stroke="#111" stroke-width="0.3" font-family='"Liberation Sans", sans-serif'>(b)</text>
<rect x="3" y="178" width="21" height="11" fill="#fff" stroke="none" stroke-width="0.8" />
<text x="4.5" y="184.6" font-size="6.2" font-weight="bold" fill="#000" text-anchor="start" font-family='"Liberation Serif", serif' textLength="16" lengthAdjust="spacingAndGlyphs">20nm</text>
<rect x="4.5" y="186.3" width="17" height="1.3" fill="#000" stroke="none" stroke-width="0.8" />
<text x="145.8" y="17.1" font-size="11" fill="#111" stroke="#111" stroke-width="0.3" font-family='"Liberation Sans", sans-serif'>(c)</text>
<rect x="181.3" y="8" width="106.19999999999999" height="79" fill="none" stroke="#555" stroke-width="0.7" />
<line x1="181.3" y1="86.5" x2="179.8" y2="86.5" stroke="#000" stroke-width="0.6" />
<text x="178.8" y="88.0" font-size="4" font-weight="bold" fill="#000" text-anchor="end" font-family='"Liberation Sans", sans-serif' >0</text>
<line x1="181.3" y1="68.4" x2="179.8" y2="68.4" stroke="#000" stroke-width="0.6" />
<text x="178.8" y="69.9" font-size="4" font-weight="bold" fill="#000" text-anchor="end" font-family='"Liberation Sans", sans-serif' >30</text>
<line x1="181.3" y1="50.3" x2="179.8" y2="50.3" stroke="#000" stroke-width="0.6" />
<text x="178.8" y="51.8" font-size="4" font-weight="bold" fill="#000" text-anchor="end" font-family='"Liberation Sans", sans-serif' >60</text>
<line x1="181.3" y1="32.199999999999996" x2="179.8" y2="32.199999999999996" stroke="#000" stroke-width="0.6" />
<text x="178.8" y="33.699999999999996" font-size="4" font-weight="bold" fill="#000" text-anchor="end" font-family='"Liberation Sans", sans-serif' >90</text>
<line x1="181.3" y1="14.099999999999994" x2="179.8" y2="14.099999999999994" stroke="#000" stroke-width="0.6" />
<text x="178.8" y="15.599999999999994" font-size="4" font-weight="bold" fill="#000" text-anchor="end" font-family='"Liberation Sans", sans-serif' >120</text>
<line x1="181.5" y1="87" x2="181.5" y2="88.5" stroke="#000" stroke-width="0.6" />
<text x="181.5" y="92" font-size="4" font-weight="bold" fill="#000" text-anchor="middle" font-family='"Liberation Sans", sans-serif' >0</text>
<line x1="206.7" y1="87" x2="206.7" y2="88.5" stroke="#000" stroke-width="0.6" />
<text x="206.7" y="92" font-size="4" font-weight="bold" fill="#000" text-anchor="middle" font-family='"Liberation Sans", sans-serif' >10</text>
<line x1="231.9" y1="87" x2="231.9" y2="88.5" stroke="#000" stroke-width="0.6" />
<text x="231.9" y="92" font-size="4" font-weight="bold" fill="#000" text-anchor="middle" font-family='"Liberation Sans", sans-serif' >20</text>
<line x1="257.1" y1="87" x2="257.1" y2="88.5" stroke="#000" stroke-width="0.6" />
<text x="257.1" y="92" font-size="4" font-weight="bold" fill="#000" text-anchor="middle" font-family='"Liberation Sans", sans-serif' >30</text>
<line x1="282.3" y1="87" x2="282.3" y2="88.5" stroke="#000" stroke-width="0.6" />
<text x="282.3" y="92" font-size="4" font-weight="bold" fill="#000" text-anchor="middle" font-family='"Liberation Sans", sans-serif' >40</text>
<text x="230" y="100.3" font-size="5.1" font-weight="bold" fill="#000" text-anchor="middle" font-family='"Liberation Sans", sans-serif' >Cycle Number</text>
<text x="169" y="49" font-size="5.1" font-weight="bold" fill="#000" text-anchor="middle" font-family='"Liberation Sans", sans-serif' transform="rotate(-90 169 49)" textLength="62" lengthAdjust="spacingAndGlyphs">Specific Capacity (mAh/g)</text>
<circle cx="184.0" cy="17.6" r="1.2" fill="#2222cc"/>
<circle cx="184.0" cy="21.8" r="1.3" fill="#ee1111"/>
<circle cx="184.0" cy="51.2" r="1.3" fill="#111"/>
<circle cx="186.5" cy="17.6" r="1.2" fill="#2222cc"/>
<circle cx="186.5" cy="21.8" r="1.3" fill="#ee1111"/>
<circle cx="186.5" cy="51.2" r="1.3" fill="#111"/>
<circle cx="189.1" cy="17.6" r="1.2" fill="#2222cc"/>
<circle cx="189.1" cy="21.8" r="1.3" fill="#ee1111"/>
<circle cx="189.1" cy="51.2" r="1.3" fill="#111"/>
<circle cx="191.6" cy="17.6" r="1.2" fill="#2222cc"/>
<circle cx="191.6" cy="21.8" r="1.3" fill="#ee1111"/>
<circle cx="191.6" cy="51.2" r="1.3" fill="#111"/>
<circle cx="194.1" cy="17.6" r="1.2" fill="#2222cc"/>
<circle cx="194.1" cy="21.8" r="1.3" fill="#ee1111"/>
<circle cx="194.1" cy="51.2" r="1.3" fill="#111"/>
<circle cx="196.6" cy="17.6" r="1.2" fill="#2222cc"/>
<circle cx="196.6" cy="23.6" r="1.3" fill="#ee1111"/>
<circle cx="196.6" cy="53.6" r="1.3" fill="#111"/>
<circle cx="199.1" cy="17.6" r="1.2" fill="#2222cc"/>
<circle cx="199.1" cy="23.6" r="1.3" fill="#ee1111"/>
<circle cx="199.1" cy="53.6" r="1.3" fill="#111"/>
<circle cx="201.7" cy="17.6" r="1.2" fill="#2222cc"/>
<circle cx="201.7" cy="23.6" r="1.3" fill="#ee1111"/>
<circle cx="201.7" cy="53.6" r="1.3" fill="#111"/>
<circle cx="204.2" cy="17.6" r="1.2" fill="#2222cc"/>
<circle cx="204.2" cy="23.6" r="1.3" fill="#ee1111"/>
<circle cx="204.2" cy="53.6" r="1.3" fill="#111"/>
<circle cx="206.7" cy="17.6" r="1.2" fill="#2222cc"/>
<circle cx="206.7" cy="23.6" r="1.3" fill="#ee1111"/>
<circle cx="206.7" cy="53.6" r="1.3" fill="#111"/>
<circle cx="209.2" cy="17.8" r="1.2" fill="#2222cc"/>
<circle cx="209.2" cy="25.0" r="1.3" fill="#ee1111"/>
<circle cx="209.2" cy="57.8" r="1.3" fill="#111"/>
<circle cx="211.7" cy="17.8" r="1.2" fill="#2222cc"/>
<circle cx="211.7" cy="25.0" r="1.3" fill="#ee1111"/>
<circle cx="211.7" cy="57.8" r="1.3" fill="#111"/>
<circle cx="214.3" cy="17.8" r="1.2" fill="#2222cc"/>
<circle cx="214.3" cy="25.0" r="1.3" fill="#ee1111"/>
<circle cx="214.3" cy="57.8" r="1.3" fill="#111"/>
<circle cx="216.8" cy="17.8" r="1.2" fill="#2222cc"/>
<circle cx="216.8" cy="25.0" r="1.3" fill="#ee1111"/>
<circle cx="216.8" cy="57.8" r="1.3" fill="#111"/>
<circle cx="219.3" cy="17.8" r="1.2" fill="#2222cc"/>
<circle cx="219.3" cy="25.0" r="1.3" fill="#ee1111"/>
<circle cx="219.3" cy="57.8" r="1.3" fill="#111"/>
<circle cx="221.8" cy="18.0" r="1.2" fill="#2222cc"/>
<circle cx="221.8" cy="28.8" r="1.3" fill="#ee1111"/>
<circle cx="221.8" cy="62.0" r="1.3" fill="#111"/>
<circle cx="224.3" cy="18.0" r="1.2" fill="#2222cc"/>
<circle cx="224.3" cy="28.8" r="1.3" fill="#ee1111"/>
<circle cx="224.3" cy="62.0" r="1.3" fill="#111"/>
<circle cx="226.9" cy="18.0" r="1.2" fill="#2222cc"/>
<circle cx="226.9" cy="28.8" r="1.3" fill="#ee1111"/>
<circle cx="226.9" cy="62.0" r="1.3" fill="#111"/>
<circle cx="229.4" cy="18.0" r="1.2" fill="#2222cc"/>
<circle cx="229.4" cy="28.8" r="1.3" fill="#ee1111"/>
<circle cx="229.4" cy="62.0" r="1.3" fill="#111"/>
<circle cx="231.9" cy="18.0" r="1.2" fill="#2222cc"/>
<circle cx="231.9" cy="28.8" r="1.3" fill="#ee1111"/>
<circle cx="231.9" cy="62.0" r="1.3" fill="#111"/>
<circle cx="234.4" cy="18.2" r="1.2" fill="#2222cc"/>
<circle cx="234.4" cy="33.0" r="1.3" fill="#ee1111"/>
<circle cx="234.4" cy="65.2" r="1.3" fill="#111"/>
<circle cx="236.9" cy="18.2" r="1.2" fill="#2222cc"/>
<circle cx="236.9" cy="33.0" r="1.3" fill="#ee1111"/>
<circle cx="236.9" cy="65.2" r="1.3" fill="#111"/>
<circle cx="239.5" cy="18.2" r="1.2" fill="#2222cc"/>
<circle cx="239.5" cy="33.0" r="1.3" fill="#ee1111"/>
<circle cx="239.5" cy="65.2" r="1.3" fill="#111"/>
<circle cx="242.0" cy="18.2" r="1.2" fill="#2222cc"/>
<circle cx="242.0" cy="33.0" r="1.3" fill="#ee1111"/>
<circle cx="242.0" cy="65.2" r="1.3" fill="#111"/>
<circle cx="244.5" cy="18.2" r="1.2" fill="#2222cc"/>
<circle cx="244.5" cy="33.0" r="1.3" fill="#ee1111"/>
<circle cx="244.5" cy="65.2" r="1.3" fill="#111"/>
<circle cx="247.0" cy="18.5" r="1.2" fill="#2222cc"/>
<circle cx="247.0" cy="38.8" r="1.3" fill="#ee1111"/>
<circle cx="247.0" cy="67.8" r="1.3" fill="#111"/>
<circle cx="249.5" cy="18.5" r="1.2" fill="#2222cc"/>
<circle cx="249.5" cy="38.8" r="1.3" fill="#ee1111"/>
<circle cx="249.5" cy="67.8" r="1.3" fill="#111"/>
<circle cx="252.1" cy="18.5" r="1.2" fill="#2222cc"/>
<circle cx="252.1" cy="38.8" r="1.3" fill="#ee1111"/>
<circle cx="252.1" cy="67.8" r="1.3" fill="#111"/>
<circle cx="254.6" cy="18.5" r="1.2" fill="#2222cc"/>
<circle cx="254.6" cy="38.8" r="1.3" fill="#ee1111"/>
<circle cx="254.6" cy="67.8" r="1.3" fill="#111"/>
<circle cx="257.1" cy="18.5" r="1.2" fill="#2222cc"/>
<circle cx="257.1" cy="38.8" r="1.3" fill="#ee1111"/>
<circle cx="257.1" cy="67.8" r="1.3" fill="#111"/>
<circle cx="259.6" cy="19.2" r="1.2" fill="#2222cc"/>
<circle cx="259.6" cy="43.2" r="1.3" fill="#ee1111"/>
<circle cx="259.6" cy="70.0" r="1.3" fill="#111"/>
<circle cx="262.1" cy="19.2" r="1.2" fill="#2222cc"/>
<circle cx="262.1" cy="43.2" r="1.3" fill="#ee1111"/>
<circle cx="262.1" cy="70.0" r="1.3" fill="#111"/>
<circle cx="264.7" cy="19.2" r="1.2" fill="#2222cc"/>
<circle cx="264.7" cy="43.2" r="1.3" fill="#ee1111"/>
<circle cx="264.7" cy="70.0" r="1.3" fill="#111"/>
<circle cx="267.2" cy="19.2" r="1.2" fill="#2222cc"/>
<circle cx="267.2" cy="43.2" r="1.3" fill="#ee1111"/>
<circle cx="267.2" cy="70.0" r="1.3" fill="#111"/>
<circle cx="269.7" cy="19.2" r="1.2" fill="#2222cc"/>
<circle cx="269.7" cy="43.2" r="1.3" fill="#ee1111"/>
<circle cx="269.7" cy="70.0" r="1.3" fill="#111"/>
<circle cx="272.2" cy="18.6" r="1.2" fill="#2222cc"/>
<circle cx="272.2" cy="22.3" r="1.3" fill="#ee1111"/>
<circle cx="272.2" cy="51.2" r="1.3" fill="#111"/>
<circle cx="274.7" cy="18.6" r="1.2" fill="#2222cc"/>
<circle cx="274.7" cy="22.4" r="1.3" fill="#ee1111"/>
<circle cx="274.7" cy="51.8" r="1.3" fill="#111"/>
<circle cx="277.3" cy="18.6" r="1.2" fill="#2222cc"/>
<circle cx="277.3" cy="22.5" r="1.3" fill="#ee1111"/>
<circle cx="277.3" cy="52.4" r="1.3" fill="#111"/>
<circle cx="279.8" cy="18.6" r="1.2" fill="#2222cc"/>
<circle cx="279.8" cy="22.7" r="1.3" fill="#ee1111"/>
<circle cx="279.8" cy="53.0" r="1.3" fill="#111"/>
<circle cx="282.3" cy="18.6" r="1.2" fill="#2222cc"/>
<circle cx="282.3" cy="22.8" r="1.3" fill="#ee1111"/>
<circle cx="282.3" cy="53.6" r="1.3" fill="#111"/>
<circle cx="284.8" cy="18.6" r="1.2" fill="#2222cc"/>
<circle cx="284.8" cy="22.9" r="1.3" fill="#ee1111"/>
<circle cx="284.8" cy="54.2" r="1.3" fill="#111"/>
<text x="189" y="15.15" font-size="4.6" font-weight="bold" fill="#000" text-anchor="middle" font-family='"Liberation Sans", sans-serif' >0.5 C</text>
<text x="202" y="14.95" font-size="4.6" font-weight="bold" fill="#000" text-anchor="middle" font-family='"Liberation Sans", sans-serif' >1 C</text>
<text x="214" y="15.65" font-size="4.6" font-weight="bold" fill="#000" text-anchor="middle" font-family='"Liberation Sans", sans-serif' >2 C</text>
<text x="226.5" y="16.25" font-size="4.6" font-weight="bold" fill="#000" text-anchor="middle" font-family='"Liberation Sans", sans-serif' >5 C</text>
<text x="239.5" y="16.65" font-size="4.6" font-weight="bold" fill="#000" text-anchor="middle" font-family='"Liberation Sans", sans-serif' >10 C</text>
<text x="252" y="16.65" font-size="4.6" font-weight="bold" fill="#000" text-anchor="middle" font-family='"Liberation Sans", sans-serif' >20 C</text>
<text x="263.5" y="17.25" font-size="4.6" font-weight="bold" fill="#000" text-anchor="middle" font-family='"Liberation Sans", sans-serif' >30 C</text>
<text x="280" y="15.95" font-size="4.6" font-weight="bold" fill="#000" text-anchor="middle" font-family='"Liberation Sans", sans-serif' >0.5 C</text>
<rect x="184" y="66" width="35.5" height="18.7" fill="#fff" stroke="#bbb" stroke-width="0.5" />
<circle cx="192.0" cy="69.3" r="1.3" fill="#111"/>
<text x="197" y="70.89999999999999" font-size="4.4" font-weight="bold" fill="#000" text-anchor="start" font-family='"Liberation Sans", sans-serif' >NTP</text>
<circle cx="192.0" cy="75.6" r="1.3" fill="#ee1111"/>
<text x="197" y="77.19999999999999" font-size="4.4" font-weight="bold" fill="#000" text-anchor="start" font-family='"Liberation Sans", sans-serif' >NTP@C-1</text>
<circle cx="192.0" cy="81.9" r="1.3" fill="#2222cc"/>
<text x="197" y="83.49999999999999" font-size="4.4" font-weight="bold" fill="#000" text-anchor="start" font-family='"Liberation Sans", sans-serif' >NTP@C-2</text>
<text x="226.3" y="75.8" font-size="5.4" font-weight="bold" fill="#000" text-anchor="start" font-family='"Liberation Sans", sans-serif' >25</text>
<text x="232.8" y="74.6" font-size="4.2" font-weight="bold" fill="#000" text-anchor="start" font-family='"Liberation Sans", sans-serif' >°C</text>
<rect x="181" y="105.2" width="107" height="78.3" fill="none" stroke="#c8c8c8" stroke-width="0.5" />
<line x1="181" y1="105.2" x2="181" y2="183.5" stroke="#333" stroke-width="0.6" />
<line x1="181" y1="183.5" x2="288" y2="183.5" stroke="#333" stroke-width="0.6" />
<line x1="181" y1="177.0" x2="179.5" y2="177.0" stroke="#000" stroke-width="0.5" />
<text x="178.5" y="178.3" font-size="3.6" font-weight="bold" fill="#000" text-anchor="end" font-family='"Liberation Sans", sans-serif' >0</text>
<line x1="181" y1="165.3" x2="179.5" y2="165.3" stroke="#000" stroke-width="0.5" />
<text x="178.5" y="166.60000000000002" font-size="3.6" font-weight="bold" fill="#000" text-anchor="end" font-family='"Liberation Sans", sans-serif' >20</text>
<line x1="181" y1="153.6" x2="179.5" y2="153.6" stroke="#000" stroke-width="0.5" />
<text x="178.5" y="154.9" font-size="3.6" font-weight="bold" fill="#000" text-anchor="end" font-family='"Liberation Sans", sans-serif' >40</text>
<line x1="181" y1="141.9" x2="179.5" y2="141.9" stroke="#000" stroke-width="0.5" />
<text x="178.5" y="143.20000000000002" font-size="3.6" font-weight="bold" fill="#000" text-anchor="end" font-family='"Liberation Sans", sans-serif' >60</text>
<line x1="181" y1="130.2" x2="179.5" y2="130.2" stroke="#000" stroke-width="0.5" />
<text x="178.5" y="131.5" font-size="3.6" font-weight="bold" fill="#000" text-anchor="end" font-family='"Liberation Sans", sans-serif' >80</text>
<line x1="181" y1="118.5" x2="179.5" y2="118.5" stroke="#000" stroke-width="0.5" />
<text x="178.5" y="119.8" font-size="3.6" font-weight="bold" fill="#000" text-anchor="end" font-family='"Liberation Sans", sans-serif' >100</text>
<line x1="181" y1="106.80000000000001" x2="179.5" y2="106.80000000000001" stroke="#000" stroke-width="0.5" />
<text x="178.5" y="108.10000000000001" font-size="3.6" font-weight="bold" fill="#000" text-anchor="end" font-family='"Liberation Sans", sans-serif' >120</text>
<line x1="181.3" y1="183.5" x2="181.3" y2="184.8" stroke="#000" stroke-width="0.5" />
<text x="181.3" y="188.8" font-size="3.6" font-weight="bold" fill="#000" text-anchor="middle" font-family='"Liberation Sans", sans-serif' >0</text>
<line x1="202.38" y1="183.5" x2="202.38" y2="184.8" stroke="#000" stroke-width="0.5" />
<text x="202.38" y="188.8" font-size="3.6" font-weight="bold" fill="#000" text-anchor="middle" font-family='"Liberation Sans", sans-serif' >4</text>
<line x1="223.46" y1="183.5" x2="223.46" y2="184.8" stroke="#000" stroke-width="0.5" />
<text x="223.46" y="188.8" font-size="3.6" font-weight="bold" fill="#000" text-anchor="middle" font-family='"Liberation Sans", sans-serif' >8</text>
<line x1="244.54000000000002" y1="183.5" x2="244.54000000000002" y2="184.8" stroke="#000" stroke-width="0.5" />
<text x="244.54000000000002" y="188.8" font-size="3.6" font-weight="bold" fill="#000" text-anchor="middle" font-family='"Liberation Sans", sans-serif' >12</text>
<line x1="265.62" y1="183.5" x2="265.62" y2="184.8" stroke="#000" stroke-width="0.5" />
<text x="265.62" y="188.8" font-size="3.6" font-weight="bold" fill="#000" text-anchor="middle" font-family='"Liberation Sans", sans-serif' >16</text>
<line x1="286.7" y1="183.5" x2="286.7" y2="184.8" stroke="#000" stroke-width="0.5" />
<text x="286.7" y="188.8" font-size="3.6" font-weight="bold" fill="#000" text-anchor="middle" font-family='"Liberation Sans", sans-serif' >20</text>
<text x="228.4" y="197.3" font-size="5.1" font-weight="bold" fill="#000" text-anchor="middle" font-family='"Liberation Sans", sans-serif' >Cycle Number</text>
<text x="169" y="145" font-size="4.6" font-weight="bold" fill="#000" text-anchor="middle" font-family='"Liberation Sans", sans-serif' transform="rotate(-90 169 145)" >Charge Specific Capacity (mAh/g)</text>
<path d="M184.87,117.90 L188.27,117.90 L186.57,114.90 Z" fill="#1a1aaa" stroke="none" stroke-width="0.8" />
<circle cx="186.6" cy="124.6" r="1.5" fill="#dd1111"/>
<rect x="185.27" y="153.39999999999998" width="2.6" height="2.6" fill="#111" stroke="none" stroke-width="0.8" />
<path d="M190.14,117.90 L193.54,117.90 L191.84,114.90 Z" fill="#1a1aaa" stroke="none" stroke-width="0.8" />
<circle cx="191.8" cy="124.6" r="1.5" fill="#dd1111"/>
<rect x="190.54" y="153.39999999999998" width="2.6" height="2.6" fill="#111" stroke="none" stroke-width="0.8" />
<path d="M195.41,117.90 L198.81,117.90 L197.11,114.90 Z" fill="#1a1aaa" stroke="none" stroke-width="0.8" />
<circle cx="197.1" cy="124.6" r="1.5" fill="#dd1111"/>
<rect x="195.81" y="151.29999999999998" width="2.6" height="2.6" fill="#111" stroke="none" stroke-width="0.8" />
<path d="M200.68,116.00 L204.08,116.00 L202.38,113.00 Z" fill="#1a1aaa" stroke="none" stroke-width="0.8" />
<circle cx="202.4" cy="124.6" r="1.5" fill="#dd1111"/>
<rect x="201.07999999999998" y="153.89999999999998" width="2.6" height="2.6" fill="#111" stroke="none" stroke-width="0.8" />
<path d="M205.95,116.00 L209.35,116.00 L207.65,113.00 Z" fill="#1a1aaa" stroke="none" stroke-width="0.8" />
<circle cx="207.7" cy="124.6" r="1.5" fill="#dd1111"/>
<rect x="206.35" y="153.89999999999998" width="2.6" height="2.6" fill="#111" stroke="none" stroke-width="0.8" />
<path d="M211.22,116.00 L214.62,116.00 L212.92,113.00 Z" fill="#1a1aaa" stroke="none" stroke-width="0.8" />
<circle cx="212.9" cy="124.6" r="1.5" fill="#dd1111"/>
<rect x="211.62" y="153.89999999999998" width="2.6" height="2.6" fill="#111" stroke="none" stroke-width="0.8" />
<path d="M216.49,116.00 L219.89,116.00 L218.19,113.00 Z" fill="#1a1aaa" stroke="none" stroke-width="0.8" />
<circle cx="218.2" cy="125.7" r="1.5" fill="#dd1111"/>
<rect x="216.89" y="155.7" width="2.6" height="2.6" fill="#111" stroke="none" stroke-width="0.8" />
<path d="M221.76,116.00 L225.16,116.00 L223.46,113.00 Z" fill="#1a1aaa" stroke="none" stroke-width="0.8" />
<circle cx="223.5" cy="125.7" r="1.5" fill="#dd1111"/>
<rect x="222.16" y="155.7" width="2.6" height="2.6" fill="#111" stroke="none" stroke-width="0.8" />
<path d="M227.03,116.00 L230.43,116.00 L228.73,113.00 Z" fill="#1a1aaa" stroke="none" stroke-width="0.8" />
<circle cx="228.7" cy="125.7" r="1.5" fill="#dd1111"/>
<rect x="227.43" y="155.7" width="2.6" height="2.6" fill="#111" stroke="none" stroke-width="0.8" />
<path d="M232.30,116.00 L235.70,116.00 L234.00,113.00 Z" fill="#1a1aaa" stroke="none" stroke-width="0.8" />
<circle cx="234.0" cy="128.4" r="1.5" fill="#dd1111"/>
<rect x="232.7" y="158.29999999999998" width="2.6" height="2.6" fill="#111" stroke="none" stroke-width="0.8" />
<path d="M237.57,116.00 L240.97,116.00 L239.27,113.00 Z" fill="#1a1aaa" stroke="none" stroke-width="0.8" />
<circle cx="239.3" cy="128.4" r="1.5" fill="#dd1111"/>
<rect x="237.97" y="158.29999999999998" width="2.6" height="2.6" fill="#111" stroke="none" stroke-width="0.8" />
<path d="M242.84,116.00 L246.24,116.00 L244.54,113.00 Z" fill="#1a1aaa" stroke="none" stroke-width="0.8" />
<circle cx="244.5" cy="128.4" r="1.5" fill="#dd1111"/>
<rect x="243.24" y="158.29999999999998" width="2.6" height="2.6" fill="#111" stroke="none" stroke-width="0.8" />
<path d="M248.11,117.60 L251.51,117.60 L249.81,114.60 Z" fill="#1a1aaa" stroke="none" stroke-width="0.8" />
<circle cx="249.8" cy="136.1" r="1.5" fill="#dd1111"/>
<rect x="248.51" y="164.39999999999998" width="2.6" height="2.6" fill="#111" stroke="none" stroke-width="0.8" />
<path d="M253.38,117.60 L256.78,117.60 L255.08,114.60 Z" fill="#1a1aaa" stroke="none" stroke-width="0.8" />
<circle cx="255.1" cy="136.1" r="1.5" fill="#dd1111"/>
<rect x="253.78" y="164.39999999999998" width="2.6" height="2.6" fill="#111" stroke="none" stroke-width="0.8" />
<path d="M258.65,117.60 L262.05,117.60 L260.35,114.60 Z" fill="#1a1aaa" stroke="none" stroke-width="0.8" />
<circle cx="260.4" cy="136.1" r="1.5" fill="#dd1111"/>
<rect x="259.05" y="164.39999999999998" width="2.6" height="2.6" fill="#111" stroke="none" stroke-width="0.8" />
<path d="M263.92,122.40 L267.32,122.40 L265.62,119.40 Z" fill="#1a1aaa" stroke="none" stroke-width="0.8" />
<circle cx="265.6" cy="146.7" r="1.5" fill="#dd1111"/>
<rect x="264.32" y="175.7" width="2.6" height="2.6" fill="#111" stroke="none" stroke-width="0.8" />
<path d="M269.19,120.00 L272.59,120.00 L270.89,117.00 Z" fill="#1a1aaa" stroke="none" stroke-width="0.8" />
<circle cx="270.9" cy="146.7" r="1.5" fill="#dd1111"/>
<rect x="269.59" y="175.7" width="2.6" height="2.6" fill="#111" stroke="none" stroke-width="0.8" />
<path d="M274.46,121.30 L277.86,121.30 L276.16,118.30 Z" fill="#1a1aaa" stroke="none" stroke-width="0.8" />
<circle cx="276.2" cy="146.7" r="1.5" fill="#dd1111"/>
<rect x="274.85999999999996" y="175.7" width="2.6" height="2.6" fill="#111" stroke="none" stroke-width="0.8" />
<path d="M279.73,141.80 L283.13,141.80 L281.43,138.80 Z" fill="#1a1aaa" stroke="none" stroke-width="0.8" />
<rect x="280.13" y="175.7" width="2.6" height="2.6" fill="#6b5320" stroke="none" stroke-width="0.8" />
<path d="M285.00,145.80 L288.40,145.80 L286.70,142.80 Z" fill="#1a1aaa" stroke="none" stroke-width="0.8" />
<rect x="285.4" y="175.7" width="2.6" height="2.6" fill="#4a3a20" stroke="none" stroke-width="0.8" />
<text x="192" y="112.3" font-size="3.6" font-weight="bold" fill="#222" text-anchor="middle" font-family='"Liberation Sans", sans-serif' >0.2C</text>
<text x="203.6" y="110.89999999999999" font-size="3.6" font-weight="bold" fill="#222" text-anchor="middle" font-family='"Liberation Sans", sans-serif' >0.5C</text>
<text x="217.5" y="111.3" font-size="3.6" font-weight="bold" fill="#222" text-anchor="middle" font-family='"Liberation Sans", sans-serif' >1C</text>
<text x="238.5" y="111.5" font-size="3.6" font-weight="bold" fill="#222" text-anchor="middle" font-family='"Liberation Sans", sans-serif' >2C</text>
<text x="255.5" y="113.6" font-size="3.6" font-weight="bold" fill="#222" text-anchor="middle" font-family='"Liberation Sans", sans-serif' >5C</text>
<text x="273.4" y="116.3" font-size="3.6" font-weight="bold" fill="#222" text-anchor="middle" font-family='"Liberation Sans", sans-serif' >10C</text>
<text x="283.8" y="136.4" font-size="3.6" font-weight="bold" fill="#222" text-anchor="middle" font-family='"Liberation Sans", sans-serif' >20C</text>
<rect x="187.4" y="164.6" width="28" height="14.6" fill="#fff" stroke="#bbb" stroke-width="0.5" />
<rect x="191.2" y="166.2" width="2.6" height="2.6" fill="#111" stroke="none" stroke-width="0.8" />
<circle cx="192.5" cy="172.1" r="1.4" fill="#6b5a2a"/>
<path d="M190.8,177.9 L194.2,177.9 L192.5,175 Z" fill="#1a1aaa" stroke="none" stroke-width="0.8" />
<text x="198" y="168.8" font-size="3.5" font-weight="bold" fill="#222" text-anchor="start" font-family='"Liberation Sans", sans-serif' >NTP</text>
<text x="198" y="173.35000000000002" font-size="3.5" font-weight="bold" fill="#222" text-anchor="start" font-family='"Liberation Sans", sans-serif' >NTP@C-1</text>
<text x="198" y="177.9" font-size="3.5" font-weight="bold" fill="#222" text-anchor="start" font-family='"Liberation Sans", sans-serif' >NTP@C-2</text>
<text x="224" y="175.2" font-size="4.9" font-weight="bold" fill="#000" text-anchor="start" font-family='"Liberation Sans", sans-serif' >−20 °C</text>
<text x="305.9" y="17.1" font-size="11" fill="#111" stroke="#111" stroke-width="0.3" font-family='"Liberation Sans", sans-serif'>(d)</text>
<rect x="333" y="14.5" width="84" height="70.1" fill="none" stroke="#333" stroke-width="0.6" />
<line x1="333" y1="77.0" x2="331.7" y2="77.0" stroke="#000" stroke-width="0.5" />
<text x="330.8" y="78.2" font-size="3.9" font-weight="bold" fill="#000" text-anchor="end" font-family='"Liberation Serif", serif' >0</text>
<line x1="333" y1="63.099999999999994" x2="331.7" y2="63.099999999999994" stroke="#000" stroke-width="0.5" />
<text x="330.8" y="64.3" font-size="3.9" font-weight="bold" fill="#000" text-anchor="end" font-family='"Liberation Serif", serif' >40</text>
<line x1="333" y1="49.199999999999996" x2="331.7" y2="49.199999999999996" stroke="#000" stroke-width="0.5" />
<text x="330.8" y="50.4" font-size="3.9" font-weight="bold" fill="#000" text-anchor="end" font-family='"Liberation Serif", serif' >80</text>
<line x1="333" y1="35.3" x2="331.7" y2="35.3" stroke="#000" stroke-width="0.5" />
<text x="330.8" y="36.5" font-size="3.9" font-weight="bold" fill="#000" text-anchor="end" font-family='"Liberation Serif", serif' >120</text>
<line x1="333" y1="21.39999999999999" x2="331.7" y2="21.39999999999999" stroke="#000" stroke-width="0.5" />
<text x="330.8" y="22.59999999999999" font-size="3.9" font-weight="bold" fill="#000" text-anchor="end" font-family='"Liberation Serif", serif' >160</text>
<line x1="417" y1="84.6" x2="418.3" y2="84.6" stroke="#000" stroke-width="0.5" />
<text x="419.5" y="85.8" font-size="3.9" font-weight="bold" fill="#000" text-anchor="start" font-family='"Liberation Serif", serif' >0</text>
<line x1="417" y1="71.8" x2="418.3" y2="71.8" stroke="#000" stroke-width="0.5" />
<text x="419.5" y="73.0" font-size="3.9" font-weight="bold" fill="#000" text-anchor="start" font-family='"Liberation Serif", serif' >20</text>
<line x1="417" y1="58.99999999999999" x2="418.3" y2="58.99999999999999" stroke="#000" stroke-width="0.5" />
<text x="419.5" y="60.199999999999996" font-size="3.9" font-weight="bold" fill="#000" text-anchor="start" font-family='"Liberation Serif", serif' >40</text>
<line x1="417" y1="46.199999999999996" x2="418.3" y2="46.199999999999996" stroke="#000" stroke-width="0.5" />
<text x="419.5" y="47.4" font-size="3.9" font-weight="bold" fill="#000" text-anchor="start" font-family='"Liberation Serif", serif' >60</text>
<line x1="417" y1="33.39999999999999" x2="418.3" y2="33.39999999999999" stroke="#000" stroke-width="0.5" />
<text x="419.5" y="34.599999999999994" font-size="3.9" font-weight="bold" fill="#000" text-anchor="start" font-family='"Liberation Serif", serif' >80</text>
<line x1="417" y1="20.599999999999994" x2="418.3" y2="20.599999999999994" stroke="#000" stroke-width="0.5" />
<text x="419.5" y="21.799999999999994" font-size="3.9" font-weight="bold" fill="#000" text-anchor="start" font-family='"Liberation Serif", serif' >100</text>
<line x1="349.6" y1="84.6" x2="349.6" y2="83.3" stroke="#000" stroke-width="0.5" />
<text x="349.6" y="90.8" font-size="3.9" font-weight="bold" fill="#000" text-anchor="middle" font-family='"Liberation Serif", serif' >100</text>
<line x1="366.6" y1="84.6" x2="366.6" y2="83.3" stroke="#000" stroke-width="0.5" />
<text x="366.6" y="90.8" font-size="3.9" font-weight="bold" fill="#000" text-anchor="middle" font-family='"Liberation Serif", serif' >200</text>
<line x1="383.6" y1="84.6" x2="383.6" y2="83.3" stroke="#000" stroke-width="0.5" />
<text x="383.6" y="90.8" font-size="3.9" font-weight="bold" fill="#000" text-anchor="middle" font-family='"Liberation Serif", serif' >300</text>
<line x1="400.6" y1="84.6" x2="400.6" y2="83.3" stroke="#000" stroke-width="0.5" />
<text x="400.6" y="90.8" font-size="3.9" font-weight="bold" fill="#000" text-anchor="middle" font-family='"Liberation Serif", serif' >400</text>
<line x1="417.6" y1="84.6" x2="417.6" y2="83.3" stroke="#000" stroke-width="0.5" />
<text x="417.6" y="90.8" font-size="3.9" font-weight="bold" fill="#000" text-anchor="middle" font-family='"Liberation Serif", serif' >500</text>
<text x="370.5" y="101.2" font-size="5.0" font-weight="bold" fill="#000" text-anchor="middle" font-family='"Liberation Sans", sans-serif' >Cycle Number</text>
<text x="322.6" y="50.6" font-size="4.8" font-weight="bold" fill="#000" text-anchor="middle" font-family='"Liberation Sans", sans-serif' transform="rotate(-90 322.6 50.6)" textLength="32.5" lengthAdjust="spacingAndGlyphs">Capacity (mAh/g)</text>
<polyline points="333.50,20.68 334.20,20.56 334.90,20.91 335.60,20.50 336.30,20.83 337.00,20.71 337.70,20.49 338.40,20.81 339.10,20.48 339.80,20.75 340.50,20.50 341.20,20.51 341.90,20.75 342.60,21.03 343.30,20.54 344.00,20.61 344.70,20.89 345.40,21.11 346.10,20.85 346.80,20.73 347.50,21.13 348.20,20.48 348.90,21.05 349.60,20.65 350.30,20.55 351.00,20.53 351.70,20.67 352.40,21.02 353.10,20.58 353.80,20.86 354.50,20.90 355.20,20.71 355.90,20.83 356.60,20.49 357.30,20.49 358.00,20.59 358.70,20.93 359.40,20.75 360.10,20.67 360.80,20.86 361.50,20.77 362.20,20.66 362.90,21.01 363.60,20.94 364.30,20.62 365.00,20.85 365.70,20.82 366.40,21.06 367.10,20.96 367.80,20.65 368.50,21.14 369.20,20.53 369.90,20.74 370.60,20.98 371.30,20.56 372.00,20.79 372.70,20.48 373.40,20.92 374.10,20.99 374.80,20.85 375.50,21.06 376.20,20.67 376.90,20.94 377.60,20.87 378.30,20.86 379.00,20.77 379.70,21.04 380.40,21.11 381.10,20.78 381.80,20.91 382.50,20.49 383.20,20.94 383.90,20.90 384.60,21.15 385.30,21.03 386.00,20.65 386.70,20.72 387.40,20.92 388.10,20.47 388.80,20.77 389.50,20.57 390.20,20.53 390.90,20.49 391.60,20.99 392.30,20.54 393.00,20.62 393.70,20.72 394.40,21.06 395.10,20.51 395.80,20.76 396.50,20.83 397.20,21.07 397.90,21.02 398.60,21.05 399.30,20.64 400.00,20.74 400.70,20.70 401.40,21.07 402.10,21.12 402.80,20.56 403.50,20.57 404.20,20.61 404.90,20.61 405.60,20.79 406.30,20.86 407.00,20.63 407.70,20.45 408.40,20.74 409.10,20.71 409.80,20.85 410.50,21.12 411.20,20.93 411.90,20.81 412.60,20.88 413.30,20.92 414.00,20.49 414.70,21.08 415.40,21.00" fill="none" stroke="#ee1010" stroke-width="3.6" />
<polyline points="333.50,42.90 350.00,43.90 370.00,45.10 395.00,46.60 416.50,47.80" fill="none" stroke="#1a2418" stroke-width="1.5" />
<polyline points="333.50,45.80 350.00,46.50 370.00,47.30 395.00,48.40 416.50,49.30" fill="none" stroke="#f07820" stroke-width="2.0" />
<polyline points="333.50,48.00 370.00,49.20 416.50,50.50" fill="none" stroke="#f6d890" stroke-width="0.8" />
<polyline points="333.50,52.90 416.50,53.20" fill="none" stroke="#108a78" stroke-width="1.8" />
<text x="354.8" y="30.2" font-size="4.9" font-weight="bold" fill="#222" text-anchor="middle" font-family='"Liberation Serif", serif' >50 °C</text>
<text x="372.8" y="33.6" font-size="4.9" font-weight="bold" fill="#e08a00" text-anchor="middle" font-family='"Liberation Serif", serif' >25 °C</text>
<text x="391" y="35.8" font-size="4.9" font-weight="bold" fill="#109a90" text-anchor="middle" font-family='"Liberation Serif", serif' >−20 °C</text>
<line x1="354.5" y1="32" x2="354.5" y2="39.8" stroke="#e01010" stroke-width="1.6" />
<path d="M352.7,39.199999999999996 L356.3,39.199999999999996 L354.5,41.8 Z" fill="#e01010" stroke="none" stroke-width="0.8" />
<line x1="373" y1="35" x2="373" y2="39.8" stroke="#e01010" stroke-width="1.6" />
<path d="M371.2,39.199999999999996 L374.8,39.199999999999996 L373,41.8 Z" fill="#e01010" stroke="none" stroke-width="0.8" />
<line x1="393" y1="36.8" x2="393" y2="39.8" stroke="#e01010" stroke-width="1.6" />
<path d="M391.2,39.199999999999996 L394.8,39.199999999999996 L393,41.8 Z" fill="#e01010" stroke="none" stroke-width="0.8" />
<path d="M399.8,23.8 L399.8,32 L413.5,32" fill="none" stroke="#e01010" stroke-width="0.7" />
<path d="M412.5,30.6 L415.5,32 L412.5,33.4 Z" fill="#e01010" stroke="none" stroke-width="0.8" />
<text x="349.2" y="67.9" font-size="4.7" font-weight="bold" fill="#000" text-anchor="start" font-family='"Liberation Serif", serif' >Capacity retention</text>
<text x="392.2" y="61.2" font-size="5" font-weight="bold" fill="#222" text-anchor="start" font-family='"Liberation Serif", serif' >83%</text>
<text x="392.2" y="67.6" font-size="5" font-weight="bold" fill="#e08a00" text-anchor="start" font-family='"Liberation Serif", serif' >87%</text>
<text x="392.2" y="73.9" font-size="5" font-weight="bold" fill="#109a90" text-anchor="start" font-family='"Liberation Serif", serif' >100%</text>
<text x="336.8" y="75.8" font-size="5" font-weight="bold" fill="#000" text-anchor="start" font-family='"Liberation Serif", serif' >10 C</text>
<rect x="442.3" y="14.8" width="84.40000000000003" height="70.9" fill="none" stroke="#333" stroke-width="0.6" />
<line x1="442.3" y1="85.5" x2="441.0" y2="85.5" stroke="#000" stroke-width="0.5" />
<text x="440.1" y="86.7" font-size="3.9" font-weight="bold" fill="#000" text-anchor="end" font-family='"Liberation Serif", serif' >0</text>
<line x1="442.3" y1="76.7" x2="441.0" y2="76.7" stroke="#000" stroke-width="0.5" />
<text x="440.1" y="77.9" font-size="3.9" font-weight="bold" fill="#000" text-anchor="end" font-family='"Liberation Serif", serif' >20</text>
<line x1="442.3" y1="67.9" x2="441.0" y2="67.9" stroke="#000" stroke-width="0.5" />
<text x="440.1" y="69.10000000000001" font-size="3.9" font-weight="bold" fill="#000" text-anchor="end" font-family='"Liberation Serif", serif' >40</text>
<line x1="442.3" y1="59.1" x2="441.0" y2="59.1" stroke="#000" stroke-width="0.5" />
<text x="440.1" y="60.300000000000004" font-size="3.9" font-weight="bold" fill="#000" text-anchor="end" font-family='"Liberation Serif", serif' >60</text>
<line x1="442.3" y1="50.3" x2="441.0" y2="50.3" stroke="#000" stroke-width="0.5" />
<text x="440.1" y="51.5" font-size="3.9" font-weight="bold" fill="#000" text-anchor="end" font-family='"Liberation Serif", serif' >80</text>
<line x1="442.3" y1="41.5" x2="441.0" y2="41.5" stroke="#000" stroke-width="0.5" />
<text x="440.1" y="42.7" font-size="3.9" font-weight="bold" fill="#000" text-anchor="end" font-family='"Liberation Serif", serif' >100</text>
<line x1="442.3" y1="32.7" x2="441.0" y2="32.7" stroke="#000" stroke-width="0.5" />
<text x="440.1" y="33.900000000000006" font-size="3.9" font-weight="bold" fill="#000" text-anchor="end" font-family='"Liberation Serif", serif' >120</text>
<line x1="442.3" y1="23.9" x2="441.0" y2="23.9" stroke="#000" stroke-width="0.5" />
<text x="440.1" y="25.099999999999998" font-size="3.9" font-weight="bold" fill="#000" text-anchor="end" font-family='"Liberation Serif", serif' >140</text>
<line x1="442.3" y1="15.099999999999994" x2="441.0" y2="15.099999999999994" stroke="#000" stroke-width="0.5" />
<text x="440.1" y="16.299999999999994" font-size="3.9" font-weight="bold" fill="#000" text-anchor="end" font-family='"Liberation Serif", serif' >160</text>
<line x1="526.7" y1="85.7" x2="528.0" y2="85.7" stroke="#000" stroke-width="0.5" />
<text x="529.2" y="86.9" font-size="3.9" font-weight="bold" fill="#000" text-anchor="start" font-family='"Liberation Serif", serif' >0</text>
<line x1="526.7" y1="73.9" x2="528.0" y2="73.9" stroke="#000" stroke-width="0.5" />
<text x="529.2" y="75.10000000000001" font-size="3.9" font-weight="bold" fill="#000" text-anchor="start" font-family='"Liberation Serif", serif' >20</text>
<line x1="526.7" y1="62.10000000000001" x2="528.0" y2="62.10000000000001" stroke="#000" stroke-width="0.5" />
<text x="529.2" y="63.30000000000001" font-size="3.9" font-weight="bold" fill="#000" text-anchor="start" font-family='"Liberation Serif", serif' >40</text>
<line x1="526.7" y1="50.300000000000004" x2="528.0" y2="50.300000000000004" stroke="#000" stroke-width="0.5" />
<text x="529.2" y="51.50000000000001" font-size="3.9" font-weight="bold" fill="#000" text-anchor="start" font-family='"Liberation Serif", serif' >60</text>
<line x1="526.7" y1="38.50000000000001" x2="528.0" y2="38.50000000000001" stroke="#000" stroke-width="0.5" />
<text x="529.2" y="39.70000000000001" font-size="3.9" font-weight="bold" fill="#000" text-anchor="start" font-family='"Liberation Serif", serif' >80</text>
<line x1="526.7" y1="26.700000000000003" x2="528.0" y2="26.700000000000003" stroke="#000" stroke-width="0.5" />
<text x="529.2" y="27.900000000000002" font-size="3.9" font-weight="bold" fill="#000" text-anchor="start" font-family='"Liberation Serif", serif' >100</text>
<line x1="526.7" y1="14.900000000000006" x2="528.0" y2="14.900000000000006" stroke="#000" stroke-width="0.5" />
<text x="529.2" y="16.100000000000005" font-size="3.9" font-weight="bold" fill="#000" text-anchor="start" font-family='"Liberation Serif", serif' >120</text>
<line x1="455.7" y1="85.7" x2="455.7" y2="84.4" stroke="#000" stroke-width="0.5" />
<text x="455.7" y="91.6" font-size="3.9" font-weight="bold" fill="#000" text-anchor="middle" font-family='"Liberation Serif", serif' >10</text>
<line x1="469.7" y1="85.7" x2="469.7" y2="84.4" stroke="#000" stroke-width="0.5" />
<text x="469.7" y="91.6" font-size="3.9" font-weight="bold" fill="#000" text-anchor="middle" font-family='"Liberation Serif", serif' >20</text>
<line x1="483.7" y1="85.7" x2="483.7" y2="84.4" stroke="#000" stroke-width="0.5" />
<text x="483.7" y="91.6" font-size="3.9" font-weight="bold" fill="#000" text-anchor="middle" font-family='"Liberation Serif", serif' >30</text>
<line x1="497.7" y1="85.7" x2="497.7" y2="84.4" stroke="#000" stroke-width="0.5" />
<text x="497.7" y="91.6" font-size="3.9" font-weight="bold" fill="#000" text-anchor="middle" font-family='"Liberation Serif", serif' >40</text>
<line x1="511.7" y1="85.7" x2="511.7" y2="84.4" stroke="#000" stroke-width="0.5" />
<text x="511.7" y="91.6" font-size="3.9" font-weight="bold" fill="#000" text-anchor="middle" font-family='"Liberation Serif", serif' >50</text>
<line x1="525.7" y1="85.7" x2="525.7" y2="84.4" stroke="#000" stroke-width="0.5" />
<text x="525.7" y="91.6" font-size="3.9" font-weight="bold" fill="#000" text-anchor="middle" font-family='"Liberation Serif", serif' >60</text>
<text x="484.7" y="102.2" font-size="5.1" font-weight="bold" fill="#000" text-anchor="middle" font-family='"Liberation Sans", sans-serif' >Cycle Number</text>
<text x="542.4" y="48.2" font-size="5.0" font-weight="bold" fill="#000" text-anchor="middle" font-family='"Liberation Sans", sans-serif' transform="rotate(-90 542.4 48.2)" textLength="54.7" lengthAdjust="spacingAndGlyphs">Coulombic efficient (%)</text>
<polyline points="443.00,27.07 443.60,27.00 444.20,26.59 444.80,26.60 445.40,26.30 446.00,26.83 446.60,26.26 447.20,26.27 447.80,26.41 448.40,26.36 449.00,26.54 449.60,26.25 450.20,26.20 450.80,26.35 451.40,26.30 452.00,26.56 452.60,26.23 453.20,27.07 453.80,26.81 454.40,26.35 455.00,26.45 455.60,26.55 456.20,26.56 456.80,26.32 457.40,27.05 458.00,27.19 458.60,26.67 459.20,26.68 459.80,26.29 460.40,26.30 461.00,26.54 461.60,26.46 462.20,27.03 462.80,26.36 463.40,26.22 464.00,27.15 464.60,26.73 465.20,26.35 465.80,26.74 466.40,26.23 467.00,26.73 467.60,27.18 468.20,27.06 468.80,26.90 469.40,26.46 470.00,26.57 470.60,26.37 471.20,26.97 471.80,26.73 472.40,26.98 473.00,26.53 473.60,26.42 474.20,27.01 474.80,27.18 475.40,27.05 476.00,27.01 476.60,27.02 477.20,26.94 477.80,26.43 478.40,26.72 479.00,26.56 479.60,26.23 480.20,26.23 480.80,26.48 481.40,26.46 482.00,26.89 482.60,27.16 483.20,26.65 483.80,27.14 484.40,27.19 485.00,27.16 485.60,26.56 486.20,26.42 486.80,26.43 487.40,26.40 488.00,26.40 488.60,26.82 489.20,27.10 489.80,27.04 490.40,26.68 491.00,26.85 491.60,27.00 492.20,26.28 492.80,26.86 493.40,27.79 494.00,26.90 494.60,27.07 495.20,27.25 495.80,26.92 496.40,27.67 497.00,26.13 497.60,25.49 498.20,27.10 498.80,27.01 499.40,26.35 500.00,27.03 500.60,27.18 501.20,26.86 501.80,26.55 502.40,26.75 503.00,26.33 503.60,26.21 504.20,27.17 504.80,26.85 505.40,26.73 506.00,27.13 506.60,26.63 507.20,27.07 507.80,27.03 508.40,26.41 509.00,26.45 509.60,26.49 510.20,26.44 510.80,26.79 511.40,26.46 512.00,26.62 512.60,26.33 513.20,27.11 513.80,26.55 514.40,26.66 515.00,26.78 515.60,27.10 516.20,26.62 516.80,27.12 517.40,26.70 518.00,26.73 518.60,26.72 519.20,26.22 519.80,26.64 520.40,26.38 521.00,26.20 521.60,27.00 522.20,26.37 522.80,26.67 523.40,26.93 524.00,26.76 524.60,26.53 525.20,26.72 525.80,26.76" fill="none" stroke="#ee1010" stroke-width="1.6" />
<path d="M510.2,25.5 L510.8,23.6 L511.3,25.6" fill="none" stroke="#ee1010" stroke-width="0.8" />
<polyline points="443.00,44.17 443.60,43.79 444.20,44.08 444.80,43.92 445.40,43.96 446.00,44.28 446.60,44.14 447.20,44.19 447.80,44.34 448.40,44.45 449.00,44.19 449.60,44.32 450.20,44.27 450.80,44.30 451.40,44.43 452.00,44.31 452.60,44.38 453.20,44.37 453.80,44.67 454.40,44.55 455.00,44.68 455.60,44.74 456.20,44.35 456.80,44.55 457.40,44.81 458.00,44.77 458.60,44.37" fill="none" stroke="#f08a30" stroke-width="1.4" />
<polyline points="459.80,49.37 460.40,49.57 461.00,49.36 461.60,49.47 462.20,49.37 462.80,49.74 463.40,49.82 464.00,49.89 464.60,49.45 465.20,49.80 465.80,49.77 466.40,49.47 467.00,49.92 467.60,49.98 468.20,49.54 468.80,49.99 469.40,49.66 470.00,49.72 470.60,50.03 471.20,49.94 471.80,49.55 472.40,49.72 473.00,49.78 473.60,49.68 474.20,49.60 474.80,49.68 475.40,49.93" fill="none" stroke="#108f80" stroke-width="1.4" />
<polyline points="476.20,51.71 476.80,52.03 477.40,51.95 478.00,51.69 478.60,51.87 479.20,52.04 479.80,51.96 480.40,51.69 481.00,52.23 481.60,52.11 482.20,52.21 482.80,51.68 483.40,51.77 484.00,51.63 484.60,52.07 485.20,51.75 485.80,51.66 486.40,51.83 487.00,52.12 487.60,52.05 488.20,51.71 488.80,51.64 489.40,52.09 490.00,51.88 490.60,51.95 491.20,51.57 491.80,51.55 492.40,51.92" fill="none" stroke="#108f80" stroke-width="1.4" />
<polyline points="493.20,54.96 493.80,54.74 494.40,55.26 495.00,55.08 495.60,55.18 496.20,54.75 496.80,55.21 497.40,54.74 498.00,55.22 498.60,54.97 499.20,54.90 499.80,55.03 500.40,55.26 501.00,54.86 501.60,54.78 502.20,55.02 502.80,54.84 503.40,54.77 504.00,54.80 504.60,54.73 505.20,54.82 505.80,54.89 506.40,54.88 507.00,55.16 507.60,54.87 508.20,55.00 508.80,54.81 509.40,54.91" fill="none" stroke="#108f80" stroke-width="1.4" />
<polyline points="510.60,44.61 511.20,44.80 511.80,44.70 512.40,45.18 513.00,45.11 513.60,44.94 514.20,45.16 514.80,45.48 515.40,45.03 516.00,45.50 516.60,45.32 517.20,45.40 517.80,45.65 518.40,45.43 519.00,45.55 519.60,45.70 520.20,45.92 520.80,45.59 521.40,45.92 522.00,45.90 522.60,45.90 523.20,45.81 523.80,45.82 524.40,45.69 525.00,45.78 525.60,45.79 526.20,46.24" fill="none" stroke="#f08a30" stroke-width="1.4" />
<text x="451.5" y="40.2" font-size="4.3" font-weight="bold" fill="#000" text-anchor="middle" font-family='"Liberation Serif", serif' >25 °C</text>
<text x="467" y="46.8" font-size="4.3" font-weight="bold" fill="#000" text-anchor="middle" font-family='"Liberation Serif", serif' >0 °C</text>
<text x="484" y="49.2" font-size="4.3" font-weight="bold" fill="#000" text-anchor="middle" font-family='"Liberation Serif", serif' >−10°C</text>
<text x="501" y="52" font-size="4.3" font-weight="bold" fill="#000" text-anchor="middle" font-family='"Liberation Serif", serif' >−20°C</text>
<text x="516.5" y="42.2" font-size="4.3" font-weight="bold" fill="#000" text-anchor="middle" font-family='"Liberation Serif", serif' >25 °C</text>
<text x="446.6" y="76.5" font-size="4.6" font-weight="bold" fill="#000" text-anchor="start" font-family='"Liberation Serif", serif' >18 C</text>
<text x="304" y="112.8" font-size="11" fill="#111" stroke="#111" stroke-width="0.3" font-family='"Liberation Sans", sans-serif'>(e)</text>
<rect x="328.8" y="112.6" width="199.99999999999994" height="68.0" fill="none" stroke="#333" stroke-width="0.6" />
<line x1="328.8" y1="173.8" x2="327.5" y2="173.8" stroke="#000" stroke-width="0.5" />
<text x="326.6" y="175.0" font-size="3.3" font-weight="bold" fill="#000" text-anchor="end" font-family='"Liberation Sans", sans-serif' >0</text>
<line x1="328.8" y1="159.8" x2="327.5" y2="159.8" stroke="#000" stroke-width="0.5" />
<text x="326.6" y="161.0" font-size="3.3" font-weight="bold" fill="#000" text-anchor="end" font-family='"Liberation Sans", sans-serif' >40</text>
<line x1="328.8" y1="145.8" x2="327.5" y2="145.8" stroke="#000" stroke-width="0.5" />
<text x="326.6" y="147.0" font-size="3.3" font-weight="bold" fill="#000" text-anchor="end" font-family='"Liberation Sans", sans-serif' >80</text>
<line x1="328.8" y1="131.8" x2="327.5" y2="131.8" stroke="#000" stroke-width="0.5" />
<text x="326.6" y="133.0" font-size="3.3" font-weight="bold" fill="#000" text-anchor="end" font-family='"Liberation Sans", sans-serif' >120</text>
<line x1="328.8" y1="117.80000000000001" x2="327.5" y2="117.80000000000001" stroke="#000" stroke-width="0.5" />
<text x="326.6" y="119.00000000000001" font-size="3.3" font-weight="bold" fill="#000" text-anchor="end" font-family='"Liberation Sans", sans-serif' >160</text>
<line x1="528.8" y1="180.2" x2="530.0999999999999" y2="180.2" stroke="#000" stroke-width="0.5" />
<text x="531.1999999999999" y="181.39999999999998" font-size="3.1" font-weight="bold" fill="#000" text-anchor="start" font-family='"Liberation Sans", sans-serif' >0</text>
<line x1="528.8" y1="167.85" x2="530.0999999999999" y2="167.85" stroke="#000" stroke-width="0.5" />
<text x="531.1999999999999" y="169.04999999999998" font-size="3.1" font-weight="bold" fill="#000" text-anchor="start" font-family='"Liberation Sans", sans-serif' >20</text>
<line x1="528.8" y1="155.5" x2="530.0999999999999" y2="155.5" stroke="#000" stroke-width="0.5" />
<text x="531.1999999999999" y="156.7" font-size="3.1" font-weight="bold" fill="#000" text-anchor="start" font-family='"Liberation Sans", sans-serif' >40</text>
<line x1="528.8" y1="143.14999999999998" x2="530.0999999999999" y2="143.14999999999998" stroke="#000" stroke-width="0.5" />
<text x="531.1999999999999" y="144.34999999999997" font-size="3.1" font-weight="bold" fill="#000" text-anchor="start" font-family='"Liberation Sans", sans-serif' >60</text>
<line x1="528.8" y1="130.79999999999998" x2="530.0999999999999" y2="130.79999999999998" stroke="#000" stroke-width="0.5" />
<text x="531.1999999999999" y="131.99999999999997" font-size="3.1" font-weight="bold" fill="#000" text-anchor="start" font-family='"Liberation Sans", sans-serif' >80</text>
<line x1="528.8" y1="118.44999999999999" x2="530.0999999999999" y2="118.44999999999999" stroke="#000" stroke-width="0.5" />
<text x="531.1999999999999" y="119.64999999999999" font-size="3.1" font-weight="bold" fill="#000" text-anchor="start" font-family='"Liberation Sans", sans-serif' >100</text>
<line x1="329.0" y1="180.6" x2="329.0" y2="181.79999999999998" stroke="#000" stroke-width="0.5" />
<text x="329.0" y="186.9" font-size="3.0" font-weight="normal" fill="#000" text-anchor="middle" font-family='"Liberation Sans", sans-serif' >0</text>
<line x1="348.95" y1="180.6" x2="348.95" y2="181.79999999999998" stroke="#000" stroke-width="0.5" />
<text x="348.95" y="186.9" font-size="3.0" font-weight="normal" fill="#000" text-anchor="middle" font-family='"Liberation Sans", sans-serif' >1,000</text>
<line x1="368.9" y1="180.6" x2="368.9" y2="181.79999999999998" stroke="#000" stroke-width="0.5" />
<text x="368.9" y="186.9" font-size="3.0" font-weight="normal" fill="#000" text-anchor="middle" font-family='"Liberation Sans", sans-serif' >2,000</text>
<line x1="388.85" y1="180.6" x2="388.85" y2="181.79999999999998" stroke="#000" stroke-width="0.5" />
<text x="388.85" y="186.9" font-size="3.0" font-weight="normal" fill="#000" text-anchor="middle" font-family='"Liberation Sans", sans-serif' >3,000</text>
<line x1="408.8" y1="180.6" x2="408.8" y2="181.79999999999998" stroke="#000" stroke-width="0.5" />
<text x="408.8" y="186.9" font-size="3.0" font-weight="normal" fill="#000" text-anchor="middle" font-family='"Liberation Sans", sans-serif' >4,000</text>
<line x1="428.75" y1="180.6" x2="428.75" y2="181.79999999999998" stroke="#000" stroke-width="0.5" />
<text x="428.75" y="186.9" font-size="3.0" font-weight="normal" fill="#000" text-anchor="middle" font-family='"Liberation Sans", sans-serif' >5,000</text>
<line x1="448.7" y1="180.6" x2="448.7" y2="181.79999999999998" stroke="#000" stroke-width="0.5" />
<text x="448.7" y="186.9" font-size="3.0" font-weight="normal" fill="#000" text-anchor="middle" font-family='"Liberation Sans", sans-serif' >6,000</text>
<line x1="468.65" y1="180.6" x2="468.65" y2="181.79999999999998" stroke="#000" stroke-width="0.5" />
<text x="468.65" y="186.9" font-size="3.0" font-weight="normal" fill="#000" text-anchor="middle" font-family='"Liberation Sans", sans-serif' >7,000</text>
<line x1="488.6" y1="180.6" x2="488.6" y2="181.79999999999998" stroke="#000" stroke-width="0.5" />
<text x="488.6" y="186.9" font-size="3.0" font-weight="normal" fill="#000" text-anchor="middle" font-family='"Liberation Sans", sans-serif' >8,000</text>
<line x1="508.54999999999995" y1="180.6" x2="508.54999999999995" y2="181.79999999999998" stroke="#000" stroke-width="0.5" />
<text x="508.54999999999995" y="186.9" font-size="3.0" font-weight="normal" fill="#000" text-anchor="middle" font-family='"Liberation Sans", sans-serif' >9,000</text>
<line x1="528.5" y1="180.6" x2="528.5" y2="181.79999999999998" stroke="#000" stroke-width="0.5" />
<text x="528.5" y="186.9" font-size="3.0" font-weight="normal" fill="#000" text-anchor="middle" font-family='"Liberation Sans", sans-serif' >10,000</text>
<text x="431" y="194.6" font-size="5.8" font-weight="bold" fill="#000" text-anchor="middle" font-family='"Liberation Sans", sans-serif' >Cycle Number</text>
<text x="316.8" y="152" font-size="4.6" font-weight="bold" fill="#000" text-anchor="middle" font-family='"Liberation Sans", sans-serif' transform="rotate(-90 316.8 152)" textLength="37" lengthAdjust="spacingAndGlyphs">Capacity (mAh/g)</text>
<text x="546.2" y="154.3" font-size="4.6" font-weight="bold" fill="#000" text-anchor="middle" font-family='"Liberation Sans", sans-serif' transform="rotate(-90 546.2 154.3)" textLength="54" lengthAdjust="spacingAndGlyphs">Coulombic efficient (%)</text>
<polyline points="329.40,124.00 329.70,119.60 330.60,118.90 528.40,118.60" fill="none" stroke="#ee1010" stroke-width="2.0" />
<polyline points="330.00,149.08 330.80,149.04 331.60,149.01 332.40,149.40 333.20,149.42 334.00,149.33 334.80,149.15 335.60,149.14 336.40,149.17 337.20,149.26 338.00,149.12 338.80,149.27 339.60,149.19 340.40,149.55 341.20,149.57 342.00,149.36 342.80,149.22 343.60,149.59 344.40,149.27 345.20,149.30 346.00,149.14 346.80,149.34 347.60,149.39 348.40,149.41 349.20,149.27 350.00,149.43 350.80,149.19 351.60,149.33 352.40,149.25 353.20,149.42 354.00,149.25 354.80,149.25 355.60,149.40 356.40,149.37 357.20,149.56 358.00,149.54 358.80,149.66 359.60,149.62 360.40,149.66 361.20,149.75 362.00,149.52 362.80,149.49 363.60,149.83 364.40,149.42 365.20,149.72 366.00,149.69 366.80,149.40 367.60,149.80 368.40,149.84 369.20,149.72 370.00,149.78 370.80,149.83 371.60,149.50 372.40,149.70 373.20,149.70 374.00,149.88 374.80,149.87 375.60,149.89 376.40,149.78 377.20,149.94 378.00,149.85 378.80,149.86 379.60,149.64 380.40,149.55 381.20,149.61 382.00,149.73 382.80,149.61 383.60,149.99 384.40,149.86 385.20,149.90 386.00,149.91 386.80,149.95 387.60,149.86 388.40,149.63 389.20,150.04 390.00,150.02 390.80,149.91 391.60,149.93 392.40,150.00 393.20,149.72 394.00,150.06 394.80,149.83 395.60,149.75 396.40,149.85 397.20,150.09 398.00,149.84 398.80,150.12 399.60,150.24 400.40,150.01 401.20,149.97 402.00,150.02 402.80,150.14 403.60,150.19 404.40,150.12 405.20,150.14 406.00,149.87 406.80,149.91 407.60,149.98 408.40,150.23 409.20,150.02 410.00,150.16 410.80,149.89 411.60,149.93 412.40,150.04 413.20,150.25 414.00,150.27 414.80,150.27 415.60,150.09 416.40,150.21 417.20,150.19 418.00,150.20 418.80,150.04 419.60,150.44 420.40,150.10 421.20,150.50 422.00,150.48 422.80,150.03 423.60,150.26 424.40,150.45 425.20,150.54 426.00,150.29 426.80,150.21 427.60,150.19 428.40,150.56 429.20,150.21 430.00,150.40 430.80,150.19 431.60,150.39 432.40,150.61 433.20,150.21 434.00,150.57 434.80,150.42 435.60,150.62 436.40,150.54 437.20,150.31 438.00,150.65 438.80,150.45 439.60,150.23 440.40,150.23 441.20,150.49 442.00,150.47 442.80,150.41 443.60,150.34 444.40,150.45 445.20,150.44 446.00,150.72 446.80,150.31 447.60,150.69 448.40,150.74 449.20,150.39 450.00,150.80 450.80,150.71 451.60,150.81 452.40,150.51 453.20,150.56 454.00,150.58 454.80,150.90 455.60,150.70 456.40,150.60 457.20,150.64 458.00,150.57 458.80,150.47 459.60,150.50 460.40,150.88 461.20,150.61 462.00,150.95 462.80,150.61 463.60,150.63 464.40,150.76 465.20,150.61 466.00,150.71 466.80,151.01 467.60,150.99 468.40,152.16 469.20,152.08 470.00,152.23 470.80,152.25 471.60,152.06 472.40,152.15 473.20,151.83 474.00,152.18 474.80,152.04 475.60,152.20 476.40,152.16 477.20,151.99 478.00,151.87 478.80,152.32 479.60,151.93 480.40,152.11 481.20,152.05 482.00,152.04 482.80,152.27 483.60,152.39 484.40,152.04 485.20,152.25 486.00,152.08 486.80,152.22 487.60,152.14 488.40,152.04 489.20,152.04 490.00,152.07 490.80,152.43 491.60,152.23 492.40,152.10 493.20,152.46 494.00,152.51 494.80,152.24 495.60,152.10 496.40,152.13 497.20,152.09 498.00,152.22 498.80,152.10 499.60,152.19 500.40,152.20 501.20,152.37 502.00,152.53 502.80,152.47 503.60,152.31 504.40,152.32 505.20,152.38 506.00,152.32 506.80,152.31 507.60,152.18 508.40,152.29 509.20,152.65 510.00,152.23 510.80,152.43 511.60,152.50 512.40,152.63 513.20,152.31 514.00,152.35 514.80,152.34 515.60,152.43 516.40,152.46 517.20,152.72 518.00,152.67 518.80,152.69 519.60,152.28 520.40,152.29 521.20,152.64 522.00,152.74 522.80,152.53 523.60,152.60 524.40,152.31 525.20,152.52 526.00,152.79 526.80,152.75 527.60,152.77" fill="none" stroke="#108f80" stroke-width="1.4" />
<path d="M353.5,149.5 L353.5,160 L332.5,160" fill="none" stroke="#108f80" stroke-width="0.7" />
<circle cx="331.8" cy="160.0" r="0.9" fill="#108f80"/>
<circle cx="391.6" cy="135.4" r="1.2" fill="#108f80"/>
<text x="397.2" y="137.3" font-size="6.2" font-weight="bold" fill="#109a90" text-anchor="start" font-family='"Liberation Serif", serif' >charge</text>
<circle cx="441.6" cy="135.4" r="1.2" fill="#111"/>
<text x="447.8" y="137.3" font-size="6.4" font-weight="normal" fill="#222" text-anchor="start" font-family='"Liberation Serif", serif' >discharge</text>
<text x="427" y="129.6" font-size="4.6" font-weight="bold" fill="#109a90" text-anchor="middle" font-family='"Liberation Serif", serif' >−20 °C</text>
<line x1="426.7" y1="132.4" x2="426.7" y2="143.5" stroke="#e01010" stroke-width="1.3" />
<path d="M425,143 L428.4,143 L426.7,146.2 Z" fill="#e01010" stroke="none" stroke-width="0.8" />
<text x="333.3" y="170.4" font-size="4.6" font-weight="bold" fill="#000" text-anchor="start" font-family='"Liberation Serif", serif' >10 C</text>
<text x="462.8" y="168.9" font-size="4.25" font-weight="bold" fill="#000" text-anchor="start" font-family='"Liberation Serif", serif' >Capacity retention</text>
<text x="500.2" y="169" font-size="4.25" font-weight="bold" fill="#109a90" text-anchor="start" font-family='"Liberation Serif", serif' >85%</text>
<text x="13.9" y="212.3" font-size="11" fill="#111" stroke="#111" stroke-width="0.3" font-family='"Liberation Sans", sans-serif'>(f)</text>
<ellipse cx="14" cy="280" rx="16" ry="12" fill="#f6dce6" opacity="0.5" filter="url(#blur3)"/>
<rect x="100" y="215" width="64" height="88" rx="10" fill="#f8dde8" opacity="0.45" filter="url(#blur3)"/>
<circle cx="8.9" cy="253.2" r="2.5" fill="#a8d48a" stroke="#6a9a40" stroke-width="1.1"/>
<circle cx="8.9" cy="253.2" r="1.1" fill="#f4f4e8" opacity="0.8"/>
<text x="13.2" y="256.0" font-size="7.6" font-weight="bold" fill="#222" text-anchor="start" font-family='"Liberation Sans", sans-serif' >Na</text>
<circle cx="8.9" cy="263.4" r="2.5" fill="#b8a860" stroke="#857a30" stroke-width="1.1"/>
<circle cx="8.9" cy="263.4" r="1.1" fill="#f4f4e8" opacity="0.8"/>
<text x="13.2" y="266.2" font-size="7.6" font-weight="bold" fill="#222" text-anchor="start" font-family='"Liberation Sans", sans-serif' >V</text>
<circle cx="8.9" cy="273.0" r="2.5" fill="#9090e0" stroke="#5a58b0" stroke-width="1.1"/>
<circle cx="8.9" cy="273.0" r="1.1" fill="#f4f4e8" opacity="0.8"/>
<text x="13.2" y="275.8" font-size="7.6" font-weight="bold" fill="#222" text-anchor="start" font-family='"Liberation Sans", sans-serif' >Ti</text>
<circle cx="8.9" cy="283.9" r="2.5" fill="#c06040" stroke="#8a3a20" stroke-width="1.1"/>
<circle cx="8.9" cy="283.9" r="1.1" fill="#f4f4e8" opacity="0.8"/>
<text x="13.2" y="286.7" font-size="7.6" font-weight="bold" fill="#222" text-anchor="start" font-family='"Liberation Sans", sans-serif' >O</text>
<line x1="8.2" y1="296.8" x2="20.5" y2="296.8" stroke="#4a9a40" stroke-width="0.8" />
<path d="M20,295.3 L23,296.8 L20,298.3 Z" fill="#333" stroke="none" stroke-width="0.8" />
<line x1="8.2" y1="296.8" x2="8.6" y2="308.5" stroke="#4a9a40" stroke-width="0.8" />
<path d="M7.2,308 L8.7,311.2 L10.2,308 Z" fill="#4a9a40" stroke="none" stroke-width="0.8" />
<line x1="8.2" y1="296.8" x2="6.2" y2="293.5" stroke="#555" stroke-width="0.6" />
<text x="25" y="298.5" font-size="4.5" font-weight="bold" fill="#333" text-anchor="start" font-family='"Liberation Sans", sans-serif' >a</text>
<text x="4.6" y="293" font-size="4.5" font-weight="bold" fill="#333" text-anchor="start" font-family='"Liberation Sans", sans-serif' >b</text>
<text x="7.5" y="318" font-size="4.5" font-weight="bold" fill="#333" text-anchor="start" font-family='"Liberation Sans", sans-serif' >c</text>
<line x1="31.399999999999995" y1="260.1" x2="31.06009260328413" y2="256.2148406774422" stroke="#a89a60" stroke-width="0.85" />
<circle cx="31.1" cy="256.2" r="0.95" fill="#5a4a40"/>
<line x1="31.399999999999995" y1="260.1" x2="27.63288927747263" y2="261.10939427589983" stroke="#a89a60" stroke-width="0.85" />
<circle cx="27.6" cy="261.1" r="0.95" fill="#5a4a40"/>
<line x1="31.399999999999995" y1="260.1" x2="35.16711072252736" y2="261.10939427589983" stroke="#a89a60" stroke-width="0.85" />
<circle cx="35.2" cy="261.1" r="0.95" fill="#5a4a40"/>
<line x1="31.399999999999995" y1="260.1" x2="30.066121441029885" y2="263.76480122106506" stroke="#a89a60" stroke-width="0.85" />
<circle cx="30.1" cy="263.8" r="0.95" fill="#5a4a40"/>
<line x1="32.8" y1="278.1" x2="35.03694810176908" y2="274.90530702727295" stroke="#a89a60" stroke-width="0.85" />
<circle cx="35.0" cy="274.9" r="0.95" fill="#5a4a40"/>
<line x1="32.8" y1="278.1" x2="35.994692972727066" y2="280.3369481017691" stroke="#a89a60" stroke-width="0.85" />
<circle cx="36.0" cy="280.3" r="0.95" fill="#5a4a40"/>
<line x1="32.8" y1="278.1" x2="30.563051898230917" y2="281.2946929727271" stroke="#a89a60" stroke-width="0.85" />
<circle cx="30.6" cy="281.3" r="0.95" fill="#5a4a40"/>
<line x1="32.8" y1="278.1" x2="29.60530702727293" y2="275.86305189823094" stroke="#a89a60" stroke-width="0.85" />
<circle cx="29.6" cy="275.9" r="0.95" fill="#5a4a40"/>
<line x1="34.199999999999996" y1="296.1" x2="33.86009260328413" y2="292.2148406774422" stroke="#a89a60" stroke-width="0.85" />
<circle cx="33.9" cy="292.2" r="0.95" fill="#5a4a40"/>
<line x1="34.199999999999996" y1="296.1" x2="30.43288927747263" y2="297.10939427589983" stroke="#a89a60" stroke-width="0.85" />
<circle cx="30.4" cy="297.1" r="0.95" fill="#5a4a40"/>
<line x1="34.199999999999996" y1="296.1" x2="37.96711072252736" y2="297.10939427589983" stroke="#a89a60" stroke-width="0.85" />
<circle cx="38.0" cy="297.1" r="0.95" fill="#5a4a40"/>
<line x1="34.199999999999996" y1="296.1" x2="32.86612144102989" y2="299.76480122106506" stroke="#a89a60" stroke-width="0.85" />
<circle cx="32.9" cy="299.8" r="0.95" fill="#5a4a40"/>
<line x1="32.9" y1="230.7" x2="32.56009260328413" y2="226.8148406774422" stroke="#a89a60" stroke-width="0.85" />
<circle cx="32.6" cy="226.8" r="0.95" fill="#5a4a40"/>
<line x1="32.9" y1="230.7" x2="29.132889277472632" y2="231.70939427589983" stroke="#a89a60" stroke-width="0.85" />
<circle cx="29.1" cy="231.7" r="0.95" fill="#5a4a40"/>
<line x1="32.9" y1="230.7" x2="36.66711072252736" y2="231.70939427589983" stroke="#a89a60" stroke-width="0.85" />
<circle cx="36.7" cy="231.7" r="0.95" fill="#5a4a40"/>
<line x1="32.9" y1="230.7" x2="31.566121441029892" y2="234.36480122106502" stroke="#a89a60" stroke-width="0.85" />
<circle cx="31.6" cy="234.4" r="0.95" fill="#5a4a40"/>
<line x1="43.2" y1="228.5" x2="45.43694810176908" y2="225.30530702727293" stroke="#a89a60" stroke-width="0.85" />
<circle cx="45.4" cy="225.3" r="0.95" fill="#5a4a40"/>
<line x1="43.2" y1="228.5" x2="46.39469297272707" y2="230.7369481017691" stroke="#a89a60" stroke-width="0.85" />
<circle cx="46.4" cy="230.7" r="0.95" fill="#5a4a40"/>
<line x1="43.2" y1="228.5" x2="40.96305189823092" y2="231.69469297272707" stroke="#a89a60" stroke-width="0.85" />
<circle cx="41.0" cy="231.7" r="0.95" fill="#5a4a40"/>
<line x1="43.2" y1="228.5" x2="40.005307027272934" y2="226.2630518982309" stroke="#a89a60" stroke-width="0.85" />
<circle cx="40.0" cy="226.3" r="0.95" fill="#5a4a40"/>
<line x1="48.1" y1="239.9" x2="47.760092603284136" y2="236.0148406774422" stroke="#a89a60" stroke-width="0.85" />
<circle cx="47.8" cy="236.0" r="0.95" fill="#5a4a40"/>
<line x1="48.1" y1="239.9" x2="44.33288927747264" y2="240.90939427589984" stroke="#a89a60" stroke-width="0.85" />
<circle cx="44.3" cy="240.9" r="0.95" fill="#5a4a40"/>
<line x1="48.1" y1="239.9" x2="51.867110722527364" y2="240.90939427589984" stroke="#a89a60" stroke-width="0.85" />
<circle cx="51.9" cy="240.9" r="0.95" fill="#5a4a40"/>
<line x1="48.1" y1="239.9" x2="46.766121441029895" y2="243.56480122106504" stroke="#a89a60" stroke-width="0.85" />
<circle cx="46.8" cy="243.6" r="0.95" fill="#5a4a40"/>
<line x1="57.8" y1="239.9" x2="60.03694810176908" y2="236.70530702727294" stroke="#a89a60" stroke-width="0.85" />
<circle cx="60.0" cy="236.7" r="0.95" fill="#5a4a40"/>
<line x1="57.8" y1="239.9" x2="60.994692972727066" y2="242.1369481017691" stroke="#a89a60" stroke-width="0.85" />
<circle cx="61.0" cy="242.1" r="0.95" fill="#5a4a40"/>
<line x1="57.8" y1="239.9" x2="55.56305189823092" y2="243.09469297272707" stroke="#a89a60" stroke-width="0.85" />
<circle cx="55.6" cy="243.1" r="0.95" fill="#5a4a40"/>
<line x1="57.8" y1="239.9" x2="54.60530702727293" y2="237.66305189823092" stroke="#a89a60" stroke-width="0.85" />
<circle cx="54.6" cy="237.7" r="0.95" fill="#5a4a40"/>
<line x1="34.3" y1="248.7" x2="36.53694810176908" y2="245.50530702727292" stroke="#a89a60" stroke-width="0.85" />
<circle cx="36.5" cy="245.5" r="0.95" fill="#5a4a40"/>
<line x1="34.3" y1="248.7" x2="37.494692972727066" y2="250.93694810176908" stroke="#a89a60" stroke-width="0.85" />
<circle cx="37.5" cy="250.9" r="0.95" fill="#5a4a40"/>
<line x1="34.3" y1="248.7" x2="32.06305189823092" y2="251.89469297272706" stroke="#a89a60" stroke-width="0.85" />
<circle cx="32.1" cy="251.9" r="0.95" fill="#5a4a40"/>
<line x1="34.3" y1="248.7" x2="31.10530702727293" y2="246.4630518982309" stroke="#a89a60" stroke-width="0.85" />
<circle cx="31.1" cy="246.5" r="0.95" fill="#5a4a40"/>
<line x1="44.6" y1="246.5" x2="44.260092603284136" y2="242.6148406774422" stroke="#a89a60" stroke-width="0.85" />
<circle cx="44.3" cy="242.6" r="0.95" fill="#5a4a40"/>
<line x1="44.6" y1="246.5" x2="40.83288927747264" y2="247.50939427589984" stroke="#a89a60" stroke-width="0.85" />
<circle cx="40.8" cy="247.5" r="0.95" fill="#5a4a40"/>
<line x1="44.6" y1="246.5" x2="48.367110722527364" y2="247.50939427589984" stroke="#a89a60" stroke-width="0.85" />
<circle cx="48.4" cy="247.5" r="0.95" fill="#5a4a40"/>
<line x1="44.6" y1="246.5" x2="43.266121441029895" y2="250.16480122106503" stroke="#a89a60" stroke-width="0.85" />
<circle cx="43.3" cy="250.2" r="0.95" fill="#5a4a40"/>
<line x1="49.5" y1="257.9" x2="51.73694810176908" y2="254.7053070272729" stroke="#a89a60" stroke-width="0.85" />
<circle cx="51.7" cy="254.7" r="0.95" fill="#5a4a40"/>
<line x1="49.5" y1="257.9" x2="52.69469297272707" y2="260.13694810176906" stroke="#a89a60" stroke-width="0.85" />
<circle cx="52.7" cy="260.1" r="0.95" fill="#5a4a40"/>
<line x1="49.5" y1="257.9" x2="47.26305189823092" y2="261.09469297272705" stroke="#a89a60" stroke-width="0.85" />
<circle cx="47.3" cy="261.1" r="0.95" fill="#5a4a40"/>
<line x1="49.5" y1="257.9" x2="46.30530702727293" y2="255.6630518982309" stroke="#a89a60" stroke-width="0.85" />
<circle cx="46.3" cy="255.7" r="0.95" fill="#5a4a40"/>
<line x1="35.699999999999996" y1="266.7" x2="35.36009260328413" y2="262.8148406774422" stroke="#a89a60" stroke-width="0.85" />
<circle cx="35.4" cy="262.8" r="0.95" fill="#5a4a40"/>
<line x1="35.699999999999996" y1="266.7" x2="31.93288927747263" y2="267.7093942758998" stroke="#a89a60" stroke-width="0.85" />
<circle cx="31.9" cy="267.7" r="0.95" fill="#5a4a40"/>
<line x1="35.699999999999996" y1="266.7" x2="39.46711072252736" y2="267.7093942758998" stroke="#a89a60" stroke-width="0.85" />
<circle cx="39.5" cy="267.7" r="0.95" fill="#5a4a40"/>
<line x1="35.699999999999996" y1="266.7" x2="34.36612144102989" y2="270.364801221065" stroke="#a89a60" stroke-width="0.85" />
<circle cx="34.4" cy="270.4" r="0.95" fill="#5a4a40"/>
<line x1="46.0" y1="264.5" x2="48.23694810176908" y2="261.30530702727293" stroke="#a89a60" stroke-width="0.85" />
<circle cx="48.2" cy="261.3" r="0.95" fill="#5a4a40"/>
<line x1="46.0" y1="264.5" x2="49.19469297272707" y2="266.7369481017691" stroke="#a89a60" stroke-width="0.85" />
<circle cx="49.2" cy="266.7" r="0.95" fill="#5a4a40"/>
<line x1="46.0" y1="264.5" x2="43.76305189823092" y2="267.69469297272707" stroke="#a89a60" stroke-width="0.85" />
<circle cx="43.8" cy="267.7" r="0.95" fill="#5a4a40"/>
<line x1="46.0" y1="264.5" x2="42.80530702727293" y2="262.2630518982309" stroke="#a89a60" stroke-width="0.85" />
<circle cx="42.8" cy="262.3" r="0.95" fill="#5a4a40"/>
<line x1="37.099999999999994" y1="284.7" x2="39.336948101769075" y2="281.5053070272729" stroke="#a89a60" stroke-width="0.85" />
<circle cx="39.3" cy="281.5" r="0.95" fill="#5a4a40"/>
<line x1="37.099999999999994" y1="284.7" x2="40.29469297272706" y2="286.9369481017691" stroke="#a89a60" stroke-width="0.85" />
<circle cx="40.3" cy="286.9" r="0.95" fill="#5a4a40"/>
<line x1="37.099999999999994" y1="284.7" x2="34.863051898230914" y2="287.89469297272706" stroke="#a89a60" stroke-width="0.85" />
<circle cx="34.9" cy="287.9" r="0.95" fill="#5a4a40"/>
<line x1="37.099999999999994" y1="284.7" x2="33.905307027272926" y2="282.4630518982309" stroke="#a89a60" stroke-width="0.85" />
<circle cx="33.9" cy="282.5" r="0.95" fill="#5a4a40"/>
<line x1="47.400000000000006" y1="282.5" x2="47.06009260328414" y2="278.6148406774422" stroke="#a89a60" stroke-width="0.85" />
<circle cx="47.1" cy="278.6" r="0.95" fill="#5a4a40"/>
<line x1="47.400000000000006" y1="282.5" x2="43.63288927747264" y2="283.5093942758998" stroke="#a89a60" stroke-width="0.85" />
<circle cx="43.6" cy="283.5" r="0.95" fill="#5a4a40"/>
<line x1="47.400000000000006" y1="282.5" x2="51.16711072252737" y2="283.5093942758998" stroke="#a89a60" stroke-width="0.85" />
<circle cx="51.2" cy="283.5" r="0.95" fill="#5a4a40"/>
<line x1="47.400000000000006" y1="282.5" x2="46.0661214410299" y2="286.16480122106503" stroke="#a89a60" stroke-width="0.85" />
<circle cx="46.1" cy="286.2" r="0.95" fill="#5a4a40"/>
<line x1="52.3" y1="293.9" x2="54.53694810176908" y2="290.7053070272729" stroke="#a89a60" stroke-width="0.85" />
<circle cx="54.5" cy="290.7" r="0.95" fill="#5a4a40"/>
<line x1="52.3" y1="293.9" x2="55.494692972727066" y2="296.13694810176906" stroke="#a89a60" stroke-width="0.85" />
<circle cx="55.5" cy="296.1" r="0.95" fill="#5a4a40"/>
<line x1="52.3" y1="293.9" x2="50.06305189823092" y2="297.09469297272705" stroke="#a89a60" stroke-width="0.85" />
<circle cx="50.1" cy="297.1" r="0.95" fill="#5a4a40"/>
<line x1="52.3" y1="293.9" x2="49.10530702727293" y2="291.6630518982309" stroke="#a89a60" stroke-width="0.85" />
<circle cx="49.1" cy="291.7" r="0.95" fill="#5a4a40"/>
<line x1="62.0" y1="293.9" x2="61.660092603284134" y2="290.0148406774422" stroke="#a89a60" stroke-width="0.85" />
<circle cx="61.7" cy="290.0" r="0.95" fill="#5a4a40"/>
<line x1="62.0" y1="293.9" x2="58.23288927747264" y2="294.9093942758998" stroke="#a89a60" stroke-width="0.85" />
<circle cx="58.2" cy="294.9" r="0.95" fill="#5a4a40"/>
<line x1="62.0" y1="293.9" x2="65.76711072252736" y2="294.9093942758998" stroke="#a89a60" stroke-width="0.85" />
<circle cx="65.8" cy="294.9" r="0.95" fill="#5a4a40"/>
<line x1="62.0" y1="293.9" x2="60.666121441029894" y2="297.564801221065" stroke="#a89a60" stroke-width="0.85" />
<circle cx="60.7" cy="297.6" r="0.95" fill="#5a4a40"/>
<line x1="48.800000000000004" y1="300.5" x2="51.036948101769084" y2="297.30530702727293" stroke="#a89a60" stroke-width="0.85" />
<circle cx="51.0" cy="297.3" r="0.95" fill="#5a4a40"/>
<line x1="48.800000000000004" y1="300.5" x2="51.99469297272707" y2="302.7369481017691" stroke="#a89a60" stroke-width="0.85" />
<circle cx="52.0" cy="302.7" r="0.95" fill="#5a4a40"/>
<line x1="48.800000000000004" y1="300.5" x2="46.563051898230924" y2="303.69469297272707" stroke="#a89a60" stroke-width="0.85" />
<circle cx="46.6" cy="303.7" r="0.95" fill="#5a4a40"/>
<line x1="48.800000000000004" y1="300.5" x2="45.605307027272936" y2="298.2630518982309" stroke="#a89a60" stroke-width="0.85" />
<circle cx="45.6" cy="298.3" r="0.95" fill="#5a4a40"/>
<line x1="60.7" y1="228.5" x2="60.36009260328414" y2="224.6148406774422" stroke="#a89a60" stroke-width="0.85" />
<circle cx="60.4" cy="224.6" r="0.95" fill="#5a4a40"/>
<line x1="60.7" y1="228.5" x2="56.93288927747264" y2="229.50939427589984" stroke="#a89a60" stroke-width="0.85" />
<circle cx="56.9" cy="229.5" r="0.95" fill="#5a4a40"/>
<line x1="60.7" y1="228.5" x2="64.46711072252737" y2="229.50939427589984" stroke="#a89a60" stroke-width="0.85" />
<circle cx="64.5" cy="229.5" r="0.95" fill="#5a4a40"/>
<line x1="60.7" y1="228.5" x2="59.3661214410299" y2="232.16480122106503" stroke="#a89a60" stroke-width="0.85" />
<circle cx="59.4" cy="232.2" r="0.95" fill="#5a4a40"/>
<line x1="71.0" y1="226.3" x2="73.23694810176907" y2="223.10530702727294" stroke="#a89a60" stroke-width="0.85" />
<circle cx="73.2" cy="223.1" r="0.95" fill="#5a4a40"/>
<line x1="71.0" y1="226.3" x2="74.19469297272707" y2="228.5369481017691" stroke="#a89a60" stroke-width="0.85" />
<circle cx="74.2" cy="228.5" r="0.95" fill="#5a4a40"/>
<line x1="71.0" y1="226.3" x2="68.76305189823093" y2="229.49469297272708" stroke="#a89a60" stroke-width="0.85" />
<circle cx="68.8" cy="229.5" r="0.95" fill="#5a4a40"/>
<line x1="71.0" y1="226.3" x2="67.80530702727293" y2="224.06305189823092" stroke="#a89a60" stroke-width="0.85" />
<circle cx="67.8" cy="224.1" r="0.95" fill="#5a4a40"/>
<line x1="75.9" y1="237.70000000000002" x2="75.56009260328413" y2="233.81484067744222" stroke="#a89a60" stroke-width="0.85" />
<circle cx="75.6" cy="233.8" r="0.95" fill="#5a4a40"/>
<line x1="75.9" y1="237.70000000000002" x2="72.13288927747264" y2="238.70939427589985" stroke="#a89a60" stroke-width="0.85" />
<circle cx="72.1" cy="238.7" r="0.95" fill="#5a4a40"/>
<line x1="75.9" y1="237.70000000000002" x2="79.66711072252737" y2="238.70939427589985" stroke="#a89a60" stroke-width="0.85" />
<circle cx="79.7" cy="238.7" r="0.95" fill="#5a4a40"/>
<line x1="75.9" y1="237.70000000000002" x2="74.56612144102989" y2="241.36480122106505" stroke="#a89a60" stroke-width="0.85" />
<circle cx="74.6" cy="241.4" r="0.95" fill="#5a4a40"/>
<line x1="85.6" y1="237.70000000000002" x2="87.83694810176907" y2="234.50530702727295" stroke="#a89a60" stroke-width="0.85" />
<circle cx="87.8" cy="234.5" r="0.95" fill="#5a4a40"/>
<line x1="85.6" y1="237.70000000000002" x2="88.79469297272706" y2="239.9369481017691" stroke="#a89a60" stroke-width="0.85" />
<circle cx="88.8" cy="239.9" r="0.95" fill="#5a4a40"/>
<line x1="85.6" y1="237.70000000000002" x2="83.36305189823092" y2="240.89469297272709" stroke="#a89a60" stroke-width="0.85" />
<circle cx="83.4" cy="240.9" r="0.95" fill="#5a4a40"/>
<line x1="85.6" y1="237.70000000000002" x2="82.40530702727293" y2="235.46305189823093" stroke="#a89a60" stroke-width="0.85" />
<circle cx="82.4" cy="235.5" r="0.95" fill="#5a4a40"/>
<line x1="62.1" y1="246.5" x2="64.33694810176908" y2="243.30530702727293" stroke="#a89a60" stroke-width="0.85" />
<circle cx="64.3" cy="243.3" r="0.95" fill="#5a4a40"/>
<line x1="62.1" y1="246.5" x2="65.29469297272706" y2="248.7369481017691" stroke="#a89a60" stroke-width="0.85" />
<circle cx="65.3" cy="248.7" r="0.95" fill="#5a4a40"/>
<line x1="62.1" y1="246.5" x2="59.86305189823092" y2="249.69469297272707" stroke="#a89a60" stroke-width="0.85" />
<circle cx="59.9" cy="249.7" r="0.95" fill="#5a4a40"/>
<line x1="62.1" y1="246.5" x2="58.90530702727293" y2="244.2630518982309" stroke="#a89a60" stroke-width="0.85" />
<circle cx="58.9" cy="244.3" r="0.95" fill="#5a4a40"/>
<line x1="72.4" y1="244.3" x2="72.06009260328413" y2="240.4148406774422" stroke="#a89a60" stroke-width="0.85" />
<circle cx="72.1" cy="240.4" r="0.95" fill="#5a4a40"/>
<line x1="72.4" y1="244.3" x2="68.63288927747264" y2="245.30939427589985" stroke="#a89a60" stroke-width="0.85" />
<circle cx="68.6" cy="245.3" r="0.95" fill="#5a4a40"/>
<line x1="72.4" y1="244.3" x2="76.16711072252737" y2="245.30939427589985" stroke="#a89a60" stroke-width="0.85" />
<circle cx="76.2" cy="245.3" r="0.95" fill="#5a4a40"/>
<line x1="72.4" y1="244.3" x2="71.06612144102989" y2="247.96480122106504" stroke="#a89a60" stroke-width="0.85" />
<circle cx="71.1" cy="248.0" r="0.95" fill="#5a4a40"/>
<line x1="77.30000000000001" y1="255.70000000000002" x2="79.53694810176908" y2="252.50530702727295" stroke="#a89a60" stroke-width="0.85" />
<circle cx="79.5" cy="252.5" r="0.95" fill="#5a4a40"/>
<line x1="77.30000000000001" y1="255.70000000000002" x2="80.49469297272708" y2="257.9369481017691" stroke="#a89a60" stroke-width="0.85" />
<circle cx="80.5" cy="257.9" r="0.95" fill="#5a4a40"/>
<line x1="77.30000000000001" y1="255.70000000000002" x2="75.06305189823094" y2="258.89469297272706" stroke="#a89a60" stroke-width="0.85" />
<circle cx="75.1" cy="258.9" r="0.95" fill="#5a4a40"/>
<line x1="77.30000000000001" y1="255.70000000000002" x2="74.10530702727294" y2="253.46305189823093" stroke="#a89a60" stroke-width="0.85" />
<circle cx="74.1" cy="253.5" r="0.95" fill="#5a4a40"/>
<line x1="87.0" y1="255.70000000000002" x2="86.66009260328413" y2="251.81484067744222" stroke="#a89a60" stroke-width="0.85" />
<circle cx="86.7" cy="251.8" r="0.95" fill="#5a4a40"/>
<line x1="87.0" y1="255.70000000000002" x2="83.23288927747264" y2="256.70939427589985" stroke="#a89a60" stroke-width="0.85" />
<circle cx="83.2" cy="256.7" r="0.95" fill="#5a4a40"/>
<line x1="87.0" y1="255.70000000000002" x2="90.76711072252736" y2="256.70939427589985" stroke="#a89a60" stroke-width="0.85" />
<circle cx="90.8" cy="256.7" r="0.95" fill="#5a4a40"/>
<line x1="87.0" y1="255.70000000000002" x2="85.66612144102989" y2="259.3648012210651" stroke="#a89a60" stroke-width="0.85" />
<circle cx="85.7" cy="259.4" r="0.95" fill="#5a4a40"/>
<line x1="73.8" y1="262.3" x2="76.03694810176907" y2="259.10530702727294" stroke="#a89a60" stroke-width="0.85" />
<circle cx="76.0" cy="259.1" r="0.95" fill="#5a4a40"/>
<line x1="73.8" y1="262.3" x2="76.99469297272707" y2="264.5369481017691" stroke="#a89a60" stroke-width="0.85" />
<circle cx="77.0" cy="264.5" r="0.95" fill="#5a4a40"/>
<line x1="73.8" y1="262.3" x2="71.56305189823092" y2="265.4946929727271" stroke="#a89a60" stroke-width="0.85" />
<circle cx="71.6" cy="265.5" r="0.95" fill="#5a4a40"/>
<line x1="73.8" y1="262.3" x2="70.60530702727293" y2="260.0630518982309" stroke="#a89a60" stroke-width="0.85" />
<circle cx="70.6" cy="260.1" r="0.95" fill="#5a4a40"/>
<line x1="78.7" y1="273.70000000000005" x2="78.36009260328413" y2="269.81484067744225" stroke="#a89a60" stroke-width="0.85" />
<circle cx="78.4" cy="269.8" r="0.95" fill="#5a4a40"/>
<line x1="78.7" y1="273.70000000000005" x2="74.93288927747264" y2="274.70939427589985" stroke="#a89a60" stroke-width="0.85" />
<circle cx="74.9" cy="274.7" r="0.95" fill="#5a4a40"/>
<line x1="78.7" y1="273.70000000000005" x2="82.46711072252737" y2="274.70939427589985" stroke="#a89a60" stroke-width="0.85" />
<circle cx="82.5" cy="274.7" r="0.95" fill="#5a4a40"/>
<line x1="78.7" y1="273.70000000000005" x2="77.36612144102989" y2="277.3648012210651" stroke="#a89a60" stroke-width="0.85" />
<circle cx="77.4" cy="277.4" r="0.95" fill="#5a4a40"/>
<line x1="88.39999999999999" y1="273.70000000000005" x2="90.63694810176906" y2="270.505307027273" stroke="#a89a60" stroke-width="0.85" />
<circle cx="90.6" cy="270.5" r="0.95" fill="#5a4a40"/>
<line x1="88.39999999999999" y1="273.70000000000005" x2="91.59469297272706" y2="275.93694810176913" stroke="#a89a60" stroke-width="0.85" />
<circle cx="91.6" cy="275.9" r="0.95" fill="#5a4a40"/>
<line x1="88.39999999999999" y1="273.70000000000005" x2="86.16305189823092" y2="276.8946929727271" stroke="#a89a60" stroke-width="0.85" />
<circle cx="86.2" cy="276.9" r="0.95" fill="#5a4a40"/>
<line x1="88.39999999999999" y1="273.70000000000005" x2="85.20530702727292" y2="271.46305189823096" stroke="#a89a60" stroke-width="0.85" />
<circle cx="85.2" cy="271.5" r="0.95" fill="#5a4a40"/>
<line x1="64.9" y1="282.5" x2="67.13694810176908" y2="279.30530702727293" stroke="#a89a60" stroke-width="0.85" />
<circle cx="67.1" cy="279.3" r="0.95" fill="#5a4a40"/>
<line x1="64.9" y1="282.5" x2="68.09469297272707" y2="284.7369481017691" stroke="#a89a60" stroke-width="0.85" />
<circle cx="68.1" cy="284.7" r="0.95" fill="#5a4a40"/>
<line x1="64.9" y1="282.5" x2="62.663051898230925" y2="285.69469297272707" stroke="#a89a60" stroke-width="0.85" />
<circle cx="62.7" cy="285.7" r="0.95" fill="#5a4a40"/>
<line x1="64.9" y1="282.5" x2="61.70530702727294" y2="280.2630518982309" stroke="#a89a60" stroke-width="0.85" />
<circle cx="61.7" cy="280.3" r="0.95" fill="#5a4a40"/>
<line x1="75.2" y1="280.3" x2="74.86009260328413" y2="276.4148406774422" stroke="#a89a60" stroke-width="0.85" />
<circle cx="74.9" cy="276.4" r="0.95" fill="#5a4a40"/>
<line x1="75.2" y1="280.3" x2="71.43288927747264" y2="281.3093942758998" stroke="#a89a60" stroke-width="0.85" />
<circle cx="71.4" cy="281.3" r="0.95" fill="#5a4a40"/>
<line x1="75.2" y1="280.3" x2="78.96711072252737" y2="281.3093942758998" stroke="#a89a60" stroke-width="0.85" />
<circle cx="79.0" cy="281.3" r="0.95" fill="#5a4a40"/>
<line x1="75.2" y1="280.3" x2="73.86612144102989" y2="283.96480122106504" stroke="#a89a60" stroke-width="0.85" />
<circle cx="73.9" cy="284.0" r="0.95" fill="#5a4a40"/>
<line x1="80.10000000000001" y1="291.70000000000005" x2="82.33694810176908" y2="288.505307027273" stroke="#a89a60" stroke-width="0.85" />
<circle cx="82.3" cy="288.5" r="0.95" fill="#5a4a40"/>
<line x1="80.10000000000001" y1="291.70000000000005" x2="83.29469297272708" y2="293.93694810176913" stroke="#a89a60" stroke-width="0.85" />
<circle cx="83.3" cy="293.9" r="0.95" fill="#5a4a40"/>
<line x1="80.10000000000001" y1="291.70000000000005" x2="77.86305189823094" y2="294.8946929727271" stroke="#a89a60" stroke-width="0.85" />
<circle cx="77.9" cy="294.9" r="0.95" fill="#5a4a40"/>
<line x1="80.10000000000001" y1="291.70000000000005" x2="76.90530702727294" y2="289.46305189823096" stroke="#a89a60" stroke-width="0.85" />
<circle cx="76.9" cy="289.5" r="0.95" fill="#5a4a40"/>
<line x1="89.8" y1="291.70000000000005" x2="89.46009260328412" y2="287.81484067744225" stroke="#a89a60" stroke-width="0.85" />
<circle cx="89.5" cy="287.8" r="0.95" fill="#5a4a40"/>
<line x1="89.8" y1="291.70000000000005" x2="86.03288927747263" y2="292.70939427589985" stroke="#a89a60" stroke-width="0.85" />
<circle cx="86.0" cy="292.7" r="0.95" fill="#5a4a40"/>
<line x1="89.8" y1="291.70000000000005" x2="93.56711072252736" y2="292.70939427589985" stroke="#a89a60" stroke-width="0.85" />
<circle cx="93.6" cy="292.7" r="0.95" fill="#5a4a40"/>
<line x1="89.8" y1="291.70000000000005" x2="88.46612144102988" y2="295.3648012210651" stroke="#a89a60" stroke-width="0.85" />
<circle cx="88.5" cy="295.4" r="0.95" fill="#5a4a40"/>
<line x1="66.3" y1="300.5" x2="65.96009260328412" y2="296.6148406774422" stroke="#a89a60" stroke-width="0.85" />
<circle cx="66.0" cy="296.6" r="0.95" fill="#5a4a40"/>
<line x1="66.3" y1="300.5" x2="62.532889277472634" y2="301.5093942758998" stroke="#a89a60" stroke-width="0.85" />
<circle cx="62.5" cy="301.5" r="0.95" fill="#5a4a40"/>
<line x1="66.3" y1="300.5" x2="70.06711072252736" y2="301.5093942758998" stroke="#a89a60" stroke-width="0.85" />
<circle cx="70.1" cy="301.5" r="0.95" fill="#5a4a40"/>
<line x1="66.3" y1="300.5" x2="64.96612144102988" y2="304.16480122106503" stroke="#a89a60" stroke-width="0.85" />
<circle cx="65.0" cy="304.2" r="0.95" fill="#5a4a40"/>
<line x1="76.6" y1="298.3" x2="78.83694810176907" y2="295.10530702727294" stroke="#a89a60" stroke-width="0.85" />
<circle cx="78.8" cy="295.1" r="0.95" fill="#5a4a40"/>
<line x1="76.6" y1="298.3" x2="79.79469297272706" y2="300.5369481017691" stroke="#a89a60" stroke-width="0.85" />
<circle cx="79.8" cy="300.5" r="0.95" fill="#5a4a40"/>
<line x1="76.6" y1="298.3" x2="74.36305189823092" y2="301.4946929727271" stroke="#a89a60" stroke-width="0.85" />
<circle cx="74.4" cy="301.5" r="0.95" fill="#5a4a40"/>
<line x1="76.6" y1="298.3" x2="73.40530702727293" y2="296.0630518982309" stroke="#a89a60" stroke-width="0.85" />
<circle cx="73.4" cy="296.1" r="0.95" fill="#5a4a40"/>
<line x1="88.5" y1="226.29999999999998" x2="88.16009260328413" y2="222.41484067744219" stroke="#a89a60" stroke-width="0.85" />
<circle cx="88.2" cy="222.4" r="0.95" fill="#5a4a40"/>
<line x1="88.5" y1="226.29999999999998" x2="84.73288927747264" y2="227.30939427589982" stroke="#a89a60" stroke-width="0.85" />
<circle cx="84.7" cy="227.3" r="0.95" fill="#5a4a40"/>
<line x1="88.5" y1="226.29999999999998" x2="92.26711072252736" y2="227.30939427589982" stroke="#a89a60" stroke-width="0.85" />
<circle cx="92.3" cy="227.3" r="0.95" fill="#5a4a40"/>
<line x1="88.5" y1="226.29999999999998" x2="87.16612144102989" y2="229.96480122106502" stroke="#a89a60" stroke-width="0.85" />
<circle cx="87.2" cy="230.0" r="0.95" fill="#5a4a40"/>
<line x1="89.9" y1="244.29999999999998" x2="92.13694810176908" y2="241.10530702727291" stroke="#a89a60" stroke-width="0.85" />
<circle cx="92.1" cy="241.1" r="0.95" fill="#5a4a40"/>
<line x1="89.9" y1="244.29999999999998" x2="93.09469297272707" y2="246.53694810176907" stroke="#a89a60" stroke-width="0.85" />
<circle cx="93.1" cy="246.5" r="0.95" fill="#5a4a40"/>
<line x1="89.9" y1="244.29999999999998" x2="87.66305189823093" y2="247.49469297272705" stroke="#a89a60" stroke-width="0.85" />
<circle cx="87.7" cy="247.5" r="0.95" fill="#5a4a40"/>
<line x1="89.9" y1="244.29999999999998" x2="86.70530702727294" y2="242.0630518982309" stroke="#a89a60" stroke-width="0.85" />
<circle cx="86.7" cy="242.1" r="0.95" fill="#5a4a40"/>
<line x1="91.3" y1="262.29999999999995" x2="90.96009260328412" y2="258.41484067744216" stroke="#a89a60" stroke-width="0.85" />
<circle cx="91.0" cy="258.4" r="0.95" fill="#5a4a40"/>
<line x1="91.3" y1="262.29999999999995" x2="87.53288927747263" y2="263.30939427589976" stroke="#a89a60" stroke-width="0.85" />
<circle cx="87.5" cy="263.3" r="0.95" fill="#5a4a40"/>
<line x1="91.3" y1="262.29999999999995" x2="95.06711072252736" y2="263.30939427589976" stroke="#a89a60" stroke-width="0.85" />
<circle cx="95.1" cy="263.3" r="0.95" fill="#5a4a40"/>
<line x1="91.3" y1="262.29999999999995" x2="89.96612144102988" y2="265.964801221065" stroke="#a89a60" stroke-width="0.85" />
<circle cx="90.0" cy="266.0" r="0.95" fill="#5a4a40"/>
<line x1="92.7" y1="280.29999999999995" x2="94.93694810176908" y2="277.1053070272729" stroke="#a89a60" stroke-width="0.85" />
<circle cx="94.9" cy="277.1" r="0.95" fill="#5a4a40"/>
<line x1="92.7" y1="280.29999999999995" x2="95.89469297272707" y2="282.53694810176904" stroke="#a89a60" stroke-width="0.85" />
<circle cx="95.9" cy="282.5" r="0.95" fill="#5a4a40"/>
<line x1="92.7" y1="280.29999999999995" x2="90.46305189823093" y2="283.494692972727" stroke="#a89a60" stroke-width="0.85" />
<circle cx="90.5" cy="283.5" r="0.95" fill="#5a4a40"/>
<line x1="92.7" y1="280.29999999999995" x2="89.50530702727293" y2="278.06305189823087" stroke="#a89a60" stroke-width="0.85" />
<circle cx="89.5" cy="278.1" r="0.95" fill="#5a4a40"/>
<circle cx="31.4" cy="260.1" r="1.7" fill="#b0a050" stroke="#7a6a30" stroke-width="0.4"/>
<circle cx="32.8" cy="278.1" r="1.7" fill="#8478d0" stroke="#5a50a0" stroke-width="0.4"/>
<circle cx="34.2" cy="296.1" r="1.7" fill="#b0a050" stroke="#7a6a30" stroke-width="0.4"/>
<circle cx="32.9" cy="230.7" r="1.7" fill="#b0a050" stroke="#7a6a30" stroke-width="0.4"/>
<circle cx="43.2" cy="228.5" r="1.7" fill="#8478d0" stroke="#5a50a0" stroke-width="0.4"/>
<circle cx="48.1" cy="239.9" r="1.7" fill="#b0a050" stroke="#7a6a30" stroke-width="0.4"/>
<circle cx="57.8" cy="239.9" r="1.7" fill="#8478d0" stroke="#5a50a0" stroke-width="0.4"/>
<circle cx="34.3" cy="248.7" r="1.7" fill="#8478d0" stroke="#5a50a0" stroke-width="0.4"/>
<circle cx="44.6" cy="246.5" r="1.7" fill="#b0a050" stroke="#7a6a30" stroke-width="0.4"/>
<circle cx="49.5" cy="257.9" r="1.7" fill="#8478d0" stroke="#5a50a0" stroke-width="0.4"/>
<circle cx="35.7" cy="266.7" r="1.7" fill="#b0a050" stroke="#7a6a30" stroke-width="0.4"/>
<circle cx="46.0" cy="264.5" r="1.7" fill="#8478d0" stroke="#5a50a0" stroke-width="0.4"/>
<circle cx="37.1" cy="284.7" r="1.7" fill="#8478d0" stroke="#5a50a0" stroke-width="0.4"/>
<circle cx="47.4" cy="282.5" r="1.7" fill="#b0a050" stroke="#7a6a30" stroke-width="0.4"/>
<circle cx="52.3" cy="293.9" r="1.7" fill="#8478d0" stroke="#5a50a0" stroke-width="0.4"/>
<circle cx="62.0" cy="293.9" r="1.7" fill="#b0a050" stroke="#7a6a30" stroke-width="0.4"/>
<circle cx="48.8" cy="300.5" r="1.7" fill="#8478d0" stroke="#5a50a0" stroke-width="0.4"/>
<circle cx="60.7" cy="228.5" r="1.7" fill="#b0a050" stroke="#7a6a30" stroke-width="0.4"/>
<circle cx="71.0" cy="226.3" r="1.7" fill="#8478d0" stroke="#5a50a0" stroke-width="0.4"/>
<circle cx="75.9" cy="237.7" r="1.7" fill="#b0a050" stroke="#7a6a30" stroke-width="0.4"/>
<circle cx="85.6" cy="237.7" r="1.7" fill="#8478d0" stroke="#5a50a0" stroke-width="0.4"/>
<circle cx="62.1" cy="246.5" r="1.7" fill="#8478d0" stroke="#5a50a0" stroke-width="0.4"/>
<circle cx="72.4" cy="244.3" r="1.7" fill="#b0a050" stroke="#7a6a30" stroke-width="0.4"/>
<circle cx="77.3" cy="255.7" r="1.7" fill="#8478d0" stroke="#5a50a0" stroke-width="0.4"/>
<circle cx="87.0" cy="255.7" r="1.7" fill="#b0a050" stroke="#7a6a30" stroke-width="0.4"/>
<circle cx="73.8" cy="262.3" r="1.7" fill="#8478d0" stroke="#5a50a0" stroke-width="0.4"/>
<circle cx="78.7" cy="273.7" r="1.7" fill="#b0a050" stroke="#7a6a30" stroke-width="0.4"/>
<circle cx="88.4" cy="273.7" r="1.7" fill="#8478d0" stroke="#5a50a0" stroke-width="0.4"/>
<circle cx="64.9" cy="282.5" r="1.7" fill="#8478d0" stroke="#5a50a0" stroke-width="0.4"/>
<circle cx="75.2" cy="280.3" r="1.7" fill="#b0a050" stroke="#7a6a30" stroke-width="0.4"/>
<circle cx="80.1" cy="291.7" r="1.7" fill="#8478d0" stroke="#5a50a0" stroke-width="0.4"/>
<circle cx="89.8" cy="291.7" r="1.7" fill="#b0a050" stroke="#7a6a30" stroke-width="0.4"/>
<circle cx="66.3" cy="300.5" r="1.7" fill="#b0a050" stroke="#7a6a30" stroke-width="0.4"/>
<circle cx="76.6" cy="298.3" r="1.7" fill="#8478d0" stroke="#5a50a0" stroke-width="0.4"/>
<circle cx="88.5" cy="226.3" r="1.7" fill="#b0a050" stroke="#7a6a30" stroke-width="0.4"/>
<circle cx="89.9" cy="244.3" r="1.7" fill="#8478d0" stroke="#5a50a0" stroke-width="0.4"/>
<circle cx="91.3" cy="262.3" r="1.7" fill="#b0a050" stroke="#7a6a30" stroke-width="0.4"/>
<circle cx="92.7" cy="280.3" r="1.7" fill="#8478d0" stroke="#5a50a0" stroke-width="0.4"/>
<circle cx="52.4" cy="230.7" r="2" fill="#eef2dc" stroke="#8aa650" stroke-width="1.15"/>
<circle cx="38.9" cy="238.2" r="2" fill="#eef2dc" stroke="#8aa650" stroke-width="1.15"/>
<circle cx="53.8" cy="248.7" r="2" fill="#eef2dc" stroke="#8aa650" stroke-width="1.15"/>
<circle cx="40.3" cy="256.2" r="2" fill="#eef2dc" stroke="#8aa650" stroke-width="1.15"/>
<circle cx="41.7" cy="274.2" r="2" fill="#eef2dc" stroke="#8aa650" stroke-width="1.15"/>
<circle cx="56.6" cy="284.7" r="2" fill="#eef2dc" stroke="#8aa650" stroke-width="1.15"/>
<circle cx="43.1" cy="292.2" r="2" fill="#eef2dc" stroke="#8aa650" stroke-width="1.15"/>
<circle cx="80.2" cy="228.5" r="2" fill="#eef2dc" stroke="#8aa650" stroke-width="1.15"/>
<circle cx="66.7" cy="236.0" r="2" fill="#eef2dc" stroke="#8aa650" stroke-width="1.15"/>
<circle cx="81.6" cy="246.5" r="2" fill="#eef2dc" stroke="#8aa650" stroke-width="1.15"/>
<circle cx="68.1" cy="254.0" r="2" fill="#eef2dc" stroke="#8aa650" stroke-width="1.15"/>
<circle cx="83.0" cy="264.5" r="2" fill="#eef2dc" stroke="#8aa650" stroke-width="1.15"/>
<circle cx="69.5" cy="272.0" r="2" fill="#eef2dc" stroke="#8aa650" stroke-width="1.15"/>
<circle cx="84.4" cy="282.5" r="2" fill="#eef2dc" stroke="#8aa650" stroke-width="1.15"/>
<circle cx="70.9" cy="290.0" r="2" fill="#eef2dc" stroke="#8aa650" stroke-width="1.15"/>
<circle cx="85.8" cy="300.5" r="2" fill="#eef2dc" stroke="#8aa650" stroke-width="1.15"/>
<path d="M49,258.5 Q56,255 63,258.5 Q67,265 64,275 Q57,281 49,277.5 Q44,268 49,258.5 Z" fill="#f0d6dc" fill-opacity="0.8" stroke="#111" stroke-width="1.1" stroke-dasharray="1,0.9"/>
<circle cx="56.1" cy="268.3" r="1.5" fill="#e8f0d0" stroke="#8aae50" stroke-width="0.9"/>
<line x1="65" y1="267.8" x2="92" y2="267.8" stroke="#111" stroke-width="1.3" stroke-dasharray="1.1,1"/>
<path d="M91,265.3 L97.5,267.8 L91,270.3 Z" fill="#111" stroke="none" stroke-width="0.8" />
<path d="M115.8,231 L131.5,231 L131.5,245 L115.8,245 Z" fill="#dcb4e4" stroke="none" stroke-width="0.8" fill-opacity="0.85"/>
<path d="M115.8,245 L131.5,245 L127,252 L124.7,257.6 L117,272 L101.8,272 L103.5,261 L109.3,251 Z" fill="#7272d2" stroke="none" stroke-width="0.8" fill-opacity="0.85"/>
<path d="M132,231 L143.6,221 L149,233.6 L149,247 L142,256 L135,250 L132,245 Z" fill="#e08a48" stroke="none" stroke-width="0.8" fill-opacity="0.85"/>
<path d="M149,240 L160.6,250 L160.4,263.6 L151,272 L142.5,267 L142.5,252 Z" fill="#e8783e" stroke="none" stroke-width="0.8" fill-opacity="0.85"/>
<path d="M120.5,268.7 L131.5,273.8 L130.7,286.5 L127.3,298.4 L116.2,290 L115.4,275.5 Z" fill="#e08a48" stroke="none" stroke-width="0.8" fill-opacity="0.85"/>
<path d="M146,268.7 L158.7,275.5 L157.8,285.7 L145,291.6 L135,280.6 L136.6,272 Z" fill="#8068d0" stroke="none" stroke-width="0.8" fill-opacity="0.85"/>
<path d="M137.4,265 L144,266 L144,272 L137.4,272 Z" fill="#70a8c8" stroke="none" stroke-width="0.8" fill-opacity="0.8"/>
<path d="M132,231 L143.6,221 L142,256 Z" fill="#f0a060" stroke="none" stroke-width="0.8" fill-opacity="0.5"/>
<path d="M115.8,245 L131.5,245 L112,262 Z" fill="#9a90e8" stroke="none" stroke-width="0.8" fill-opacity="0.5"/>
<path d="M120.5,268.7 L130.7,286.5 L116.2,290 Z" fill="#f0a060" stroke="none" stroke-width="0.8" fill-opacity="0.45"/>
<path d="M146,268.7 L157.8,285.7 L135,280.6 Z" fill="#9080e0" stroke="none" stroke-width="0.8" fill-opacity="0.45"/>
<line x1="116.5" y1="232.3" x2="131" y2="232.3" stroke="#9060c8" stroke-width="0.7" />
<line x1="116.5" y1="234.0" x2="131" y2="234.0" stroke="#9060c8" stroke-width="0.7" />
<line x1="116.5" y1="235.70000000000002" x2="131" y2="235.70000000000002" stroke="#9060c8" stroke-width="0.7" />
<line x1="116.5" y1="237.4" x2="131" y2="237.4" stroke="#9060c8" stroke-width="0.7" />
<line x1="116.5" y1="239.10000000000002" x2="131" y2="239.10000000000002" stroke="#9060c8" stroke-width="0.7" />
<line x1="116.5" y1="240.8" x2="131" y2="240.8" stroke="#9060c8" stroke-width="0.7" />
<line x1="116.5" y1="242.5" x2="131" y2="242.5" stroke="#9060c8" stroke-width="0.7" />
<line x1="116.5" y1="244.20000000000002" x2="131" y2="244.20000000000002" stroke="#9060c8" stroke-width="0.7" />
<line x1="121" y1="271" x2="131" y2="268" stroke="#a05a30" stroke-width="0.6" />
<line x1="121" y1="273" x2="131" y2="270" stroke="#a05a30" stroke-width="0.6" />
<line x1="121" y1="275" x2="131" y2="272" stroke="#a05a30" stroke-width="0.6" />
<line x1="121" y1="277" x2="131" y2="274" stroke="#a05a30" stroke-width="0.6" />
<line x1="121" y1="279" x2="131" y2="276" stroke="#a05a30" stroke-width="0.6" />
<line x1="121" y1="281" x2="131" y2="278" stroke="#a05a30" stroke-width="0.6" />
<rect x="128" y="253.4" width="9.4" height="17.8" rx="4.5" fill="#58a050" opacity="0.95"/>
<line x1="128.3" y1="256.0" x2="137.1" y2="256.0" stroke="#3a7a3a" stroke-width="0.5" />
<line x1="128.3" y1="258.4" x2="137.1" y2="258.4" stroke="#3a7a3a" stroke-width="0.5" />
<line x1="128.3" y1="260.8" x2="137.1" y2="260.8" stroke="#3a7a3a" stroke-width="0.5" />
<line x1="128.3" y1="263.2" x2="137.1" y2="263.2" stroke="#3a7a3a" stroke-width="0.5" />
<line x1="128.3" y1="265.6" x2="137.1" y2="265.6" stroke="#3a7a3a" stroke-width="0.5" />
<line x1="128.3" y1="268.0" x2="137.1" y2="268.0" stroke="#3a7a3a" stroke-width="0.5" />
<circle cx="132.4" cy="267.0" r="2.6" fill="#a0f090" filter="url(#blur06)"/>
<rect x="142.0" y="219.7" width="3.2" height="13.100000000000023" fill="#857540" stroke="none" stroke-width="0.8" rx="1.2"/>
<line x1="142.0" y1="220.7" x2="145.2" y2="220.7" stroke="#4a4020" stroke-width="0.4" />
<line x1="142.0" y1="222.1" x2="145.2" y2="222.1" stroke="#4a4020" stroke-width="0.4" />
<line x1="142.0" y1="223.5" x2="145.2" y2="223.5" stroke="#4a4020" stroke-width="0.4" />
<line x1="142.0" y1="224.89999999999998" x2="145.2" y2="224.89999999999998" stroke="#4a4020" stroke-width="0.4" />
<line x1="142.0" y1="226.29999999999998" x2="145.2" y2="226.29999999999998" stroke="#4a4020" stroke-width="0.4" />
<line x1="142.0" y1="227.7" x2="145.2" y2="227.7" stroke="#4a4020" stroke-width="0.4" />
<line x1="142.0" y1="229.1" x2="145.2" y2="229.1" stroke="#4a4020" stroke-width="0.4" />
<line x1="142.0" y1="230.5" x2="145.2" y2="230.5" stroke="#4a4020" stroke-width="0.4" />
<rect x="114.2" y="231.3" width="3.2" height="13.899999999999977" fill="#857540" stroke="none" stroke-width="0.8" rx="1.2"/>
<line x1="114.2" y1="232.3" x2="117.39999999999999" y2="232.3" stroke="#4a4020" stroke-width="0.4" />
<line x1="114.2" y1="233.70000000000002" x2="117.39999999999999" y2="233.70000000000002" stroke="#4a4020" stroke-width="0.4" />
<line x1="114.2" y1="235.10000000000002" x2="117.39999999999999" y2="235.10000000000002" stroke="#4a4020" stroke-width="0.4" />
<line x1="114.2" y1="236.5" x2="117.39999999999999" y2="236.5" stroke="#4a4020" stroke-width="0.4" />
<line x1="114.2" y1="237.9" x2="117.39999999999999" y2="237.9" stroke="#4a4020" stroke-width="0.4" />
<line x1="114.2" y1="239.3" x2="117.39999999999999" y2="239.3" stroke="#4a4020" stroke-width="0.4" />
<line x1="114.2" y1="240.70000000000002" x2="117.39999999999999" y2="240.70000000000002" stroke="#4a4020" stroke-width="0.4" />
<line x1="114.2" y1="242.10000000000002" x2="117.39999999999999" y2="242.10000000000002" stroke="#4a4020" stroke-width="0.4" />
<line x1="114.2" y1="243.5" x2="117.39999999999999" y2="243.5" stroke="#4a4020" stroke-width="0.4" />
<rect x="130.4" y="231.3" width="3.2" height="13.899999999999977" fill="#857540" stroke="none" stroke-width="0.8" rx="1.2"/>
<line x1="130.4" y1="232.3" x2="133.6" y2="232.3" stroke="#4a4020" stroke-width="0.4" />
<line x1="130.4" y1="233.70000000000002" x2="133.6" y2="233.70000000000002" stroke="#4a4020" stroke-width="0.4" />
<line x1="130.4" y1="235.10000000000002" x2="133.6" y2="235.10000000000002" stroke="#4a4020" stroke-width="0.4" />
<line x1="130.4" y1="236.5" x2="133.6" y2="236.5" stroke="#4a4020" stroke-width="0.4" />
<line x1="130.4" y1="237.9" x2="133.6" y2="237.9" stroke="#4a4020" stroke-width="0.4" />
<line x1="130.4" y1="239.3" x2="133.6" y2="239.3" stroke="#4a4020" stroke-width="0.4" />
<line x1="130.4" y1="240.70000000000002" x2="133.6" y2="240.70000000000002" stroke="#4a4020" stroke-width="0.4" />
<line x1="130.4" y1="242.10000000000002" x2="133.6" y2="242.10000000000002" stroke="#4a4020" stroke-width="0.4" />
<line x1="130.4" y1="243.5" x2="133.6" y2="243.5" stroke="#4a4020" stroke-width="0.4" />
<rect x="147.4" y="233.6" width="3.2" height="13.099999999999994" fill="#857540" stroke="none" stroke-width="0.8" rx="1.2"/>
<line x1="147.4" y1="234.6" x2="150.6" y2="234.6" stroke="#4a4020" stroke-width="0.4" />
<line x1="147.4" y1="236.0" x2="150.6" y2="236.0" stroke="#4a4020" stroke-width="0.4" />
<line x1="147.4" y1="237.4" x2="150.6" y2="237.4" stroke="#4a4020" stroke-width="0.4" />
<line x1="147.4" y1="238.79999999999998" x2="150.6" y2="238.79999999999998" stroke="#4a4020" stroke-width="0.4" />
<line x1="147.4" y1="240.2" x2="150.6" y2="240.2" stroke="#4a4020" stroke-width="0.4" />
<line x1="147.4" y1="241.6" x2="150.6" y2="241.6" stroke="#4a4020" stroke-width="0.4" />
<line x1="147.4" y1="243.0" x2="150.6" y2="243.0" stroke="#4a4020" stroke-width="0.4" />
<line x1="147.4" y1="244.4" x2="150.6" y2="244.4" stroke="#4a4020" stroke-width="0.4" />
<rect x="108.10000000000001" y="245.2" width="3.2" height="13.100000000000023" fill="#857540" stroke="none" stroke-width="0.8" rx="1.2"/>
<line x1="108.10000000000001" y1="246.2" x2="111.3" y2="246.2" stroke="#4a4020" stroke-width="0.4" />
<line x1="108.10000000000001" y1="247.6" x2="111.3" y2="247.6" stroke="#4a4020" stroke-width="0.4" />
<line x1="108.10000000000001" y1="249.0" x2="111.3" y2="249.0" stroke="#4a4020" stroke-width="0.4" />
<line x1="108.10000000000001" y1="250.39999999999998" x2="111.3" y2="250.39999999999998" stroke="#4a4020" stroke-width="0.4" />
<line x1="108.10000000000001" y1="251.79999999999998" x2="111.3" y2="251.79999999999998" stroke="#4a4020" stroke-width="0.4" />
<line x1="108.10000000000001" y1="253.2" x2="111.3" y2="253.2" stroke="#4a4020" stroke-width="0.4" />
<line x1="108.10000000000001" y1="254.6" x2="111.3" y2="254.6" stroke="#4a4020" stroke-width="0.4" />
<line x1="108.10000000000001" y1="256.0" x2="111.3" y2="256.0" stroke="#4a4020" stroke-width="0.4" />
<rect x="159.0" y="250.6" width="3.2" height="13.400000000000006" fill="#857540" stroke="none" stroke-width="0.8" rx="1.2"/>
<line x1="159.0" y1="251.6" x2="162.2" y2="251.6" stroke="#4a4020" stroke-width="0.4" />
<line x1="159.0" y1="253.0" x2="162.2" y2="253.0" stroke="#4a4020" stroke-width="0.4" />
<line x1="159.0" y1="254.4" x2="162.2" y2="254.4" stroke="#4a4020" stroke-width="0.4" />
<line x1="159.0" y1="255.79999999999998" x2="162.2" y2="255.79999999999998" stroke="#4a4020" stroke-width="0.4" />
<line x1="159.0" y1="257.2" x2="162.2" y2="257.2" stroke="#4a4020" stroke-width="0.4" />
<line x1="159.0" y1="258.6" x2="162.2" y2="258.6" stroke="#4a4020" stroke-width="0.4" />
<line x1="159.0" y1="260.0" x2="162.2" y2="260.0" stroke="#4a4020" stroke-width="0.4" />
<line x1="159.0" y1="261.4" x2="162.2" y2="261.4" stroke="#4a4020" stroke-width="0.4" />
<rect x="121.9" y="256" width="3.2" height="6" fill="#857540" stroke="none" stroke-width="0.8" rx="1.2"/>
<line x1="121.9" y1="257.0" x2="125.1" y2="257.0" stroke="#4a4020" stroke-width="0.4" />
<line x1="121.9" y1="258.4" x2="125.1" y2="258.4" stroke="#4a4020" stroke-width="0.4" />
<line x1="121.9" y1="259.8" x2="125.1" y2="259.8" stroke="#4a4020" stroke-width="0.4" />
<rect x="99.4" y="260" width="3.2" height="13" fill="#857540" stroke="none" stroke-width="0.8" rx="1.2"/>
<line x1="99.4" y1="261.0" x2="102.6" y2="261.0" stroke="#4a4020" stroke-width="0.4" />
<line x1="99.4" y1="262.4" x2="102.6" y2="262.4" stroke="#4a4020" stroke-width="0.4" />
<line x1="99.4" y1="263.8" x2="102.6" y2="263.8" stroke="#4a4020" stroke-width="0.4" />
<line x1="99.4" y1="265.2" x2="102.6" y2="265.2" stroke="#4a4020" stroke-width="0.4" />
<line x1="99.4" y1="266.6" x2="102.6" y2="266.6" stroke="#4a4020" stroke-width="0.4" />
<line x1="99.4" y1="268.0" x2="102.6" y2="268.0" stroke="#4a4020" stroke-width="0.4" />
<line x1="99.4" y1="269.4" x2="102.6" y2="269.4" stroke="#4a4020" stroke-width="0.4" />
<line x1="99.4" y1="270.8" x2="102.6" y2="270.8" stroke="#4a4020" stroke-width="0.4" />
<rect x="144.4" y="272" width="3.2" height="3.5" fill="#857540" stroke="none" stroke-width="0.8" rx="1.2"/>
<line x1="144.4" y1="273.0" x2="147.6" y2="273.0" stroke="#4a4020" stroke-width="0.4" />
<rect x="157.1" y="274.6" width="3.2" height="11.899999999999977" fill="#857540" stroke="none" stroke-width="0.8" rx="1.2"/>
<line x1="157.1" y1="275.6" x2="160.29999999999998" y2="275.6" stroke="#4a4020" stroke-width="0.4" />
<line x1="157.1" y1="277.0" x2="160.29999999999998" y2="277.0" stroke="#4a4020" stroke-width="0.4" />
<line x1="157.1" y1="278.40000000000003" x2="160.29999999999998" y2="278.40000000000003" stroke="#4a4020" stroke-width="0.4" />
<line x1="157.1" y1="279.8" x2="160.29999999999998" y2="279.8" stroke="#4a4020" stroke-width="0.4" />
<line x1="157.1" y1="281.20000000000005" x2="160.29999999999998" y2="281.20000000000005" stroke="#4a4020" stroke-width="0.4" />
<line x1="157.1" y1="282.6" x2="160.29999999999998" y2="282.6" stroke="#4a4020" stroke-width="0.4" />
<line x1="157.1" y1="284.0" x2="160.29999999999998" y2="284.0" stroke="#4a4020" stroke-width="0.4" />
<rect x="143.4" y="289" width="3.2" height="3.3999999999999773" fill="#857540" stroke="none" stroke-width="0.8" rx="1.2"/>
<line x1="143.4" y1="290.0" x2="146.6" y2="290.0" stroke="#4a4020" stroke-width="0.4" />
<rect x="125.7" y="295.5" width="3.2" height="4.5" fill="#857540" stroke="none" stroke-width="0.8" rx="1.2"/>
<line x1="125.7" y1="296.5" x2="128.9" y2="296.5" stroke="#4a4020" stroke-width="0.4" />
<line x1="125.7" y1="297.9" x2="128.9" y2="297.9" stroke="#4a4020" stroke-width="0.4" />
<rect x="139.9" y="256" width="3.2" height="4" fill="#857540" stroke="none" stroke-width="0.8" rx="1.2"/>
<line x1="139.9" y1="257.0" x2="143.1" y2="257.0" stroke="#4a4020" stroke-width="0.4" />
<line x1="139.9" y1="258.4" x2="143.1" y2="258.4" stroke="#4a4020" stroke-width="0.4" />
<text x="180.4" y="211" font-size="10.2" fill="#111" stroke="#111" stroke-width="0.3" font-family='"Liberation Sans", sans-serif'>(g)</text>
<rect x="209" y="212.4" width="125" height="84.9" fill="none" stroke="#222" stroke-width="0.8" />
<line x1="209" y1="297.3" x2="210.5" y2="297.3" stroke="#000" stroke-width="0.6" />
<text x="207.5" y="299.3" font-size="5.8" font-weight="bold" fill="#000" text-anchor="end" font-family='"Liberation Sans", sans-serif' >0.0</text>
<line x1="209" y1="287.8" x2="210.5" y2="287.8" stroke="#000" stroke-width="0.6" />
<text x="207.5" y="289.8" font-size="5.8" font-weight="bold" fill="#000" text-anchor="end" font-family='"Liberation Sans", sans-serif' >0.5</text>
<line x1="209" y1="278.3" x2="210.5" y2="278.3" stroke="#000" stroke-width="0.6" />
<text x="207.5" y="280.3" font-size="5.8" font-weight="bold" fill="#000" text-anchor="end" font-family='"Liberation Sans", sans-serif' >1.0</text>
<line x1="209" y1="268.8" x2="210.5" y2="268.8" stroke="#000" stroke-width="0.6" />
<text x="207.5" y="270.8" font-size="5.8" font-weight="bold" fill="#000" text-anchor="end" font-family='"Liberation Sans", sans-serif' >1.5</text>
<line x1="209" y1="259.3" x2="210.5" y2="259.3" stroke="#000" stroke-width="0.6" />
<text x="207.5" y="261.3" font-size="5.8" font-weight="bold" fill="#000" text-anchor="end" font-family='"Liberation Sans", sans-serif' >2.0</text>
<line x1="209" y1="249.8" x2="210.5" y2="249.8" stroke="#000" stroke-width="0.6" />
<text x="207.5" y="251.8" font-size="5.8" font-weight="bold" fill="#000" text-anchor="end" font-family='"Liberation Sans", sans-serif' >2.5</text>
<line x1="209" y1="240.3" x2="210.5" y2="240.3" stroke="#000" stroke-width="0.6" />
<text x="207.5" y="242.3" font-size="5.8" font-weight="bold" fill="#000" text-anchor="end" font-family='"Liberation Sans", sans-serif' >3.0</text>
<line x1="209" y1="230.8" x2="210.5" y2="230.8" stroke="#000" stroke-width="0.6" />
<text x="207.5" y="232.8" font-size="5.8" font-weight="bold" fill="#000" text-anchor="end" font-family='"Liberation Sans", sans-serif' >3.5</text>
<line x1="209" y1="221.3" x2="210.5" y2="221.3" stroke="#000" stroke-width="0.6" />
<text x="207.5" y="223.3" font-size="5.8" font-weight="bold" fill="#000" text-anchor="end" font-family='"Liberation Sans", sans-serif' >4.0</text>
<line x1="209" y1="211.8" x2="210.5" y2="211.8" stroke="#000" stroke-width="0.6" />
<text x="207.5" y="213.8" font-size="5.8" font-weight="bold" fill="#000" text-anchor="end" font-family='"Liberation Sans", sans-serif' >4.5</text>
<line x1="214.7" y1="297.3" x2="214.7" y2="295.8" stroke="#000" stroke-width="0.6" />
<text x="214.7" y="303.2" font-size="5.8" font-weight="bold" fill="#000" text-anchor="middle" font-family='"Liberation Sans", sans-serif' >0</text>
<line x1="235.79999999999998" y1="297.3" x2="235.79999999999998" y2="295.8" stroke="#000" stroke-width="0.6" />
<text x="235.79999999999998" y="303.2" font-size="5.8" font-weight="bold" fill="#000" text-anchor="middle" font-family='"Liberation Sans", sans-serif' >20</text>
<line x1="256.9" y1="297.3" x2="256.9" y2="295.8" stroke="#000" stroke-width="0.6" />
<text x="256.9" y="303.2" font-size="5.8" font-weight="bold" fill="#000" text-anchor="middle" font-family='"Liberation Sans", sans-serif' >40</text>
<line x1="278.0" y1="297.3" x2="278.0" y2="295.8" stroke="#000" stroke-width="0.6" />
<text x="278.0" y="303.2" font-size="5.8" font-weight="bold" fill="#000" text-anchor="middle" font-family='"Liberation Sans", sans-serif' >60</text>
<line x1="299.09999999999997" y1="297.3" x2="299.09999999999997" y2="295.8" stroke="#000" stroke-width="0.6" />
<text x="299.09999999999997" y="303.2" font-size="5.8" font-weight="bold" fill="#000" text-anchor="middle" font-family='"Liberation Sans", sans-serif' >80</text>
<line x1="320.2" y1="297.3" x2="320.2" y2="295.8" stroke="#000" stroke-width="0.6" />
<text x="320.2" y="303.2" font-size="5.8" font-weight="bold" fill="#000" text-anchor="middle" font-family='"Liberation Sans", sans-serif' >100</text>
<text x="268.3" y="313" font-size="6.6" font-weight="bold" fill="#000" text-anchor="middle" font-family='"Liberation Sans", sans-serif' >Capacity (mAh/g)</text>
<text x="195.5" y="255" font-size="6.2" font-weight="bold" fill="#000" text-anchor="middle" font-family='"Liberation Sans", sans-serif' transform="rotate(-90 195.5 255)" >Voltage (V)</text>
<text x="321" y="219.6" font-size="6.6" font-weight="bold" fill="#000" text-anchor="middle" font-family='"Liberation Sans", sans-serif' >0.2 C</text>
<polyline points="214.70,221.30 214.76,221.84 214.82,222.59 214.89,223.49 214.98,224.47 215.08,225.47 215.21,226.43 215.36,227.27 215.54,227.95 215.74,228.45 215.94,228.85 216.15,229.16 216.39,229.41 216.67,229.64 217.00,229.86 217.39,230.11 217.86,230.42 218.39,230.75 218.94,231.06 219.53,231.38 220.19,231.70 220.92,232.06 221.75,232.46 222.70,232.92 223.77,233.46 225.03,234.10 226.47,234.85 228.06,235.67 229.72,236.54 231.42,237.40 233.10,238.25 234.72,239.03 236.22,239.73 237.56,240.31 238.76,240.80 239.89,241.23 241.00,241.64 242.17,242.06 243.44,242.52 244.88,243.06 246.56,243.72 248.51,244.49 250.69,245.33 253.05,246.24 255.51,247.20 258.02,248.20 260.52,249.23 262.94,250.27 265.23,251.32 267.41,252.38 269.53,253.47 271.60,254.58 273.65,255.71 275.69,256.87 277.71,258.04 279.75,259.24 281.80,260.44 283.87,261.65 285.96,262.88 288.06,264.11 290.15,265.37 292.23,266.65 294.28,267.96 296.29,269.31 298.26,270.70 300.22,272.19 302.22,273.81 304.22,275.50 306.18,277.20 308.05,278.86 309.81,280.42 311.41,281.84 312.81,283.05 314.03,284.07 315.10,284.96 316.03,285.73 316.84,286.39 317.53,286.95 318.12,287.43 318.62,287.83 319.04,288.18" fill="none" stroke="#d0b090" stroke-width="0.9" />
<polyline points="214.70,221.30 214.75,221.84 214.81,222.59 214.88,223.49 214.97,224.47 215.07,225.47 215.19,226.43 215.34,227.27 215.51,227.95 215.70,228.45 215.89,228.85 216.10,229.16 216.33,229.41 216.60,229.64 216.92,229.86 217.30,230.11 217.75,230.42 218.26,230.75 218.79,231.06 219.36,231.38 219.99,231.70 220.70,232.06 221.51,232.46 222.42,232.92 223.46,233.46 224.67,234.10 226.06,234.85 227.59,235.67 229.19,236.54 230.84,237.40 232.46,238.25 234.02,239.03 235.47,239.73 236.76,240.31 237.92,240.80 239.01,241.23 240.08,241.64 241.20,242.06 242.43,242.52 243.83,243.06 245.45,243.72 247.33,244.49 249.43,245.33 251.70,246.24 254.08,247.20 256.50,248.20 258.92,249.23 261.26,250.27 263.47,251.32 265.56,252.38 267.61,253.47 269.61,254.58 271.59,255.71 273.55,256.87 275.51,258.04 277.47,259.24 279.45,260.44 281.45,261.65 283.47,262.88 285.49,264.11 287.51,265.37 289.51,266.65 291.49,267.96 293.43,269.31 295.33,270.70 297.23,272.19 299.16,273.81 301.09,275.50 302.97,277.20 304.78,278.86 306.48,280.42 308.02,281.84 309.38,283.05 310.56,284.07 311.59,284.96 312.49,285.73 313.26,286.39 313.93,286.95 314.50,287.43 314.98,287.83 315.39,288.18" fill="none" stroke="#2a1a1a" stroke-width="1.25" />
<polyline points="214.70,221.87 214.75,222.41 214.81,223.16 214.88,224.06 214.96,225.04 215.06,226.04 215.18,227.00 215.32,227.84 215.49,228.52 215.68,229.02 215.86,229.42 216.06,229.73 216.29,229.98 216.55,230.21 216.86,230.43 217.23,230.68 217.68,230.99 218.17,231.32 218.68,231.63 219.24,231.95 219.86,232.27 220.55,232.63 221.33,233.03 222.22,233.49 223.23,234.03 224.41,234.67 225.77,235.42 227.25,236.24 228.82,237.11 230.42,237.97 232.00,238.82 233.52,239.60 234.93,240.30 236.19,240.88 237.32,241.37 238.38,241.80 239.42,242.21 240.52,242.63 241.72,243.09 243.07,243.63 244.65,244.29 246.48,245.06 248.53,245.90 250.75,246.81 253.06,247.77 255.42,248.77 257.77,249.80 260.05,250.84 262.20,251.89 264.24,252.95 266.24,254.04 268.19,255.15 270.12,256.28 272.03,257.44 273.93,258.61 275.84,259.81 277.77,261.01 279.72,262.22 281.69,263.45 283.66,264.68 285.63,265.94 287.58,267.22 289.50,268.53 291.39,269.88 293.24,271.27 295.09,272.76 296.97,274.38 298.85,276.07 300.69,277.77 302.45,279.43 304.10,280.99 305.60,282.41 306.93,283.62 308.07,284.64 309.08,285.53 309.95,286.30 310.71,286.96 311.36,287.52 311.91,288.00 312.38,288.40 312.78,288.75" fill="none" stroke="#6a6a8a" stroke-width="0.8" />
<polyline points="214.70,287.23 214.71,286.06 214.73,284.45 214.75,282.53 214.78,280.43 214.81,278.26 214.84,276.15 214.87,274.22 214.91,272.60 214.94,271.27 214.96,270.10 214.97,269.06 215.00,268.11 215.03,267.21 215.10,266.32 215.19,265.41 215.33,264.43 215.50,263.39 215.67,262.31 215.86,261.22 216.08,260.14 216.35,259.09 216.67,258.08 217.07,257.13 217.55,256.26 218.09,255.49 218.68,254.79 219.32,254.15 220.02,253.56 220.81,253.00 221.69,252.45 222.67,251.90 223.77,251.32 225.05,250.72 226.50,250.12 228.08,249.52 229.74,248.92 231.43,248.34 233.11,247.78 234.72,247.25 236.22,246.76 237.56,246.31 238.76,245.92 239.89,245.55 241.00,245.20 242.17,244.86 243.44,244.51 244.88,244.14 246.56,243.72 248.48,243.27 250.60,242.81 252.87,242.34 255.25,241.84 257.72,241.34 260.23,240.82 262.75,240.28 265.23,239.73 267.72,239.16 270.26,238.58 272.84,237.97 275.45,237.36 278.07,236.73 280.70,236.09 283.31,235.44 285.91,234.79 288.54,234.12 291.23,233.42 293.94,232.70 296.63,231.98 299.28,231.26 301.85,230.56 304.30,229.90 306.59,229.28 308.80,228.68 311.00,228.08 313.14,227.50 315.16,226.94 317.03,226.43 318.68,225.97 320.07,225.59 321.15,225.29" fill="none" stroke="#d0b0a0" stroke-width="0.9" />
<polyline points="214.70,287.23 214.71,286.06 214.73,284.45 214.75,282.53 214.78,280.43 214.80,278.26 214.84,276.15 214.87,274.22 214.91,272.60 214.94,271.27 214.95,270.10 214.97,269.06 214.99,268.11 215.03,267.21 215.09,266.32 215.18,265.41 215.32,264.43 215.48,263.39 215.64,262.31 215.83,261.22 216.04,260.14 216.30,259.09 216.62,258.08 217.01,257.13 217.48,256.26 218.01,255.49 218.58,254.79 219.20,254.15 219.89,253.56 220.65,253.00 221.51,252.45 222.47,251.90 223.55,251.32 224.79,250.72 226.20,250.12 227.74,249.52 229.36,248.92 231.02,248.34 232.65,247.78 234.22,247.25 235.68,246.76 236.99,246.31 238.16,245.92 239.26,245.55 240.34,245.20 241.48,244.86 242.72,244.51 244.13,244.14 245.76,243.72 247.64,243.27 249.70,242.81 251.91,242.34 254.24,241.84 256.64,241.34 259.09,240.82 261.55,240.28 263.97,239.73 266.40,239.16 268.87,238.58 271.39,237.97 273.93,237.36 276.49,236.73 279.05,236.09 281.60,235.44 284.13,234.79 286.69,234.12 289.31,233.42 291.95,232.70 294.59,231.98 297.17,231.26 299.67,230.56 302.06,229.90 304.29,229.28 306.45,228.68 308.59,228.08 310.68,227.50 312.65,226.94 314.47,226.43 316.08,225.97 317.43,225.59 318.49,225.29" fill="none" stroke="#2a1a1a" stroke-width="1.25" />
<polyline points="214.70,287.61 214.71,286.44 214.73,284.83 214.75,282.91 214.78,280.81 214.80,278.64 214.83,276.53 214.87,274.60 214.90,272.98 214.93,271.65 214.95,270.48 214.96,269.44 214.98,268.49 215.02,267.59 215.08,266.70 215.17,265.79 215.31,264.81 215.46,263.77 215.63,262.69 215.81,261.60 216.02,260.52 216.28,259.47 216.59,258.46 216.97,257.51 217.43,256.64 217.96,255.87 218.52,255.17 219.13,254.53 219.81,253.94 220.56,253.38 221.41,252.83 222.35,252.28 223.41,251.70 224.63,251.10 226.03,250.50 227.54,249.90 229.14,249.30 230.77,248.72 232.38,248.16 233.92,247.63 235.36,247.14 236.64,246.69 237.80,246.30 238.88,245.93 239.95,245.58 241.07,245.24 242.29,244.89 243.68,244.52 245.29,244.10 247.13,243.65 249.16,243.19 251.34,242.72 253.63,242.22 256.00,241.72 258.41,241.20 260.83,240.66 263.21,240.11 265.60,239.54 268.04,238.96 270.52,238.35 273.02,237.74 275.54,237.11 278.06,236.47 280.57,235.82 283.06,235.17 285.59,234.50 288.16,233.80 290.77,233.08 293.36,232.36 295.90,231.64 298.37,230.94 300.71,230.28 302.91,229.66 305.04,229.06 307.15,228.46 309.20,227.88 311.14,227.32 312.93,226.81 314.52,226.35 315.85,225.97 316.89,225.67" fill="none" stroke="#7a4a4a" stroke-width="0.8" />
<rect x="223.2" y="274.2" width="1.8" height="10.600000000000023" fill="#e4e2ee" stroke="none" stroke-width="0.8" rx="0.9"/>
<line x1="224.1" y1="284.8" x2="224.1" y2="274.6" stroke="#7a7060" stroke-width="1.1" />
<circle cx="224.1" cy="284.8" r="1.8" fill="#9a9080" stroke="#7a7060" stroke-width="0.6"/>
<rect x="235.5" y="272" width="1.8" height="12.800000000000011" fill="#e4e2ee" stroke="none" stroke-width="0.8" rx="0.9"/>
<line x1="236.4" y1="284.8" x2="236.4" y2="279.8" stroke="#4a4a5a" stroke-width="1.1" />
<circle cx="236.4" cy="284.8" r="1.8" fill="#b8b8c0" stroke="#4a4a5a" stroke-width="0.6"/>
<rect x="248.2" y="272" width="1.8" height="12.800000000000011" fill="#e4e2ee" stroke="none" stroke-width="0.8" rx="0.9"/>
<line x1="249.1" y1="284.8" x2="249.1" y2="281.6" stroke="#4a4aa8" stroke-width="1.1" />
<circle cx="249.1" cy="284.8" r="1.8" fill="#8a8ad0" stroke="#4a4aa8" stroke-width="0.6"/>
<text x="240.5" y="293.2" font-size="5.0" font-weight="bold" fill="#000" text-anchor="middle" font-family='"Liberation Sans", sans-serif' textLength="46" lengthAdjust="spacingAndGlyphs">60 °C 25 °C−20 °C</text>
<text x="358.3" y="216.2" font-size="11" fill="#111" stroke="#111" stroke-width="0.3" font-family='"Liberation Sans", sans-serif'>(h)</text>
<rect x="394.5" y="214" width="131.10000000000002" height="89.30000000000001" fill="none" stroke="#222" stroke-width="0.8" />
<line x1="394.5" y1="302.9" x2="396.0" y2="302.9" stroke="#000" stroke-width="0.6" />
<text x="393.0" y="304.9" font-size="5.8" font-weight="bold" fill="#000" text-anchor="end" font-family='"Liberation Sans", sans-serif' >0</text>
<line x1="394.5" y1="288.25" x2="396.0" y2="288.25" stroke="#000" stroke-width="0.6" />
<text x="393.0" y="290.25" font-size="5.8" font-weight="bold" fill="#000" text-anchor="end" font-family='"Liberation Sans", sans-serif' >20</text>
<line x1="394.5" y1="273.59999999999997" x2="396.0" y2="273.59999999999997" stroke="#000" stroke-width="0.6" />
<text x="393.0" y="275.59999999999997" font-size="5.8" font-weight="bold" fill="#000" text-anchor="end" font-family='"Liberation Sans", sans-serif' >40</text>
<line x1="394.5" y1="258.95" x2="396.0" y2="258.95" stroke="#000" stroke-width="0.6" />
<text x="393.0" y="260.95" font-size="5.8" font-weight="bold" fill="#000" text-anchor="end" font-family='"Liberation Sans", sans-serif' >60</text>
<line x1="394.5" y1="244.29999999999998" x2="396.0" y2="244.29999999999998" stroke="#000" stroke-width="0.6" />
<text x="393.0" y="246.29999999999998" font-size="5.8" font-weight="bold" fill="#000" text-anchor="end" font-family='"Liberation Sans", sans-serif' >80</text>
<line x1="394.5" y1="229.64999999999998" x2="396.0" y2="229.64999999999998" stroke="#000" stroke-width="0.6" />
<text x="393.0" y="231.64999999999998" font-size="5.8" font-weight="bold" fill="#000" text-anchor="end" font-family='"Liberation Sans", sans-serif' >100</text>
<line x1="394.5" y1="214.99999999999997" x2="396.0" y2="214.99999999999997" stroke="#000" stroke-width="0.6" />
<text x="393.0" y="216.99999999999997" font-size="5.8" font-weight="bold" fill="#000" text-anchor="end" font-family='"Liberation Sans", sans-serif' >120</text>
<line x1="395.0" y1="303.3" x2="395.0" y2="301.8" stroke="#000" stroke-width="0.6" />
<text x="395.0" y="309.2" font-size="5.8" font-weight="bold" fill="#000" text-anchor="middle" font-family='"Liberation Sans", sans-serif' >0</text>
<line x1="416.25" y1="303.3" x2="416.25" y2="301.8" stroke="#000" stroke-width="0.6" />
<text x="416.25" y="309.2" font-size="5.8" font-weight="bold" fill="#000" text-anchor="middle" font-family='"Liberation Sans", sans-serif' >10</text>
<line x1="437.5" y1="303.3" x2="437.5" y2="301.8" stroke="#000" stroke-width="0.6" />
<text x="437.5" y="309.2" font-size="5.8" font-weight="bold" fill="#000" text-anchor="middle" font-family='"Liberation Sans", sans-serif' >20</text>
<line x1="458.75" y1="303.3" x2="458.75" y2="301.8" stroke="#000" stroke-width="0.6" />
<text x="458.75" y="309.2" font-size="5.8" font-weight="bold" fill="#000" text-anchor="middle" font-family='"Liberation Sans", sans-serif' >30</text>
<line x1="480.0" y1="303.3" x2="480.0" y2="301.8" stroke="#000" stroke-width="0.6" />
<text x="480.0" y="309.2" font-size="5.8" font-weight="bold" fill="#000" text-anchor="middle" font-family='"Liberation Sans", sans-serif' >40</text>
<line x1="501.25" y1="303.3" x2="501.25" y2="301.8" stroke="#000" stroke-width="0.6" />
<text x="501.25" y="309.2" font-size="5.8" font-weight="bold" fill="#000" text-anchor="middle" font-family='"Liberation Sans", sans-serif' >50</text>
<line x1="522.5" y1="303.3" x2="522.5" y2="301.8" stroke="#000" stroke-width="0.6" />
<text x="522.5" y="309.2" font-size="5.8" font-weight="bold" fill="#000" text-anchor="middle" font-family='"Liberation Sans", sans-serif' >60</text>
<text x="458" y="317.3" font-size="6.05" font-weight="bold" fill="#000" text-anchor="middle" font-family='"Liberation Sans", sans-serif' >Cycle numbers</text>
<text x="377.6" y="265.6" font-size="6.6" font-weight="bold" fill="#000" text-anchor="middle" font-family='"Liberation Sans", sans-serif' transform="rotate(-90 377.6 265.6)" textLength="51" lengthAdjust="spacingAndGlyphs">Capacity (mAh/g)</text>
<rect x="395" y="223.0" width="21.5" height="4" fill="#f8d4e2" stroke="none" stroke-width="0.8" opacity="0.55"/>
<rect x="395" y="228.45" width="21.5" height="3.3" fill="#9a7a5a" stroke="none" stroke-width="0.8" />
<line x1="395.0" y1="228.45" x2="395.0" y2="231.75" stroke="#6a4a3a" stroke-width="0.4" />
<line x1="397.15" y1="228.45" x2="397.15" y2="231.75" stroke="#6a4a3a" stroke-width="0.4" />
<line x1="399.3" y1="228.45" x2="399.3" y2="231.75" stroke="#6a4a3a" stroke-width="0.4" />
<line x1="401.45" y1="228.45" x2="401.45" y2="231.75" stroke="#6a4a3a" stroke-width="0.4" />
<line x1="403.6" y1="228.45" x2="403.6" y2="231.75" stroke="#6a4a3a" stroke-width="0.4" />
<line x1="405.75" y1="228.45" x2="405.75" y2="231.75" stroke="#6a4a3a" stroke-width="0.4" />
<line x1="407.9" y1="228.45" x2="407.9" y2="231.75" stroke="#6a4a3a" stroke-width="0.4" />
<line x1="410.05" y1="228.45" x2="410.05" y2="231.75" stroke="#6a4a3a" stroke-width="0.4" />
<line x1="412.2" y1="228.45" x2="412.2" y2="231.75" stroke="#6a4a3a" stroke-width="0.4" />
<line x1="414.35" y1="228.45" x2="414.35" y2="231.75" stroke="#6a4a3a" stroke-width="0.4" />
<line x1="416.5" y1="228.45" x2="416.5" y2="231.75" stroke="#6a4a3a" stroke-width="0.4" />
<rect x="395" y="232.54999999999998" width="21.5" height="1.3" fill="#151515" stroke="none" stroke-width="0.8" />
<rect x="395" y="235.25" width="21.5" height="2.5" fill="#7474c4" stroke="none" stroke-width="0.8" />
<rect x="417" y="238.5" width="22" height="4" fill="#f8d4e2" stroke="none" stroke-width="0.8" opacity="0.55"/>
<rect x="417" y="243.25" width="22" height="3.3" fill="#9a7a5a" stroke="none" stroke-width="0.8" />
<line x1="417.0" y1="243.25" x2="417.0" y2="246.55" stroke="#6a4a3a" stroke-width="0.4" />
<line x1="419.2" y1="243.25" x2="419.2" y2="246.55" stroke="#6a4a3a" stroke-width="0.4" />
<line x1="421.4" y1="243.25" x2="421.4" y2="246.55" stroke="#6a4a3a" stroke-width="0.4" />
<line x1="423.6" y1="243.25" x2="423.6" y2="246.55" stroke="#6a4a3a" stroke-width="0.4" />
<line x1="425.8" y1="243.25" x2="425.8" y2="246.55" stroke="#6a4a3a" stroke-width="0.4" />
<line x1="428.0" y1="243.25" x2="428.0" y2="246.55" stroke="#6a4a3a" stroke-width="0.4" />
<line x1="430.2" y1="243.25" x2="430.2" y2="246.55" stroke="#6a4a3a" stroke-width="0.4" />
<line x1="432.4" y1="243.25" x2="432.4" y2="246.55" stroke="#6a4a3a" stroke-width="0.4" />
<line x1="434.6" y1="243.25" x2="434.6" y2="246.55" stroke="#6a4a3a" stroke-width="0.4" />
<line x1="436.8" y1="243.25" x2="436.8" y2="246.55" stroke="#6a4a3a" stroke-width="0.4" />
<line x1="439.0" y1="243.25" x2="439.0" y2="246.55" stroke="#6a4a3a" stroke-width="0.4" />
<rect x="417" y="246.95" width="22" height="1.3" fill="#151515" stroke="none" stroke-width="0.8" />
<rect x="417" y="250.39999999999998" width="22" height="2.6" fill="#7474c4" stroke="none" stroke-width="0.8" />
<rect x="439" y="245.0" width="21.30000000000001" height="4" fill="#f8d4e2" stroke="none" stroke-width="0.8" opacity="0.55"/>
<rect x="439" y="249.1" width="21.30000000000001" height="3.6" fill="#9a7a5a" stroke="none" stroke-width="0.8" />
<line x1="439.0" y1="249.1" x2="439.0" y2="252.70000000000002" stroke="#6a4a3a" stroke-width="0.4" />
<line x1="441.13" y1="249.1" x2="441.13" y2="252.70000000000002" stroke="#6a4a3a" stroke-width="0.4" />
<line x1="443.26" y1="249.1" x2="443.26" y2="252.70000000000002" stroke="#6a4a3a" stroke-width="0.4" />
<line x1="445.39" y1="249.1" x2="445.39" y2="252.70000000000002" stroke="#6a4a3a" stroke-width="0.4" />
<line x1="447.52" y1="249.1" x2="447.52" y2="252.70000000000002" stroke="#6a4a3a" stroke-width="0.4" />
<line x1="449.65" y1="249.1" x2="449.65" y2="252.70000000000002" stroke="#6a4a3a" stroke-width="0.4" />
<line x1="451.78000000000003" y1="249.1" x2="451.78000000000003" y2="252.70000000000002" stroke="#6a4a3a" stroke-width="0.4" />
<line x1="453.91" y1="249.1" x2="453.91" y2="252.70000000000002" stroke="#6a4a3a" stroke-width="0.4" />
<line x1="456.04" y1="249.1" x2="456.04" y2="252.70000000000002" stroke="#6a4a3a" stroke-width="0.4" />
<line x1="458.17" y1="249.1" x2="458.17" y2="252.70000000000002" stroke="#6a4a3a" stroke-width="0.4" />
<line x1="460.3" y1="249.1" x2="460.3" y2="252.70000000000002" stroke="#6a4a3a" stroke-width="0.4" />
<rect x="439" y="252.95" width="21.30000000000001" height="1.3" fill="#151515" stroke="none" stroke-width="0.8" />
<rect x="439" y="256.79999999999995" width="21.30000000000001" height="2.2" fill="#7474c4" stroke="none" stroke-width="0.8" />
<rect x="460.3" y="257.5" width="21.19999999999999" height="4" fill="#f8d4e2" stroke="none" stroke-width="0.8" opacity="0.55"/>
<rect x="460.3" y="261.2" width="21.19999999999999" height="1.6" fill="#9a7a5a" stroke="none" stroke-width="0.8" />
<line x1="460.3" y1="261.2" x2="460.3" y2="262.8" stroke="#6a4a3a" stroke-width="0.4" />
<line x1="462.65555555555557" y1="261.2" x2="462.65555555555557" y2="262.8" stroke="#6a4a3a" stroke-width="0.4" />
<line x1="465.0111111111111" y1="261.2" x2="465.0111111111111" y2="262.8" stroke="#6a4a3a" stroke-width="0.4" />
<line x1="467.3666666666667" y1="261.2" x2="467.3666666666667" y2="262.8" stroke="#6a4a3a" stroke-width="0.4" />
<line x1="469.72222222222223" y1="261.2" x2="469.72222222222223" y2="262.8" stroke="#6a4a3a" stroke-width="0.4" />
<line x1="472.0777777777778" y1="261.2" x2="472.0777777777778" y2="262.8" stroke="#6a4a3a" stroke-width="0.4" />
<line x1="474.43333333333334" y1="261.2" x2="474.43333333333334" y2="262.8" stroke="#6a4a3a" stroke-width="0.4" />
<line x1="476.7888888888889" y1="261.2" x2="476.7888888888889" y2="262.8" stroke="#6a4a3a" stroke-width="0.4" />
<line x1="479.14444444444445" y1="261.2" x2="479.14444444444445" y2="262.8" stroke="#6a4a3a" stroke-width="0.4" />
<line x1="481.5" y1="261.2" x2="481.5" y2="262.8" stroke="#6a4a3a" stroke-width="0.4" />
<rect x="460.3" y="264.2" width="21.19999999999999" height="2.0" fill="#151515" stroke="none" stroke-width="0.8" />
<rect x="460.3" y="268.4" width="21.19999999999999" height="2.2" fill="#7474c4" stroke="none" stroke-width="0.8" />
<rect x="481.5" y="271.5" width="21.0" height="4" fill="#f8d4e2" stroke="none" stroke-width="0.8" opacity="0.55"/>
<rect x="481.5" y="275.0" width="21.0" height="1.6" fill="#9a7a5a" stroke="none" stroke-width="0.8" />
<line x1="481.5" y1="275.0" x2="481.5" y2="276.6" stroke="#6a4a3a" stroke-width="0.4" />
<line x1="483.8333333333333" y1="275.0" x2="483.8333333333333" y2="276.6" stroke="#6a4a3a" stroke-width="0.4" />
<line x1="486.1666666666667" y1="275.0" x2="486.1666666666667" y2="276.6" stroke="#6a4a3a" stroke-width="0.4" />
<line x1="488.5" y1="275.0" x2="488.5" y2="276.6" stroke="#6a4a3a" stroke-width="0.4" />
<line x1="490.8333333333333" y1="275.0" x2="490.8333333333333" y2="276.6" stroke="#6a4a3a" stroke-width="0.4" />
<line x1="493.1666666666667" y1="275.0" x2="493.1666666666667" y2="276.6" stroke="#6a4a3a" stroke-width="0.4" />
<line x1="495.5" y1="275.0" x2="495.5" y2="276.6" stroke="#6a4a3a" stroke-width="0.4" />
<line x1="497.8333333333333" y1="275.0" x2="497.8333333333333" y2="276.6" stroke="#6a4a3a" stroke-width="0.4" />
<line x1="500.1666666666667" y1="275.0" x2="500.1666666666667" y2="276.6" stroke="#6a4a3a" stroke-width="0.4" />
<line x1="502.5" y1="275.0" x2="502.5" y2="276.6" stroke="#6a4a3a" stroke-width="0.4" />
<rect x="481.5" y="280.3" width="21.0" height="2.0" fill="#151515" stroke="none" stroke-width="0.8" />
<rect x="481.5" y="284.7" width="21.0" height="2.0" fill="#7474c4" stroke="none" stroke-width="0.8" />
<rect x="502.5" y="231.5" width="22.700000000000045" height="4" fill="#f8d4e2" stroke="none" stroke-width="0.8" opacity="0.55"/>
<rect x="502.5" y="234.4" width="22.700000000000045" height="2.4" fill="#9a7a5a" stroke="none" stroke-width="0.8" />
<line x1="502.5" y1="234.4" x2="502.5" y2="236.79999999999998" stroke="#6a4a3a" stroke-width="0.4" />
<line x1="504.77" y1="234.4" x2="504.77" y2="236.79999999999998" stroke="#6a4a3a" stroke-width="0.4" />
<line x1="507.04" y1="234.4" x2="507.04" y2="236.79999999999998" stroke="#6a4a3a" stroke-width="0.4" />
<line x1="509.31" y1="234.4" x2="509.31" y2="236.79999999999998" stroke="#6a4a3a" stroke-width="0.4" />
<line x1="511.58000000000004" y1="234.4" x2="511.58000000000004" y2="236.79999999999998" stroke="#6a4a3a" stroke-width="0.4" />
<line x1="513.85" y1="234.4" x2="513.85" y2="236.79999999999998" stroke="#6a4a3a" stroke-width="0.4" />
<line x1="516.12" y1="234.4" x2="516.12" y2="236.79999999999998" stroke="#6a4a3a" stroke-width="0.4" />
<line x1="518.39" y1="234.4" x2="518.39" y2="236.79999999999998" stroke="#6a4a3a" stroke-width="0.4" />
<line x1="520.6600000000001" y1="234.4" x2="520.6600000000001" y2="236.79999999999998" stroke="#6a4a3a" stroke-width="0.4" />
<line x1="522.9300000000001" y1="234.4" x2="522.9300000000001" y2="236.79999999999998" stroke="#6a4a3a" stroke-width="0.4" />
<line x1="525.2" y1="234.4" x2="525.2" y2="236.79999999999998" stroke="#6a4a3a" stroke-width="0.4" />
<rect x="502.5" y="237.3" width="22.700000000000045" height="2.4" fill="#151515" stroke="none" stroke-width="0.8" />
<rect x="502.5" y="243.0" width="22.700000000000045" height="2.0" fill="#7474c4" stroke="none" stroke-width="0.8" />
<text x="406.8" y="246.20000000000002" font-size="6.6" font-weight="bold" fill="#000" text-anchor="middle" font-family='"Liberation Sans", sans-serif' >0.2 C</text>
<text x="426.2" y="262.0" font-size="6.6" font-weight="bold" fill="#000" text-anchor="middle" font-family='"Liberation Sans", sans-serif' >0.5 C</text>
<text x="449" y="267.7" font-size="6.6" font-weight="bold" fill="#000" text-anchor="middle" font-family='"Liberation Sans", sans-serif' >1 C</text>
<text x="470.1" y="278.7" font-size="6.6" font-weight="bold" fill="#000" text-anchor="middle" font-family='"Liberation Sans", sans-serif' >2 C</text>
<text x="491.6" y="295.3" font-size="6.6" font-weight="bold" fill="#000" text-anchor="middle" font-family='"Liberation Sans", sans-serif' >5 C</text>
<text x="511.2" y="252.8" font-size="6.6" font-weight="bold" fill="#000" text-anchor="middle" font-family='"Liberation Sans", sans-serif' >0.2 C</text>
<rect x="451.6" y="217.7" width="1.8" height="13.300000000000011" fill="#e4e2ee" stroke="none" stroke-width="0.8" rx="0.9"/>
<line x1="452.5" y1="231" x2="452.5" y2="218.2" stroke="#7a7060" stroke-width="1.1" />
<circle cx="452.5" cy="231.0" r="1.8" fill="#9a9080" stroke="#7a7060" stroke-width="0.6"/>
<rect x="464.5" y="217.7" width="1.8" height="13.300000000000011" fill="#e4e2ee" stroke="none" stroke-width="0.8" rx="0.9"/>
<line x1="465.4" y1="231" x2="465.4" y2="225.5" stroke="#4a4a5a" stroke-width="1.1" />
<circle cx="465.4" cy="231.0" r="1.8" fill="#b8b8c0" stroke="#4a4a5a" stroke-width="0.6"/>
<rect x="478.3" y="217.7" width="1.8" height="13.300000000000011" fill="#e4e2ee" stroke="none" stroke-width="0.8" rx="0.9"/>
<line x1="479.2" y1="231" x2="479.2" y2="227.5" stroke="#4a4aa8" stroke-width="1.1" />
<circle cx="479.2" cy="231.0" r="1.8" fill="#8a8ad0" stroke="#4a4aa8" stroke-width="0.6"/>
<text x="469.8" y="240" font-size="5.0" font-weight="bold" fill="#000" text-anchor="middle" font-family='"Liberation Sans", sans-serif' textLength="48" lengthAdjust="spacingAndGlyphs">60 °C 25 °C−20 °C</text>
</svg></body></html>
